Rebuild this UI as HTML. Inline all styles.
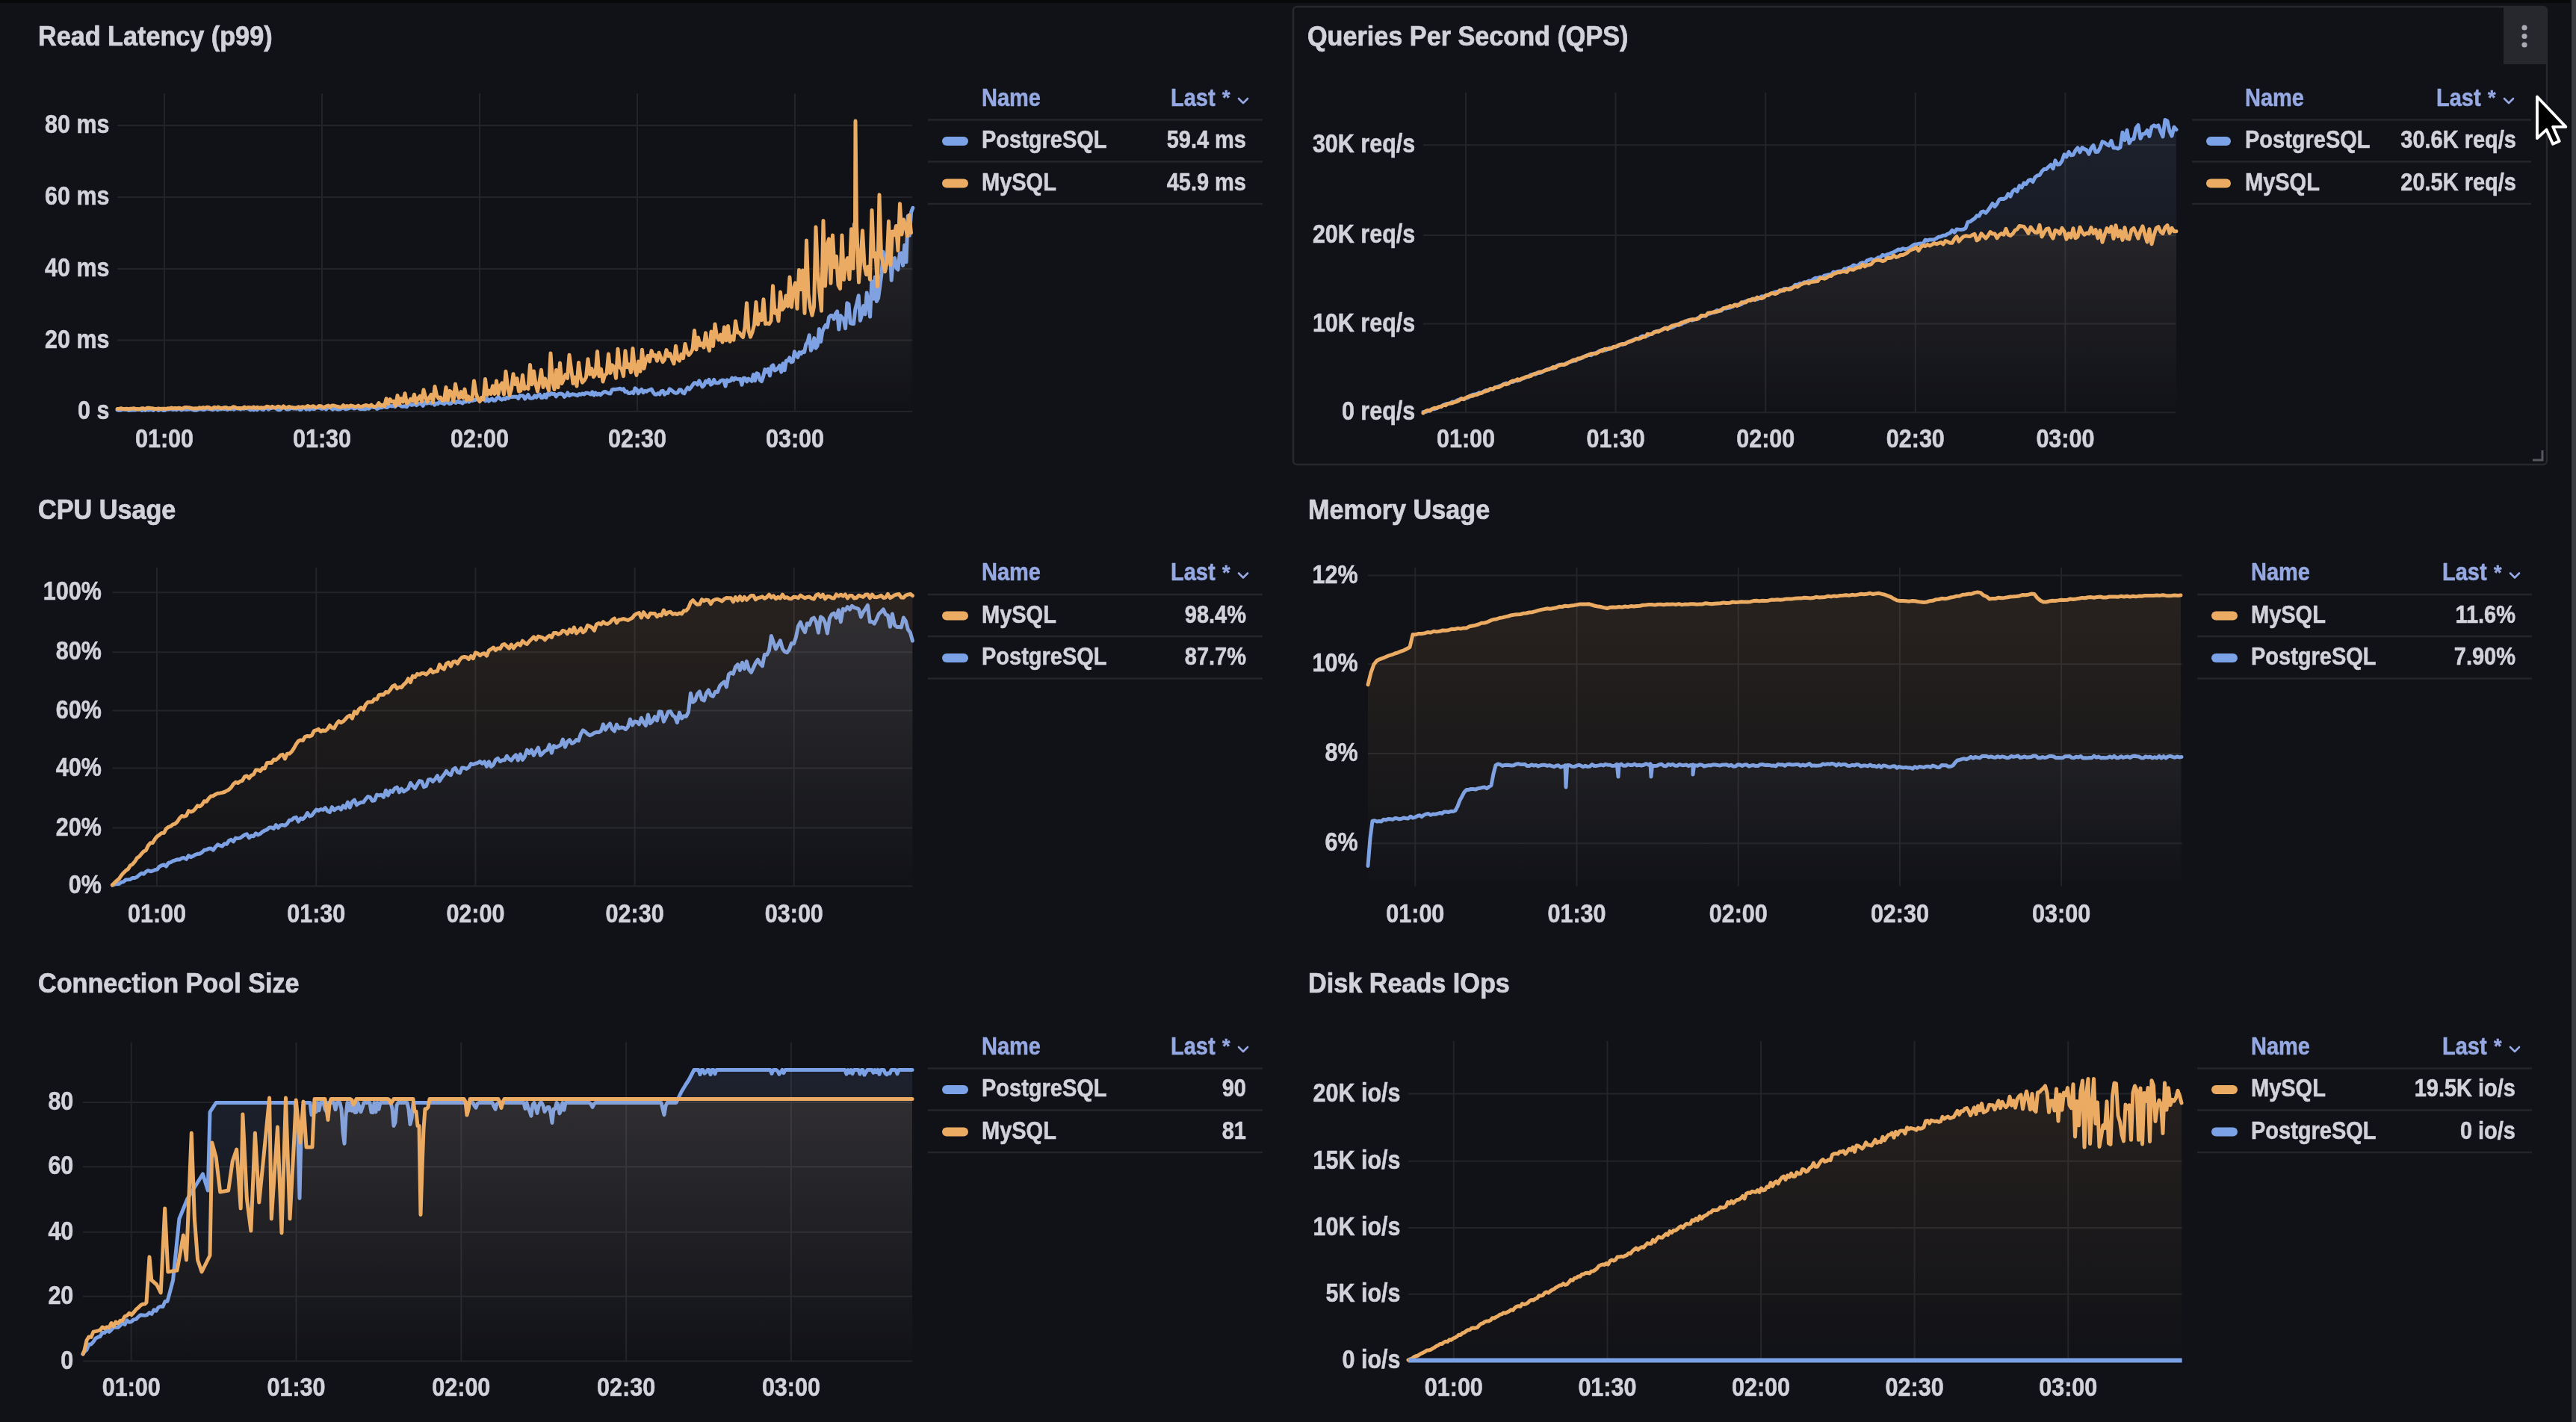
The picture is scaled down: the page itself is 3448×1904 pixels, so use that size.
<!DOCTYPE html>
<html><head><meta charset="utf-8"><title>Dashboard</title>
<style>
html,body{margin:0;padding:0;background:#111217;width:3448px;height:1904px;overflow:hidden;position:relative}
svg{display:block;filter:blur(0.75px)}
text{font-family:"Liberation Sans", sans-serif;}
.t{font-size:34.2px;font-weight:700;fill:#d2d3da;stroke:#d2d3da;stroke-width:0.7px}
.ax{font-size:30.5px;font-weight:700;fill:#d2d3da;stroke:#d2d3da;stroke-width:0.5px}
.lh{font-size:29px;font-weight:700;fill:#95a8e2;stroke:#95a8e2;stroke-width:0.5px}
.lg{font-size:29px;font-weight:700;fill:#d2d3da;stroke:#d2d3da;stroke-width:0.5px}
</style></head><body>
<svg width="3448" height="1904" viewBox="0 0 3448 1904">
<defs><linearGradient id="g_rl_b" gradientUnits="userSpaceOnUse" x1="0" y1="125" x2="0" y2="551"><stop offset="0" stop-color="#7ba1e6" stop-opacity="0.12"/><stop offset="1" stop-color="#7ba1e6" stop-opacity="0.0"/></linearGradient>
<linearGradient id="g_rl_o" gradientUnits="userSpaceOnUse" x1="0" y1="125" x2="0" y2="551"><stop offset="0" stop-color="#ebab62" stop-opacity="0.115"/><stop offset="1" stop-color="#ebab62" stop-opacity="0.0"/></linearGradient>
<linearGradient id="g_q_b" gradientUnits="userSpaceOnUse" x1="0" y1="124" x2="0" y2="552.3"><stop offset="0" stop-color="#7ba1e6" stop-opacity="0.12"/><stop offset="1" stop-color="#7ba1e6" stop-opacity="0.0"/></linearGradient>
<linearGradient id="g_q_o" gradientUnits="userSpaceOnUse" x1="0" y1="124" x2="0" y2="552.3"><stop offset="0" stop-color="#ebab62" stop-opacity="0.115"/><stop offset="1" stop-color="#ebab62" stop-opacity="0.0"/></linearGradient>
<linearGradient id="g_c_b" gradientUnits="userSpaceOnUse" x1="0" y1="760" x2="0" y2="1186.4"><stop offset="0" stop-color="#7ba1e6" stop-opacity="0.12"/><stop offset="1" stop-color="#7ba1e6" stop-opacity="0.0"/></linearGradient>
<linearGradient id="g_c_o" gradientUnits="userSpaceOnUse" x1="0" y1="760" x2="0" y2="1186.4"><stop offset="0" stop-color="#ebab62" stop-opacity="0.115"/><stop offset="1" stop-color="#ebab62" stop-opacity="0.0"/></linearGradient>
<linearGradient id="g_m_b" gradientUnits="userSpaceOnUse" x1="0" y1="760" x2="0" y2="1186.4"><stop offset="0" stop-color="#7ba1e6" stop-opacity="0.12"/><stop offset="1" stop-color="#7ba1e6" stop-opacity="0.0"/></linearGradient>
<linearGradient id="g_m_o" gradientUnits="userSpaceOnUse" x1="0" y1="760" x2="0" y2="1186.4"><stop offset="0" stop-color="#ebab62" stop-opacity="0.115"/><stop offset="1" stop-color="#ebab62" stop-opacity="0.0"/></linearGradient>
<linearGradient id="g_p_b" gradientUnits="userSpaceOnUse" x1="0" y1="1395.5" x2="0" y2="1822.6"><stop offset="0" stop-color="#7ba1e6" stop-opacity="0.12"/><stop offset="1" stop-color="#7ba1e6" stop-opacity="0.0"/></linearGradient>
<linearGradient id="g_p_o" gradientUnits="userSpaceOnUse" x1="0" y1="1395.5" x2="0" y2="1822.6"><stop offset="0" stop-color="#ebab62" stop-opacity="0.115"/><stop offset="1" stop-color="#ebab62" stop-opacity="0.0"/></linearGradient>
<linearGradient id="g_d_o" gradientUnits="userSpaceOnUse" x1="0" y1="1394" x2="0" y2="1822"><stop offset="0" stop-color="#ebab62" stop-opacity="0.115"/><stop offset="1" stop-color="#ebab62" stop-opacity="0.0"/></linearGradient>
<linearGradient id="g_d_b" gradientUnits="userSpaceOnUse" x1="0" y1="1394" x2="0" y2="1822"><stop offset="0" stop-color="#7ba1e6" stop-opacity="0.0"/><stop offset="1" stop-color="#7ba1e6" stop-opacity="0.0"/></linearGradient></defs>
<rect x="0" y="0" width="3448" height="1904" fill="#111217"/>

<rect x="1731" y="9" width="1678" height="613" rx="5" fill="none" stroke="#26282d" stroke-width="2.5"/>
<path d="M3351,9 H3404 a5,5 0 0 1 5,5 V86 H3351 Z" fill="#27272e"/>
<circle cx="3379" cy="37" r="3.6" fill="#a9aab2"/>
<circle cx="3379" cy="48.5" r="3.6" fill="#a9aab2"/>
<circle cx="3379" cy="60" r="3.6" fill="#a9aab2"/>
<path d="M3403,603 V616 H3390" fill="none" stroke="#55575e" stroke-width="3"/>
<line x1="157" y1="168" x2="1221" y2="168" stroke="#232429" stroke-width="2"/>
<line x1="157" y1="264" x2="1221" y2="264" stroke="#232429" stroke-width="2"/>
<line x1="157" y1="360" x2="1221" y2="360" stroke="#232429" stroke-width="2"/>
<line x1="157" y1="455.5" x2="1221" y2="455.5" stroke="#232429" stroke-width="2"/>
<line x1="157" y1="551" x2="1221" y2="551" stroke="#232429" stroke-width="2"/>
<line x1="220.0" y1="125" x2="220.0" y2="551" stroke="#232429" stroke-width="2"/>
<line x1="431.0" y1="125" x2="431.0" y2="551" stroke="#232429" stroke-width="2"/>
<line x1="642.0" y1="125" x2="642.0" y2="551" stroke="#232429" stroke-width="2"/>
<line x1="853.0" y1="125" x2="853.0" y2="551" stroke="#232429" stroke-width="2"/>
<line x1="1064.0" y1="125" x2="1064.0" y2="551" stroke="#232429" stroke-width="2"/>
<path d="M157.0,548.9 L159.2,549.3 L161.4,549.3 L163.6,548.2 L165.8,547.9 L168.0,548.6 L170.2,548.4 L172.4,549.5 L174.6,549.2 L176.8,549.0 L179.0,548.9 L181.2,549.1 L183.4,548.0 L185.6,548.6 L187.8,548.0 L190.0,549.6 L192.2,547.7 L194.4,549.4 L196.6,547.7 L198.8,549.1 L201.0,548.2 L203.2,548.4 L205.4,549.4 L207.6,547.5 L209.8,547.5 L212.0,549.5 L214.2,548.5 L216.4,547.5 L218.6,549.6 L220.8,549.5 L223.0,547.5 L225.2,548.2 L227.4,547.5 L229.6,547.9 L231.8,548.6 L234.0,547.5 L236.2,548.8 L238.4,547.2 L240.6,547.5 L242.8,549.0 L245.0,548.0 L247.2,548.0 L249.4,548.4 L251.6,548.1 L253.8,547.9 L256.0,546.9 L258.2,548.7 L260.4,549.3 L262.6,549.3 L264.8,548.5 L267.0,547.7 L269.2,547.7 L271.4,548.5 L273.6,548.4 L275.8,546.9 L278.0,547.2 L280.2,547.6 L282.4,547.9 L284.6,548.7 L286.8,547.9 L289.0,546.5 L291.2,548.7 L293.4,547.6 L295.6,547.8 L297.8,547.0 L300.0,547.5 L302.2,547.4 L304.4,548.5 L306.6,546.6 L308.8,547.8 L311.0,546.7 L313.2,548.2 L315.4,546.3 L317.6,546.9 L319.8,547.1 L322.0,548.0 L324.2,546.2 L326.4,547.4 L328.6,546.6 L330.8,546.8 L333.0,547.4 L335.2,548.8 L337.4,547.4 L339.6,548.8 L341.8,546.4 L344.0,548.7 L346.2,546.9 L348.4,546.4 L350.6,548.1 L352.8,548.6 L355.0,545.7 L357.2,546.5 L359.4,548.1 L361.6,546.7 L363.8,546.4 L366.0,545.6 L368.2,545.7 L370.4,547.5 L372.6,548.7 L374.8,548.7 L377.0,547.1 L379.2,545.5 L381.4,546.4 L383.6,548.0 L385.8,548.1 L388.0,547.4 L390.2,546.1 L392.4,547.0 L394.6,546.8 L396.8,547.3 L399.0,546.1 L401.2,548.4 L403.4,548.2 L405.6,545.7 L407.8,546.1 L410.0,548.1 L412.2,546.0 L414.4,548.3 L416.6,546.8 L418.8,547.4 L421.0,547.4 L423.2,545.7 L425.4,545.9 L427.6,545.8 L429.8,547.3 L432.0,547.3 L434.2,545.2 L436.4,548.0 L438.6,546.2 L440.8,545.6 L443.0,546.3 L445.2,548.2 L447.4,546.7 L449.6,546.9 L451.8,548.0 L454.0,548.1 L456.2,547.4 L458.4,546.1 L460.6,546.7 L462.8,547.8 L465.0,547.4 L467.2,546.6 L469.4,545.7 L471.6,545.7 L473.8,547.1 L476.0,546.5 L478.2,544.3 L480.4,547.0 L482.6,547.7 L484.8,547.3 L487.0,547.7 L489.2,547.7 L491.4,546.2 L493.6,547.2 L495.8,545.6 L498.0,544.4 L500.2,545.4 L502.4,545.1 L504.6,547.4 L506.8,546.3 L509.0,545.5 L511.2,545.7 L513.4,543.5 L515.6,545.0 L517.8,545.6 L520.0,544.1 L522.2,543.3 L524.4,543.9 L526.6,543.3 L528.8,544.7 L531.0,542.2 L533.2,541.9 L535.4,542.7 L537.6,544.2 L539.8,544.3 L542.0,543.7 L544.2,544.8 L546.4,542.1 L548.6,540.4 L550.8,542.3 L553.0,542.0 L555.2,540.6 L557.4,542.7 L559.6,541.0 L561.8,540.4 L564.0,540.6 L566.2,543.3 L568.4,538.8 L570.6,540.3 L572.8,539.8 L575.0,539.2 L577.2,540.2 L579.4,539.0 L581.6,542.2 L583.8,540.0 L586.0,540.8 L588.2,538.1 L590.4,539.4 L592.6,539.9 L594.8,540.9 L597.0,537.8 L599.2,538.7 L601.4,540.5 L603.6,540.3 L605.8,537.1 L608.0,538.5 L610.2,539.5 L612.4,537.4 L614.6,538.7 L616.8,538.5 L619.0,540.0 L621.2,537.6 L623.4,538.1 L625.6,536.2 L627.8,538.1 L630.0,535.8 L632.2,536.6 L634.4,535.7 L636.6,535.2 L638.8,534.1 L641.0,534.4 L643.2,536.0 L645.4,534.2 L647.6,532.9 L649.8,536.8 L652.0,533.8 L654.2,537.2 L656.4,535.1 L658.6,533.8 L660.8,536.3 L663.0,536.2 L665.2,532.8 L667.4,531.5 L669.6,534.2 L671.8,535.2 L674.0,533.7 L676.2,534.5 L678.4,532.2 L680.6,533.2 L682.8,530.9 L685.0,531.5 L687.2,531.2 L689.4,531.2 L691.6,531.2 L693.8,533.5 L696.0,529.6 L698.2,529.7 L700.4,529.9 L702.6,534.1 L704.8,531.3 L707.0,528.4 L709.2,533.0 L711.4,533.2 L713.6,532.8 L715.8,529.8 L718.0,532.0 L720.2,529.3 L722.4,528.1 L724.6,532.6 L726.8,532.3 L729.0,528.3 L731.2,532.4 L733.4,526.9 L735.6,528.6 L737.8,526.6 L740.0,527.5 L742.2,527.4 L744.4,530.8 L746.6,528.0 L748.8,527.2 L751.0,527.1 L753.2,527.8 L755.4,531.3 L757.6,529.5 L759.8,526.0 L762.0,529.7 L764.2,528.5 L766.4,527.8 L768.6,528.2 L770.8,528.9 L773.0,529.7 L775.2,527.6 L777.4,528.3 L779.6,527.0 L781.8,528.0 L784.0,526.2 L786.2,526.2 L788.4,526.8 L790.6,528.0 L792.8,524.8 L795.0,529.2 L797.2,526.0 L799.4,528.4 L801.6,527.1 L803.8,528.8 L806.0,526.7 L808.2,524.8 L810.4,524.5 L812.6,525.8 L814.8,526.7 L817.0,527.1 L819.2,521.9 L821.4,521.2 L823.6,521.4 L825.8,521.1 L828.0,520.7 L830.2,520.2 L832.4,521.8 L834.6,520.7 L836.8,524.7 L839.0,524.1 L841.2,526.5 L843.4,526.5 L845.6,525.0 L847.8,526.6 L850.0,519.8 L852.2,521.4 L854.4,526.7 L856.6,523.4 L858.8,521.4 L861.0,525.7 L863.2,523.2 L865.4,524.2 L867.6,522.6 L869.8,522.1 L872.0,521.0 L874.2,525.1 L876.4,527.9 L878.6,528.2 L880.8,526.6 L883.0,528.0 L885.2,523.6 L887.4,523.2 L889.6,528.2 L891.8,525.7 L894.0,526.2 L896.2,520.8 L898.4,522.2 L900.6,524.0 L902.8,525.8 L905.0,526.4 L907.2,525.6 L909.4,521.8 L911.6,521.9 L913.8,525.9 L916.0,526.8 L918.2,522.1 L920.4,518.9 L922.6,521.3 L924.8,518.8 L927.0,515.6 L929.2,512.7 L931.4,512.8 L933.6,514.9 L935.8,509.8 L938.0,513.9 L940.2,518.0 L942.4,515.7 L944.6,510.3 L946.8,511.9 L949.0,508.3 L951.2,515.1 L953.4,513.8 L955.6,508.4 L957.8,512.5 L960.0,512.9 L962.2,512.5 L964.4,510.0 L966.6,509.0 L968.8,509.3 L971.0,517.0 L973.2,508.7 L975.4,510.6 L977.6,509.9 L979.8,506.1 L982.0,508.8 L984.2,506.1 L986.4,507.4 L988.6,507.8 L990.8,507.4 L993.0,515.2 L995.2,506.3 L997.4,506.6 L999.6,510.9 L1001.8,507.1 L1004.0,508.6 L1006.2,510.4 L1008.4,501.6 L1010.6,509.8 L1012.8,499.7 L1015.0,500.8 L1017.2,508.8 L1019.4,510.7 L1021.6,504.4 L1023.8,494.6 L1026.0,498.0 L1028.2,494.1 L1030.4,503.0 L1032.6,490.7 L1034.8,488.8 L1037.0,496.0 L1039.2,494.9 L1041.4,492.8 L1043.6,489.5 L1045.8,498.1 L1048.0,486.8 L1050.2,495.7 L1052.4,483.0 L1054.6,483.0 L1056.8,478.9 L1059.0,485.0 L1061.2,484.2 L1063.4,470.8 L1065.6,475.6 L1067.8,478.6 L1070.0,471.6 L1072.2,473.7 L1074.4,470.9 L1076.6,471.6 L1078.8,460.9 L1081.0,457.9 L1083.2,448.8 L1085.4,469.3 L1087.6,464.9 L1089.8,452.6 L1092.0,466.2 L1094.2,462.8 L1096.4,440.4 L1098.6,457.5 L1100.8,444.1 L1103.0,439.1 L1105.2,435.4 L1107.4,438.2 L1109.6,424.7 L1111.8,422.5 L1114.0,422.6 L1116.2,427.2 L1118.4,420.1 L1120.6,416.8 L1122.8,441.1 L1125.0,422.6 L1127.2,425.1 L1129.4,427.8 L1131.6,439.7 L1133.8,405.8 L1136.0,407.3 L1138.2,432.7 L1140.4,433.5 L1142.6,433.6 L1144.8,414.2 L1147.0,405.5 L1149.2,395.7 L1151.4,429.3 L1153.6,421.3 L1155.8,409.6 L1158.0,420.7 L1160.2,392.1 L1162.4,405.2 L1164.6,424.1 L1166.8,376.7 L1169.0,400.0 L1171.2,371.0 L1173.4,403.5 L1175.6,399.1 L1177.8,383.2 L1180.0,366.2 L1182.2,337.3 L1184.4,362.6 L1186.6,350.6 L1188.8,349.6 L1191.0,325.5 L1193.2,375.3 L1195.4,346.7 L1197.6,345.6 L1199.8,358.9 L1202.0,361.0 L1204.2,339.9 L1206.4,338.9 L1208.6,355.6 L1210.8,328.2 L1213.0,350.8 L1215.2,289.2 L1217.4,315.2 L1219.6,284.1 L1221.8,278.4 L1221.8,551.0 L157.0,551.0 Z" fill="url(#g_rl_b)" stroke="none"/>
<path d="M157.0,548.9 L159.2,549.3 L161.4,549.3 L163.6,548.2 L165.8,547.9 L168.0,548.6 L170.2,548.4 L172.4,549.5 L174.6,549.2 L176.8,549.0 L179.0,548.9 L181.2,549.1 L183.4,548.0 L185.6,548.6 L187.8,548.0 L190.0,549.6 L192.2,547.7 L194.4,549.4 L196.6,547.7 L198.8,549.1 L201.0,548.2 L203.2,548.4 L205.4,549.4 L207.6,547.5 L209.8,547.5 L212.0,549.5 L214.2,548.5 L216.4,547.5 L218.6,549.6 L220.8,549.5 L223.0,547.5 L225.2,548.2 L227.4,547.5 L229.6,547.9 L231.8,548.6 L234.0,547.5 L236.2,548.8 L238.4,547.2 L240.6,547.5 L242.8,549.0 L245.0,548.0 L247.2,548.0 L249.4,548.4 L251.6,548.1 L253.8,547.9 L256.0,546.9 L258.2,548.7 L260.4,549.3 L262.6,549.3 L264.8,548.5 L267.0,547.7 L269.2,547.7 L271.4,548.5 L273.6,548.4 L275.8,546.9 L278.0,547.2 L280.2,547.6 L282.4,547.9 L284.6,548.7 L286.8,547.9 L289.0,546.5 L291.2,548.7 L293.4,547.6 L295.6,547.8 L297.8,547.0 L300.0,547.5 L302.2,547.4 L304.4,548.5 L306.6,546.6 L308.8,547.8 L311.0,546.7 L313.2,548.2 L315.4,546.3 L317.6,546.9 L319.8,547.1 L322.0,548.0 L324.2,546.2 L326.4,547.4 L328.6,546.6 L330.8,546.8 L333.0,547.4 L335.2,548.8 L337.4,547.4 L339.6,548.8 L341.8,546.4 L344.0,548.7 L346.2,546.9 L348.4,546.4 L350.6,548.1 L352.8,548.6 L355.0,545.7 L357.2,546.5 L359.4,548.1 L361.6,546.7 L363.8,546.4 L366.0,545.6 L368.2,545.7 L370.4,547.5 L372.6,548.7 L374.8,548.7 L377.0,547.1 L379.2,545.5 L381.4,546.4 L383.6,548.0 L385.8,548.1 L388.0,547.4 L390.2,546.1 L392.4,547.0 L394.6,546.8 L396.8,547.3 L399.0,546.1 L401.2,548.4 L403.4,548.2 L405.6,545.7 L407.8,546.1 L410.0,548.1 L412.2,546.0 L414.4,548.3 L416.6,546.8 L418.8,547.4 L421.0,547.4 L423.2,545.7 L425.4,545.9 L427.6,545.8 L429.8,547.3 L432.0,547.3 L434.2,545.2 L436.4,548.0 L438.6,546.2 L440.8,545.6 L443.0,546.3 L445.2,548.2 L447.4,546.7 L449.6,546.9 L451.8,548.0 L454.0,548.1 L456.2,547.4 L458.4,546.1 L460.6,546.7 L462.8,547.8 L465.0,547.4 L467.2,546.6 L469.4,545.7 L471.6,545.7 L473.8,547.1 L476.0,546.5 L478.2,544.3 L480.4,547.0 L482.6,547.7 L484.8,547.3 L487.0,547.7 L489.2,547.7 L491.4,546.2 L493.6,547.2 L495.8,545.6 L498.0,544.4 L500.2,545.4 L502.4,545.1 L504.6,547.4 L506.8,546.3 L509.0,545.5 L511.2,545.7 L513.4,543.5 L515.6,545.0 L517.8,545.6 L520.0,544.1 L522.2,543.3 L524.4,543.9 L526.6,543.3 L528.8,544.7 L531.0,542.2 L533.2,541.9 L535.4,542.7 L537.6,544.2 L539.8,544.3 L542.0,543.7 L544.2,544.8 L546.4,542.1 L548.6,540.4 L550.8,542.3 L553.0,542.0 L555.2,540.6 L557.4,542.7 L559.6,541.0 L561.8,540.4 L564.0,540.6 L566.2,543.3 L568.4,538.8 L570.6,540.3 L572.8,539.8 L575.0,539.2 L577.2,540.2 L579.4,539.0 L581.6,542.2 L583.8,540.0 L586.0,540.8 L588.2,538.1 L590.4,539.4 L592.6,539.9 L594.8,540.9 L597.0,537.8 L599.2,538.7 L601.4,540.5 L603.6,540.3 L605.8,537.1 L608.0,538.5 L610.2,539.5 L612.4,537.4 L614.6,538.7 L616.8,538.5 L619.0,540.0 L621.2,537.6 L623.4,538.1 L625.6,536.2 L627.8,538.1 L630.0,535.8 L632.2,536.6 L634.4,535.7 L636.6,535.2 L638.8,534.1 L641.0,534.4 L643.2,536.0 L645.4,534.2 L647.6,532.9 L649.8,536.8 L652.0,533.8 L654.2,537.2 L656.4,535.1 L658.6,533.8 L660.8,536.3 L663.0,536.2 L665.2,532.8 L667.4,531.5 L669.6,534.2 L671.8,535.2 L674.0,533.7 L676.2,534.5 L678.4,532.2 L680.6,533.2 L682.8,530.9 L685.0,531.5 L687.2,531.2 L689.4,531.2 L691.6,531.2 L693.8,533.5 L696.0,529.6 L698.2,529.7 L700.4,529.9 L702.6,534.1 L704.8,531.3 L707.0,528.4 L709.2,533.0 L711.4,533.2 L713.6,532.8 L715.8,529.8 L718.0,532.0 L720.2,529.3 L722.4,528.1 L724.6,532.6 L726.8,532.3 L729.0,528.3 L731.2,532.4 L733.4,526.9 L735.6,528.6 L737.8,526.6 L740.0,527.5 L742.2,527.4 L744.4,530.8 L746.6,528.0 L748.8,527.2 L751.0,527.1 L753.2,527.8 L755.4,531.3 L757.6,529.5 L759.8,526.0 L762.0,529.7 L764.2,528.5 L766.4,527.8 L768.6,528.2 L770.8,528.9 L773.0,529.7 L775.2,527.6 L777.4,528.3 L779.6,527.0 L781.8,528.0 L784.0,526.2 L786.2,526.2 L788.4,526.8 L790.6,528.0 L792.8,524.8 L795.0,529.2 L797.2,526.0 L799.4,528.4 L801.6,527.1 L803.8,528.8 L806.0,526.7 L808.2,524.8 L810.4,524.5 L812.6,525.8 L814.8,526.7 L817.0,527.1 L819.2,521.9 L821.4,521.2 L823.6,521.4 L825.8,521.1 L828.0,520.7 L830.2,520.2 L832.4,521.8 L834.6,520.7 L836.8,524.7 L839.0,524.1 L841.2,526.5 L843.4,526.5 L845.6,525.0 L847.8,526.6 L850.0,519.8 L852.2,521.4 L854.4,526.7 L856.6,523.4 L858.8,521.4 L861.0,525.7 L863.2,523.2 L865.4,524.2 L867.6,522.6 L869.8,522.1 L872.0,521.0 L874.2,525.1 L876.4,527.9 L878.6,528.2 L880.8,526.6 L883.0,528.0 L885.2,523.6 L887.4,523.2 L889.6,528.2 L891.8,525.7 L894.0,526.2 L896.2,520.8 L898.4,522.2 L900.6,524.0 L902.8,525.8 L905.0,526.4 L907.2,525.6 L909.4,521.8 L911.6,521.9 L913.8,525.9 L916.0,526.8 L918.2,522.1 L920.4,518.9 L922.6,521.3 L924.8,518.8 L927.0,515.6 L929.2,512.7 L931.4,512.8 L933.6,514.9 L935.8,509.8 L938.0,513.9 L940.2,518.0 L942.4,515.7 L944.6,510.3 L946.8,511.9 L949.0,508.3 L951.2,515.1 L953.4,513.8 L955.6,508.4 L957.8,512.5 L960.0,512.9 L962.2,512.5 L964.4,510.0 L966.6,509.0 L968.8,509.3 L971.0,517.0 L973.2,508.7 L975.4,510.6 L977.6,509.9 L979.8,506.1 L982.0,508.8 L984.2,506.1 L986.4,507.4 L988.6,507.8 L990.8,507.4 L993.0,515.2 L995.2,506.3 L997.4,506.6 L999.6,510.9 L1001.8,507.1 L1004.0,508.6 L1006.2,510.4 L1008.4,501.6 L1010.6,509.8 L1012.8,499.7 L1015.0,500.8 L1017.2,508.8 L1019.4,510.7 L1021.6,504.4 L1023.8,494.6 L1026.0,498.0 L1028.2,494.1 L1030.4,503.0 L1032.6,490.7 L1034.8,488.8 L1037.0,496.0 L1039.2,494.9 L1041.4,492.8 L1043.6,489.5 L1045.8,498.1 L1048.0,486.8 L1050.2,495.7 L1052.4,483.0 L1054.6,483.0 L1056.8,478.9 L1059.0,485.0 L1061.2,484.2 L1063.4,470.8 L1065.6,475.6 L1067.8,478.6 L1070.0,471.6 L1072.2,473.7 L1074.4,470.9 L1076.6,471.6 L1078.8,460.9 L1081.0,457.9 L1083.2,448.8 L1085.4,469.3 L1087.6,464.9 L1089.8,452.6 L1092.0,466.2 L1094.2,462.8 L1096.4,440.4 L1098.6,457.5 L1100.8,444.1 L1103.0,439.1 L1105.2,435.4 L1107.4,438.2 L1109.6,424.7 L1111.8,422.5 L1114.0,422.6 L1116.2,427.2 L1118.4,420.1 L1120.6,416.8 L1122.8,441.1 L1125.0,422.6 L1127.2,425.1 L1129.4,427.8 L1131.6,439.7 L1133.8,405.8 L1136.0,407.3 L1138.2,432.7 L1140.4,433.5 L1142.6,433.6 L1144.8,414.2 L1147.0,405.5 L1149.2,395.7 L1151.4,429.3 L1153.6,421.3 L1155.8,409.6 L1158.0,420.7 L1160.2,392.1 L1162.4,405.2 L1164.6,424.1 L1166.8,376.7 L1169.0,400.0 L1171.2,371.0 L1173.4,403.5 L1175.6,399.1 L1177.8,383.2 L1180.0,366.2 L1182.2,337.3 L1184.4,362.6 L1186.6,350.6 L1188.8,349.6 L1191.0,325.5 L1193.2,375.3 L1195.4,346.7 L1197.6,345.6 L1199.8,358.9 L1202.0,361.0 L1204.2,339.9 L1206.4,338.9 L1208.6,355.6 L1210.8,328.2 L1213.0,350.8 L1215.2,289.2 L1217.4,315.2 L1219.6,284.1 L1221.8,278.4" fill="none" stroke="#7ba1e6" stroke-width="5" stroke-linejoin="round" stroke-linecap="round"/><path d="M157.0,547.5 L159.5,547.4 L162.0,546.8 L164.5,547.4 L167.0,547.4 L169.5,547.2 L172.0,547.7 L174.5,547.3 L177.0,547.1 L179.5,546.8 L182.0,547.7 L184.5,547.5 L187.0,547.7 L189.5,546.7 L192.0,546.8 L194.5,547.7 L197.0,546.3 L199.5,546.3 L202.0,546.8 L204.5,546.8 L207.0,547.5 L209.5,547.6 L212.0,546.9 L214.5,547.5 L217.0,547.3 L219.5,547.2 L222.0,547.5 L224.5,546.8 L227.0,546.9 L229.5,546.1 L232.0,546.7 L234.5,546.4 L237.0,546.7 L239.5,546.3 L242.0,546.7 L244.5,547.0 L247.0,545.6 L249.5,545.6 L252.0,545.8 L254.5,546.1 L257.0,546.8 L259.5,546.9 L262.0,546.8 L264.5,547.1 L267.0,545.8 L269.5,546.5 L272.0,545.6 L274.5,546.5 L277.0,545.3 L279.5,545.5 L282.0,547.0 L284.5,546.7 L287.0,545.3 L289.5,546.2 L292.0,545.0 L294.5,546.3 L297.0,546.8 L299.5,545.7 L302.0,545.4 L304.5,546.4 L307.0,546.7 L309.5,546.3 L312.0,544.8 L314.5,545.3 L317.0,546.6 L319.5,546.4 L322.0,546.6 L324.5,546.7 L327.0,545.0 L329.5,546.4 L332.0,545.6 L334.5,545.8 L337.0,546.3 L339.5,545.0 L342.0,546.4 L344.5,545.2 L347.0,546.4 L349.5,545.7 L352.0,546.1 L354.5,546.0 L357.0,544.2 L359.5,544.6 L362.0,545.9 L364.5,544.3 L367.0,546.0 L369.5,545.6 L372.0,544.3 L374.5,544.9 L377.0,546.2 L379.5,543.8 L382.0,545.9 L384.5,545.8 L387.0,544.4 L389.5,545.6 L392.0,545.6 L394.5,546.1 L397.0,546.0 L399.5,544.8 L402.0,545.7 L404.5,544.7 L407.0,545.3 L409.5,545.0 L412.0,543.5 L414.5,544.9 L417.0,544.6 L419.5,543.7 L422.0,545.6 L424.5,545.6 L427.0,543.4 L429.5,543.7 L432.0,545.3 L434.5,545.4 L437.0,543.8 L439.5,543.1 L442.0,545.2 L444.5,543.0 L447.0,543.1 L449.5,544.0 L452.0,544.4 L454.5,545.2 L457.0,545.3 L459.5,542.7 L462.0,544.7 L464.5,543.4 L467.0,544.6 L469.5,542.9 L472.0,543.6 L474.5,544.4 L477.0,544.6 L479.5,543.1 L482.0,544.8 L484.5,544.4 L487.0,543.4 L489.5,542.5 L492.0,543.2 L494.5,544.1 L497.0,542.1 L499.5,544.1 L502.0,544.5 L504.5,543.5 L507.0,539.7 L509.5,543.4 L512.0,542.2 L514.5,543.8 L517.0,533.8 L519.5,540.7 L522.0,534.5 L524.5,537.9 L527.0,537.3 L529.5,543.3 L532.0,529.5 L534.5,540.9 L537.0,533.5 L539.5,538.0 L542.0,526.7 L544.5,540.1 L547.0,538.1 L549.5,534.5 L552.0,536.6 L554.5,528.2 L557.0,539.6 L559.5,533.3 L562.0,530.4 L564.5,537.6 L567.0,521.9 L569.5,531.8 L572.0,538.0 L574.5,532.6 L577.0,528.5 L579.5,538.7 L582.0,517.6 L584.5,529.3 L587.0,533.3 L589.5,532.1 L592.0,536.1 L594.5,536.1 L597.0,518.4 L599.5,535.9 L602.0,523.4 L604.5,525.5 L607.0,537.0 L609.5,514.3 L612.0,527.5 L614.5,533.0 L617.0,524.6 L619.5,532.5 L622.0,521.1 L624.5,535.6 L627.0,530.9 L629.5,535.4 L632.0,533.7 L634.5,510.1 L637.0,525.9 L639.5,534.1 L642.0,537.6 L644.5,532.4 L647.0,534.8 L649.5,507.6 L652.0,529.0 L654.5,523.1 L657.0,527.5 L659.5,516.7 L662.0,527.5 L664.5,510.0 L667.0,527.7 L669.5,516.4 L672.0,513.0 L674.5,528.2 L677.0,497.2 L679.5,517.2 L682.0,529.2 L684.5,521.1 L687.0,500.7 L689.5,514.6 L692.0,506.7 L694.5,524.0 L697.0,523.2 L699.5,502.2 L702.0,520.7 L704.5,518.3 L707.0,520.5 L709.5,488.5 L712.0,514.7 L714.5,497.1 L717.0,514.1 L719.5,524.1 L722.0,511.3 L724.5,495.3 L727.0,518.6 L729.5,506.9 L732.0,515.4 L734.5,522.8 L737.0,473.1 L739.5,510.4 L742.0,521.5 L744.5,495.6 L747.0,518.8 L749.5,485.9 L752.0,513.4 L754.5,507.9 L757.0,501.5 L759.5,506.5 L762.0,475.2 L764.5,493.5 L767.0,513.5 L769.5,505.1 L772.0,517.0 L774.5,485.4 L777.0,504.8 L779.5,512.2 L782.0,509.4 L784.5,505.0 L787.0,480.8 L789.5,501.1 L792.0,493.5 L794.5,504.6 L797.0,500.8 L799.5,470.6 L802.0,503.7 L804.5,494.2 L807.0,511.0 L809.5,502.4 L812.0,500.4 L814.5,474.0 L817.0,499.5 L819.5,488.9 L822.0,491.5 L824.5,506.4 L827.0,467.2 L829.5,491.8 L832.0,493.7 L834.5,503.6 L837.0,469.8 L839.5,491.7 L842.0,487.8 L844.5,498.6 L847.0,466.4 L849.5,493.2 L852.0,502.4 L854.5,484.1 L857.0,497.4 L859.5,468.3 L862.0,493.5 L864.5,482.5 L867.0,476.4 L869.5,484.0 L872.0,469.6 L874.5,476.5 L877.0,475.6 L879.5,483.1 L882.0,472.2 L884.5,478.5 L887.0,484.6 L889.5,481.4 L892.0,468.6 L894.5,476.8 L897.0,473.6 L899.5,481.0 L902.0,486.9 L904.5,463.2 L907.0,480.5 L909.5,483.0 L912.0,474.4 L914.5,479.6 L917.0,460.4 L919.5,471.3 L922.0,475.3 L924.5,472.3 L927.0,467.8 L929.5,442.5 L932.0,468.0 L934.5,451.9 L937.0,462.5 L939.5,460.0 L942.0,465.1 L944.5,445.7 L947.0,461.2 L949.5,469.5 L952.0,444.1 L954.5,463.4 L957.0,434.0 L959.5,450.7 L962.0,455.1 L964.5,448.2 L967.0,458.1 L969.5,437.9 L972.0,455.7 L974.5,436.5 L977.0,457.3 L979.5,450.3 L982.0,455.2 L984.5,430.0 L987.0,445.2 L989.5,445.2 L992.0,448.9 L994.5,451.5 L997.0,438.5 L999.5,405.7 L1002.0,442.7 L1004.5,451.2 L1007.0,444.8 L1009.5,435.2 L1012.0,404.6 L1014.5,434.6 L1017.0,420.8 L1019.5,428.5 L1022.0,400.8 L1024.5,433.7 L1027.0,432.9 L1029.5,433.8 L1032.0,429.5 L1034.5,382.8 L1037.0,419.2 L1039.5,415.8 L1042.0,429.8 L1044.5,391.1 L1047.0,414.6 L1049.5,411.4 L1052.0,396.0 L1054.5,410.1 L1057.0,371.1 L1059.5,411.2 L1062.0,387.1 L1064.5,378.9 L1067.0,413.3 L1069.5,361.6 L1072.0,387.4 L1074.5,362.0 L1077.0,419.4 L1079.5,321.9 L1082.0,393.6 L1084.5,411.4 L1087.0,422.1 L1089.5,410.7 L1092.0,304.1 L1094.5,363.9 L1097.0,392.0 L1099.5,416.3 L1102.0,295.4 L1104.5,383.0 L1107.0,329.2 L1109.5,319.8 L1112.0,379.3 L1114.5,315.0 L1117.0,357.7 L1119.5,343.2 L1122.0,381.9 L1124.5,386.5 L1127.0,314.9 L1129.5,374.4 L1132.0,351.2 L1134.5,345.5 L1137.0,373.7 L1139.5,306.8 L1142.0,359.6 L1143.5,300.0 L1144.5,306.9 L1145.0,162.0 L1146.5,300.0 L1147.0,312.5 L1149.5,378.1 L1152.0,347.0 L1154.5,308.7 L1157.0,355.2 L1159.5,367.6 L1162.0,357.1 L1164.5,374.3 L1167.0,281.4 L1169.5,343.7 L1172.0,339.2 L1174.5,383.5 L1177.0,260.8 L1179.5,341.4 L1182.0,352.7 L1184.5,363.8 L1187.0,351.8 L1189.5,296.2 L1192.0,354.8 L1194.5,310.0 L1197.0,314.7 L1199.5,302.5 L1202.0,335.6 L1204.5,272.8 L1207.0,314.0 L1209.5,293.9 L1212.0,303.1 L1214.5,316.0 L1217.0,287.9 L1219.5,311.8 L1219.5,551.0 L157.0,551.0 Z" fill="url(#g_rl_o)" stroke="none"/>
<path d="M157.0,547.5 L159.5,547.4 L162.0,546.8 L164.5,547.4 L167.0,547.4 L169.5,547.2 L172.0,547.7 L174.5,547.3 L177.0,547.1 L179.5,546.8 L182.0,547.7 L184.5,547.5 L187.0,547.7 L189.5,546.7 L192.0,546.8 L194.5,547.7 L197.0,546.3 L199.5,546.3 L202.0,546.8 L204.5,546.8 L207.0,547.5 L209.5,547.6 L212.0,546.9 L214.5,547.5 L217.0,547.3 L219.5,547.2 L222.0,547.5 L224.5,546.8 L227.0,546.9 L229.5,546.1 L232.0,546.7 L234.5,546.4 L237.0,546.7 L239.5,546.3 L242.0,546.7 L244.5,547.0 L247.0,545.6 L249.5,545.6 L252.0,545.8 L254.5,546.1 L257.0,546.8 L259.5,546.9 L262.0,546.8 L264.5,547.1 L267.0,545.8 L269.5,546.5 L272.0,545.6 L274.5,546.5 L277.0,545.3 L279.5,545.5 L282.0,547.0 L284.5,546.7 L287.0,545.3 L289.5,546.2 L292.0,545.0 L294.5,546.3 L297.0,546.8 L299.5,545.7 L302.0,545.4 L304.5,546.4 L307.0,546.7 L309.5,546.3 L312.0,544.8 L314.5,545.3 L317.0,546.6 L319.5,546.4 L322.0,546.6 L324.5,546.7 L327.0,545.0 L329.5,546.4 L332.0,545.6 L334.5,545.8 L337.0,546.3 L339.5,545.0 L342.0,546.4 L344.5,545.2 L347.0,546.4 L349.5,545.7 L352.0,546.1 L354.5,546.0 L357.0,544.2 L359.5,544.6 L362.0,545.9 L364.5,544.3 L367.0,546.0 L369.5,545.6 L372.0,544.3 L374.5,544.9 L377.0,546.2 L379.5,543.8 L382.0,545.9 L384.5,545.8 L387.0,544.4 L389.5,545.6 L392.0,545.6 L394.5,546.1 L397.0,546.0 L399.5,544.8 L402.0,545.7 L404.5,544.7 L407.0,545.3 L409.5,545.0 L412.0,543.5 L414.5,544.9 L417.0,544.6 L419.5,543.7 L422.0,545.6 L424.5,545.6 L427.0,543.4 L429.5,543.7 L432.0,545.3 L434.5,545.4 L437.0,543.8 L439.5,543.1 L442.0,545.2 L444.5,543.0 L447.0,543.1 L449.5,544.0 L452.0,544.4 L454.5,545.2 L457.0,545.3 L459.5,542.7 L462.0,544.7 L464.5,543.4 L467.0,544.6 L469.5,542.9 L472.0,543.6 L474.5,544.4 L477.0,544.6 L479.5,543.1 L482.0,544.8 L484.5,544.4 L487.0,543.4 L489.5,542.5 L492.0,543.2 L494.5,544.1 L497.0,542.1 L499.5,544.1 L502.0,544.5 L504.5,543.5 L507.0,539.7 L509.5,543.4 L512.0,542.2 L514.5,543.8 L517.0,533.8 L519.5,540.7 L522.0,534.5 L524.5,537.9 L527.0,537.3 L529.5,543.3 L532.0,529.5 L534.5,540.9 L537.0,533.5 L539.5,538.0 L542.0,526.7 L544.5,540.1 L547.0,538.1 L549.5,534.5 L552.0,536.6 L554.5,528.2 L557.0,539.6 L559.5,533.3 L562.0,530.4 L564.5,537.6 L567.0,521.9 L569.5,531.8 L572.0,538.0 L574.5,532.6 L577.0,528.5 L579.5,538.7 L582.0,517.6 L584.5,529.3 L587.0,533.3 L589.5,532.1 L592.0,536.1 L594.5,536.1 L597.0,518.4 L599.5,535.9 L602.0,523.4 L604.5,525.5 L607.0,537.0 L609.5,514.3 L612.0,527.5 L614.5,533.0 L617.0,524.6 L619.5,532.5 L622.0,521.1 L624.5,535.6 L627.0,530.9 L629.5,535.4 L632.0,533.7 L634.5,510.1 L637.0,525.9 L639.5,534.1 L642.0,537.6 L644.5,532.4 L647.0,534.8 L649.5,507.6 L652.0,529.0 L654.5,523.1 L657.0,527.5 L659.5,516.7 L662.0,527.5 L664.5,510.0 L667.0,527.7 L669.5,516.4 L672.0,513.0 L674.5,528.2 L677.0,497.2 L679.5,517.2 L682.0,529.2 L684.5,521.1 L687.0,500.7 L689.5,514.6 L692.0,506.7 L694.5,524.0 L697.0,523.2 L699.5,502.2 L702.0,520.7 L704.5,518.3 L707.0,520.5 L709.5,488.5 L712.0,514.7 L714.5,497.1 L717.0,514.1 L719.5,524.1 L722.0,511.3 L724.5,495.3 L727.0,518.6 L729.5,506.9 L732.0,515.4 L734.5,522.8 L737.0,473.1 L739.5,510.4 L742.0,521.5 L744.5,495.6 L747.0,518.8 L749.5,485.9 L752.0,513.4 L754.5,507.9 L757.0,501.5 L759.5,506.5 L762.0,475.2 L764.5,493.5 L767.0,513.5 L769.5,505.1 L772.0,517.0 L774.5,485.4 L777.0,504.8 L779.5,512.2 L782.0,509.4 L784.5,505.0 L787.0,480.8 L789.5,501.1 L792.0,493.5 L794.5,504.6 L797.0,500.8 L799.5,470.6 L802.0,503.7 L804.5,494.2 L807.0,511.0 L809.5,502.4 L812.0,500.4 L814.5,474.0 L817.0,499.5 L819.5,488.9 L822.0,491.5 L824.5,506.4 L827.0,467.2 L829.5,491.8 L832.0,493.7 L834.5,503.6 L837.0,469.8 L839.5,491.7 L842.0,487.8 L844.5,498.6 L847.0,466.4 L849.5,493.2 L852.0,502.4 L854.5,484.1 L857.0,497.4 L859.5,468.3 L862.0,493.5 L864.5,482.5 L867.0,476.4 L869.5,484.0 L872.0,469.6 L874.5,476.5 L877.0,475.6 L879.5,483.1 L882.0,472.2 L884.5,478.5 L887.0,484.6 L889.5,481.4 L892.0,468.6 L894.5,476.8 L897.0,473.6 L899.5,481.0 L902.0,486.9 L904.5,463.2 L907.0,480.5 L909.5,483.0 L912.0,474.4 L914.5,479.6 L917.0,460.4 L919.5,471.3 L922.0,475.3 L924.5,472.3 L927.0,467.8 L929.5,442.5 L932.0,468.0 L934.5,451.9 L937.0,462.5 L939.5,460.0 L942.0,465.1 L944.5,445.7 L947.0,461.2 L949.5,469.5 L952.0,444.1 L954.5,463.4 L957.0,434.0 L959.5,450.7 L962.0,455.1 L964.5,448.2 L967.0,458.1 L969.5,437.9 L972.0,455.7 L974.5,436.5 L977.0,457.3 L979.5,450.3 L982.0,455.2 L984.5,430.0 L987.0,445.2 L989.5,445.2 L992.0,448.9 L994.5,451.5 L997.0,438.5 L999.5,405.7 L1002.0,442.7 L1004.5,451.2 L1007.0,444.8 L1009.5,435.2 L1012.0,404.6 L1014.5,434.6 L1017.0,420.8 L1019.5,428.5 L1022.0,400.8 L1024.5,433.7 L1027.0,432.9 L1029.5,433.8 L1032.0,429.5 L1034.5,382.8 L1037.0,419.2 L1039.5,415.8 L1042.0,429.8 L1044.5,391.1 L1047.0,414.6 L1049.5,411.4 L1052.0,396.0 L1054.5,410.1 L1057.0,371.1 L1059.5,411.2 L1062.0,387.1 L1064.5,378.9 L1067.0,413.3 L1069.5,361.6 L1072.0,387.4 L1074.5,362.0 L1077.0,419.4 L1079.5,321.9 L1082.0,393.6 L1084.5,411.4 L1087.0,422.1 L1089.5,410.7 L1092.0,304.1 L1094.5,363.9 L1097.0,392.0 L1099.5,416.3 L1102.0,295.4 L1104.5,383.0 L1107.0,329.2 L1109.5,319.8 L1112.0,379.3 L1114.5,315.0 L1117.0,357.7 L1119.5,343.2 L1122.0,381.9 L1124.5,386.5 L1127.0,314.9 L1129.5,374.4 L1132.0,351.2 L1134.5,345.5 L1137.0,373.7 L1139.5,306.8 L1142.0,359.6 L1143.5,300.0 L1144.5,306.9 L1145.0,162.0 L1146.5,300.0 L1147.0,312.5 L1149.5,378.1 L1152.0,347.0 L1154.5,308.7 L1157.0,355.2 L1159.5,367.6 L1162.0,357.1 L1164.5,374.3 L1167.0,281.4 L1169.5,343.7 L1172.0,339.2 L1174.5,383.5 L1177.0,260.8 L1179.5,341.4 L1182.0,352.7 L1184.5,363.8 L1187.0,351.8 L1189.5,296.2 L1192.0,354.8 L1194.5,310.0 L1197.0,314.7 L1199.5,302.5 L1202.0,335.6 L1204.5,272.8 L1207.0,314.0 L1209.5,293.9 L1212.0,303.1 L1214.5,316.0 L1217.0,287.9 L1219.5,311.8" fill="none" stroke="#ebab62" stroke-width="5" stroke-linejoin="round" stroke-linecap="round"/>
<text transform="translate(51.0,60.5) scale(1,1.06)" class="t">Read Latency (p99)</text>
<text transform="translate(146.5,178.0) scale(1,1.13)" class="ax" text-anchor="end">80 ms</text>
<text transform="translate(146.5,274.0) scale(1,1.13)" class="ax" text-anchor="end">60 ms</text>
<text transform="translate(146.5,370.0) scale(1,1.13)" class="ax" text-anchor="end">40 ms</text>
<text transform="translate(146.5,465.5) scale(1,1.13)" class="ax" text-anchor="end">20 ms</text>
<text transform="translate(146.5,561.0) scale(1,1.13)" class="ax" text-anchor="end">0 s</text>
<text transform="translate(220.0,599.0) scale(1,1.13)" class="ax" text-anchor="middle">01:00</text>
<text transform="translate(431.0,599.0) scale(1,1.13)" class="ax" text-anchor="middle">01:30</text>
<text transform="translate(642.0,599.0) scale(1,1.13)" class="ax" text-anchor="middle">02:00</text>
<text transform="translate(853.0,599.0) scale(1,1.13)" class="ax" text-anchor="middle">02:30</text>
<text transform="translate(1064.0,599.0) scale(1,1.13)" class="ax" text-anchor="middle">03:00</text>
<text transform="translate(1314.0,141.5) scale(1,1.14)" class="lh">Name</text>
<text transform="translate(1567.0,141.5) scale(1,1.14)" class="lh">Last</text>
<text x="1636.0" y="140.0" class="lh" style="font-size:27px">*</text>
<path d="M1658,132 L1664,138 L1670,132" fill="none" stroke="#95a8e2" stroke-width="2.6" stroke-linecap="round" stroke-linejoin="round"/>
<line x1="1242" y1="160.5" x2="1690" y2="160.5" stroke="#24252a" stroke-width="2.5"/>
<line x1="1242" y1="216.5" x2="1690" y2="216.5" stroke="#24252a" stroke-width="2.5"/>
<line x1="1242" y1="273" x2="1690" y2="273" stroke="#24252a" stroke-width="2.5"/>
<rect x="1261" y="183.0" width="35" height="12" rx="6" fill="#7ba1e6"/>
<text transform="translate(1314.0,198.0) scale(1,1.14)" class="lg">PostgreSQL</text>
<text transform="translate(1668.0,198.0) scale(1,1.14)" class="lg" text-anchor="end">59.4 ms</text>
<rect x="1261" y="239.5" width="35" height="12" rx="6" fill="#ebab62"/>
<text transform="translate(1314.0,254.5) scale(1,1.14)" class="lg">MySQL</text>
<text transform="translate(1668.0,254.5) scale(1,1.14)" class="lg" text-anchor="end">45.9 ms</text>
<line x1="1905" y1="194.3" x2="2912" y2="194.3" stroke="#232429" stroke-width="2"/>
<line x1="1905" y1="315" x2="2912" y2="315" stroke="#232429" stroke-width="2"/>
<line x1="1905" y1="433.5" x2="2912" y2="433.5" stroke="#232429" stroke-width="2"/>
<line x1="1905" y1="552.3" x2="2912" y2="552.3" stroke="#232429" stroke-width="2"/>
<line x1="1962.0" y1="124" x2="1962.0" y2="552.3" stroke="#232429" stroke-width="2"/>
<line x1="2162.6" y1="124" x2="2162.6" y2="552.3" stroke="#232429" stroke-width="2"/>
<line x1="2363.2" y1="124" x2="2363.2" y2="552.3" stroke="#232429" stroke-width="2"/>
<line x1="2563.8" y1="124" x2="2563.8" y2="552.3" stroke="#232429" stroke-width="2"/>
<line x1="2764.4" y1="124" x2="2764.4" y2="552.3" stroke="#232429" stroke-width="2"/>
<path d="M1905.0,551.6 L1908.0,551.6 L1911.0,550.5 L1914.0,549.2 L1917.0,547.6 L1920.0,547.7 L1923.0,546.7 L1926.0,545.1 L1929.0,544.0 L1932.0,542.4 L1935.0,540.9 L1938.0,540.6 L1941.0,540.1 L1944.0,538.0 L1947.0,538.4 L1950.0,536.2 L1953.0,535.2 L1956.0,533.7 L1959.0,534.7 L1962.0,533.1 L1965.0,532.4 L1968.0,530.8 L1971.0,528.5 L1974.0,528.1 L1977.0,527.4 L1980.0,525.6 L1983.0,526.3 L1986.0,524.1 L1989.0,522.6 L1992.0,523.0 L1995.0,520.4 L1998.0,521.1 L2001.0,519.1 L2004.0,518.2 L2007.0,516.8 L2010.0,516.0 L2013.0,514.3 L2016.0,513.0 L2019.0,513.8 L2022.0,511.3 L2025.0,511.5 L2028.0,509.2 L2031.0,509.9 L2034.0,508.7 L2037.0,507.3 L2040.0,506.3 L2043.0,504.9 L2046.0,504.2 L2049.0,501.8 L2052.0,501.5 L2055.0,501.3 L2058.0,498.8 L2061.0,499.4 L2064.0,498.3 L2067.0,496.2 L2070.0,495.0 L2073.0,494.2 L2076.0,493.0 L2079.0,493.4 L2082.0,491.0 L2085.0,489.1 L2088.0,488.2 L2091.0,488.6 L2094.0,488.2 L2097.0,486.0 L2100.0,485.0 L2103.0,484.1 L2106.0,483.5 L2109.0,481.2 L2112.0,481.1 L2115.0,480.0 L2118.0,479.1 L2121.0,477.0 L2124.0,475.9 L2127.0,475.3 L2130.0,475.7 L2133.0,473.2 L2136.0,472.8 L2139.0,471.1 L2142.0,469.6 L2145.0,468.4 L2148.0,469.2 L2151.0,468.1 L2154.0,466.1 L2157.0,465.8 L2160.0,464.7 L2163.0,464.2 L2166.0,463.3 L2169.0,461.0 L2172.0,461.4 L2175.0,460.3 L2178.0,458.3 L2181.0,458.0 L2184.0,456.0 L2187.0,454.7 L2190.0,453.3 L2193.0,453.8 L2196.0,451.0 L2199.0,449.8 L2202.0,450.6 L2205.0,449.5 L2208.0,447.7 L2211.0,447.6 L2214.0,444.5 L2217.0,444.0 L2220.0,443.1 L2223.0,442.4 L2226.0,440.7 L2229.0,439.4 L2232.0,439.0 L2235.0,439.4 L2238.0,438.6 L2241.0,437.0 L2244.0,435.3 L2247.0,433.6 L2250.0,434.4 L2253.0,432.3 L2256.0,431.8 L2259.0,428.9 L2262.0,428.4 L2265.0,429.0 L2268.0,427.8 L2271.0,427.0 L2274.0,425.2 L2277.0,423.7 L2280.0,423.1 L2283.0,422.8 L2286.0,420.3 L2289.0,419.9 L2292.0,418.2 L2295.0,418.4 L2298.0,415.4 L2301.0,416.2 L2304.0,416.0 L2307.0,412.5 L2310.0,413.1 L2313.0,412.3 L2316.0,411.9 L2319.0,410.3 L2322.0,408.5 L2325.0,407.9 L2328.0,408.5 L2331.0,407.4 L2334.0,404.4 L2337.0,403.3 L2340.0,402.4 L2343.0,401.3 L2346.0,401.5 L2349.0,399.7 L2352.0,400.8 L2355.0,399.2 L2358.0,396.8 L2361.0,397.0 L2364.0,395.5 L2367.0,395.0 L2370.0,393.2 L2373.0,392.0 L2376.0,391.0 L2379.0,390.6 L2382.0,390.5 L2385.0,389.0 L2388.0,386.6 L2391.0,387.4 L2394.0,386.9 L2397.0,385.6 L2400.0,384.6 L2403.0,381.3 L2406.0,381.6 L2409.0,379.5 L2412.0,380.4 L2415.0,377.7 L2418.0,378.2 L2421.0,375.9 L2424.0,376.2 L2427.0,374.0 L2430.0,372.2 L2433.0,372.2 L2436.0,371.0 L2439.0,371.7 L2442.0,368.9 L2445.0,368.5 L2448.0,367.6 L2451.0,367.7 L2454.0,364.2 L2457.0,364.7 L2460.0,363.4 L2463.0,363.0 L2466.0,362.7 L2469.0,359.7 L2472.0,359.9 L2475.0,358.3 L2478.0,357.4 L2481.0,354.9 L2484.0,356.1 L2487.0,355.6 L2490.0,352.7 L2493.0,351.6 L2496.0,352.6 L2499.0,348.9 L2502.0,347.8 L2505.0,346.7 L2508.0,348.0 L2511.0,346.9 L2514.0,344.8 L2517.0,344.4 L2520.0,341.3 L2523.0,342.5 L2526.0,340.7 L2529.0,340.0 L2532.0,338.5 L2535.0,337.5 L2538.0,335.8 L2541.0,334.0 L2544.0,334.5 L2547.0,332.7 L2550.0,333.6 L2553.0,333.1 L2556.0,331.7 L2559.0,329.5 L2562.0,327.5 L2565.0,327.1 L2568.0,326.5 L2571.0,326.0 L2574.0,326.5 L2577.0,321.2 L2580.0,322.0 L2583.0,320.9 L2586.0,321.0 L2589.0,320.7 L2592.0,319.1 L2595.0,317.2 L2598.0,316.8 L2601.0,315.2 L2604.0,315.2 L2607.0,313.2 L2610.0,312.0 L2613.0,308.5 L2616.0,311.2 L2619.0,307.0 L2622.0,307.3 L2625.0,307.4 L2628.0,307.1 L2631.0,305.5 L2634.0,297.2 L2637.0,296.8 L2640.0,294.5 L2643.0,292.7 L2646.0,288.8 L2649.0,289.2 L2652.0,283.8 L2655.0,283.0 L2658.0,285.1 L2661.0,281.5 L2664.0,277.2 L2667.0,272.5 L2670.0,276.7 L2673.0,272.9 L2676.0,267.2 L2679.0,266.2 L2682.0,266.5 L2685.0,264.9 L2688.0,259.6 L2691.0,263.1 L2694.0,256.1 L2697.0,253.6 L2700.0,256.4 L2703.0,248.7 L2706.0,251.1 L2709.0,245.1 L2712.0,246.5 L2715.0,241.7 L2718.0,240.6 L2721.0,243.5 L2724.0,237.3 L2727.0,235.0 L2730.0,234.6 L2733.0,229.5 L2736.0,226.5 L2739.0,226.4 L2742.0,223.3 L2745.0,220.5 L2748.0,225.9 L2751.0,214.9 L2754.0,220.4 L2757.0,219.7 L2760.0,215.5 L2763.0,206.8 L2766.0,210.1 L2769.0,203.4 L2772.0,207.9 L2775.0,207.3 L2778.0,201.4 L2781.0,197.9 L2784.0,203.8 L2787.0,197.5 L2790.0,199.6 L2793.0,200.9 L2796.0,206.3 L2799.0,198.5 L2802.0,194.6 L2805.0,203.4 L2808.0,203.2 L2811.0,198.0 L2814.0,189.7 L2817.0,190.9 L2820.0,193.4 L2823.0,194.9 L2826.0,188.4 L2829.0,197.9 L2832.0,198.0 L2835.0,199.1 L2838.0,197.4 L2841.0,177.2 L2844.0,187.6 L2847.0,174.3 L2850.0,191.8 L2853.0,186.7 L2856.0,186.3 L2859.0,171.5 L2862.0,167.5 L2865.0,185.5 L2868.0,179.5 L2871.0,179.1 L2874.0,174.5 L2877.0,182.5 L2880.0,170.1 L2883.0,167.9 L2886.0,169.7 L2889.0,167.8 L2892.0,176.2 L2895.0,182.9 L2898.0,160.4 L2901.0,161.9 L2904.0,175.8 L2907.0,182.1 L2910.0,170.2 L2913.0,173.6 L2913.0,552.3 L1905.0,552.3 Z" fill="url(#g_q_b)" stroke="none"/>
<path d="M1905.0,551.6 L1908.0,551.6 L1911.0,550.5 L1914.0,549.2 L1917.0,547.6 L1920.0,547.7 L1923.0,546.7 L1926.0,545.1 L1929.0,544.0 L1932.0,542.4 L1935.0,540.9 L1938.0,540.6 L1941.0,540.1 L1944.0,538.0 L1947.0,538.4 L1950.0,536.2 L1953.0,535.2 L1956.0,533.7 L1959.0,534.7 L1962.0,533.1 L1965.0,532.4 L1968.0,530.8 L1971.0,528.5 L1974.0,528.1 L1977.0,527.4 L1980.0,525.6 L1983.0,526.3 L1986.0,524.1 L1989.0,522.6 L1992.0,523.0 L1995.0,520.4 L1998.0,521.1 L2001.0,519.1 L2004.0,518.2 L2007.0,516.8 L2010.0,516.0 L2013.0,514.3 L2016.0,513.0 L2019.0,513.8 L2022.0,511.3 L2025.0,511.5 L2028.0,509.2 L2031.0,509.9 L2034.0,508.7 L2037.0,507.3 L2040.0,506.3 L2043.0,504.9 L2046.0,504.2 L2049.0,501.8 L2052.0,501.5 L2055.0,501.3 L2058.0,498.8 L2061.0,499.4 L2064.0,498.3 L2067.0,496.2 L2070.0,495.0 L2073.0,494.2 L2076.0,493.0 L2079.0,493.4 L2082.0,491.0 L2085.0,489.1 L2088.0,488.2 L2091.0,488.6 L2094.0,488.2 L2097.0,486.0 L2100.0,485.0 L2103.0,484.1 L2106.0,483.5 L2109.0,481.2 L2112.0,481.1 L2115.0,480.0 L2118.0,479.1 L2121.0,477.0 L2124.0,475.9 L2127.0,475.3 L2130.0,475.7 L2133.0,473.2 L2136.0,472.8 L2139.0,471.1 L2142.0,469.6 L2145.0,468.4 L2148.0,469.2 L2151.0,468.1 L2154.0,466.1 L2157.0,465.8 L2160.0,464.7 L2163.0,464.2 L2166.0,463.3 L2169.0,461.0 L2172.0,461.4 L2175.0,460.3 L2178.0,458.3 L2181.0,458.0 L2184.0,456.0 L2187.0,454.7 L2190.0,453.3 L2193.0,453.8 L2196.0,451.0 L2199.0,449.8 L2202.0,450.6 L2205.0,449.5 L2208.0,447.7 L2211.0,447.6 L2214.0,444.5 L2217.0,444.0 L2220.0,443.1 L2223.0,442.4 L2226.0,440.7 L2229.0,439.4 L2232.0,439.0 L2235.0,439.4 L2238.0,438.6 L2241.0,437.0 L2244.0,435.3 L2247.0,433.6 L2250.0,434.4 L2253.0,432.3 L2256.0,431.8 L2259.0,428.9 L2262.0,428.4 L2265.0,429.0 L2268.0,427.8 L2271.0,427.0 L2274.0,425.2 L2277.0,423.7 L2280.0,423.1 L2283.0,422.8 L2286.0,420.3 L2289.0,419.9 L2292.0,418.2 L2295.0,418.4 L2298.0,415.4 L2301.0,416.2 L2304.0,416.0 L2307.0,412.5 L2310.0,413.1 L2313.0,412.3 L2316.0,411.9 L2319.0,410.3 L2322.0,408.5 L2325.0,407.9 L2328.0,408.5 L2331.0,407.4 L2334.0,404.4 L2337.0,403.3 L2340.0,402.4 L2343.0,401.3 L2346.0,401.5 L2349.0,399.7 L2352.0,400.8 L2355.0,399.2 L2358.0,396.8 L2361.0,397.0 L2364.0,395.5 L2367.0,395.0 L2370.0,393.2 L2373.0,392.0 L2376.0,391.0 L2379.0,390.6 L2382.0,390.5 L2385.0,389.0 L2388.0,386.6 L2391.0,387.4 L2394.0,386.9 L2397.0,385.6 L2400.0,384.6 L2403.0,381.3 L2406.0,381.6 L2409.0,379.5 L2412.0,380.4 L2415.0,377.7 L2418.0,378.2 L2421.0,375.9 L2424.0,376.2 L2427.0,374.0 L2430.0,372.2 L2433.0,372.2 L2436.0,371.0 L2439.0,371.7 L2442.0,368.9 L2445.0,368.5 L2448.0,367.6 L2451.0,367.7 L2454.0,364.2 L2457.0,364.7 L2460.0,363.4 L2463.0,363.0 L2466.0,362.7 L2469.0,359.7 L2472.0,359.9 L2475.0,358.3 L2478.0,357.4 L2481.0,354.9 L2484.0,356.1 L2487.0,355.6 L2490.0,352.7 L2493.0,351.6 L2496.0,352.6 L2499.0,348.9 L2502.0,347.8 L2505.0,346.7 L2508.0,348.0 L2511.0,346.9 L2514.0,344.8 L2517.0,344.4 L2520.0,341.3 L2523.0,342.5 L2526.0,340.7 L2529.0,340.0 L2532.0,338.5 L2535.0,337.5 L2538.0,335.8 L2541.0,334.0 L2544.0,334.5 L2547.0,332.7 L2550.0,333.6 L2553.0,333.1 L2556.0,331.7 L2559.0,329.5 L2562.0,327.5 L2565.0,327.1 L2568.0,326.5 L2571.0,326.0 L2574.0,326.5 L2577.0,321.2 L2580.0,322.0 L2583.0,320.9 L2586.0,321.0 L2589.0,320.7 L2592.0,319.1 L2595.0,317.2 L2598.0,316.8 L2601.0,315.2 L2604.0,315.2 L2607.0,313.2 L2610.0,312.0 L2613.0,308.5 L2616.0,311.2 L2619.0,307.0 L2622.0,307.3 L2625.0,307.4 L2628.0,307.1 L2631.0,305.5 L2634.0,297.2 L2637.0,296.8 L2640.0,294.5 L2643.0,292.7 L2646.0,288.8 L2649.0,289.2 L2652.0,283.8 L2655.0,283.0 L2658.0,285.1 L2661.0,281.5 L2664.0,277.2 L2667.0,272.5 L2670.0,276.7 L2673.0,272.9 L2676.0,267.2 L2679.0,266.2 L2682.0,266.5 L2685.0,264.9 L2688.0,259.6 L2691.0,263.1 L2694.0,256.1 L2697.0,253.6 L2700.0,256.4 L2703.0,248.7 L2706.0,251.1 L2709.0,245.1 L2712.0,246.5 L2715.0,241.7 L2718.0,240.6 L2721.0,243.5 L2724.0,237.3 L2727.0,235.0 L2730.0,234.6 L2733.0,229.5 L2736.0,226.5 L2739.0,226.4 L2742.0,223.3 L2745.0,220.5 L2748.0,225.9 L2751.0,214.9 L2754.0,220.4 L2757.0,219.7 L2760.0,215.5 L2763.0,206.8 L2766.0,210.1 L2769.0,203.4 L2772.0,207.9 L2775.0,207.3 L2778.0,201.4 L2781.0,197.9 L2784.0,203.8 L2787.0,197.5 L2790.0,199.6 L2793.0,200.9 L2796.0,206.3 L2799.0,198.5 L2802.0,194.6 L2805.0,203.4 L2808.0,203.2 L2811.0,198.0 L2814.0,189.7 L2817.0,190.9 L2820.0,193.4 L2823.0,194.9 L2826.0,188.4 L2829.0,197.9 L2832.0,198.0 L2835.0,199.1 L2838.0,197.4 L2841.0,177.2 L2844.0,187.6 L2847.0,174.3 L2850.0,191.8 L2853.0,186.7 L2856.0,186.3 L2859.0,171.5 L2862.0,167.5 L2865.0,185.5 L2868.0,179.5 L2871.0,179.1 L2874.0,174.5 L2877.0,182.5 L2880.0,170.1 L2883.0,167.9 L2886.0,169.7 L2889.0,167.8 L2892.0,176.2 L2895.0,182.9 L2898.0,160.4 L2901.0,161.9 L2904.0,175.8 L2907.0,182.1 L2910.0,170.2 L2913.0,173.6" fill="none" stroke="#7ba1e6" stroke-width="5" stroke-linejoin="round" stroke-linecap="round"/><path d="M1905.0,553.2 L1908.0,550.5 L1911.0,549.3 L1914.0,550.2 L1917.0,547.5 L1920.0,546.3 L1923.0,546.4 L1926.0,544.7 L1929.0,544.8 L1932.0,542.4 L1935.0,542.9 L1938.0,540.5 L1941.0,540.1 L1944.0,539.8 L1947.0,538.2 L1950.0,537.7 L1953.0,536.2 L1956.0,533.7 L1959.0,534.5 L1962.0,532.8 L1965.0,531.2 L1968.0,529.9 L1971.0,530.3 L1974.0,528.7 L1977.0,528.4 L1980.0,527.0 L1983.0,526.4 L1986.0,524.5 L1989.0,523.8 L1992.0,522.5 L1995.0,520.7 L1998.0,521.3 L2001.0,518.7 L2004.0,518.8 L2007.0,518.2 L2010.0,516.4 L2013.0,514.2 L2016.0,514.8 L2019.0,513.4 L2022.0,511.2 L2025.0,509.8 L2028.0,509.9 L2031.0,507.7 L2034.0,508.8 L2037.0,506.8 L2040.0,505.8 L2043.0,504.4 L2046.0,504.0 L2049.0,503.6 L2052.0,501.1 L2055.0,500.2 L2058.0,499.7 L2061.0,497.9 L2064.0,497.7 L2067.0,496.5 L2070.0,495.2 L2073.0,494.8 L2076.0,493.4 L2079.0,491.2 L2082.0,492.5 L2085.0,489.8 L2088.0,489.0 L2091.0,487.9 L2094.0,488.2 L2097.0,487.2 L2100.0,485.0 L2103.0,483.7 L2106.0,481.9 L2109.0,483.0 L2112.0,480.0 L2115.0,480.0 L2118.0,478.4 L2121.0,477.3 L2124.0,476.3 L2127.0,474.8 L2130.0,473.4 L2133.0,473.7 L2136.0,473.4 L2139.0,472.0 L2142.0,469.7 L2145.0,470.0 L2148.0,467.2 L2151.0,467.2 L2154.0,467.3 L2157.0,466.5 L2160.0,464.2 L2163.0,464.3 L2166.0,462.2 L2169.0,461.3 L2172.0,460.4 L2175.0,460.6 L2178.0,458.8 L2181.0,457.0 L2184.0,456.7 L2187.0,455.4 L2190.0,453.5 L2193.0,453.8 L2196.0,452.8 L2199.0,451.2 L2202.0,451.1 L2205.0,447.3 L2208.0,447.7 L2211.0,447.1 L2214.0,445.2 L2217.0,443.6 L2220.0,444.2 L2223.0,442.4 L2226.0,440.8 L2229.0,439.1 L2232.0,440.9 L2235.0,438.0 L2238.0,436.2 L2241.0,435.5 L2244.0,434.6 L2247.0,435.4 L2250.0,432.2 L2253.0,431.5 L2256.0,429.9 L2259.0,430.0 L2262.0,428.2 L2265.0,427.6 L2268.0,427.8 L2271.0,427.4 L2274.0,426.1 L2277.0,422.4 L2280.0,422.5 L2283.0,423.0 L2286.0,419.3 L2289.0,418.8 L2292.0,418.7 L2295.0,417.3 L2298.0,417.5 L2301.0,416.4 L2304.0,414.6 L2307.0,413.0 L2310.0,412.0 L2313.0,411.1 L2316.0,409.5 L2319.0,410.6 L2322.0,408.0 L2325.0,409.5 L2328.0,407.7 L2331.0,404.8 L2334.0,405.4 L2337.0,404.8 L2340.0,401.9 L2343.0,402.5 L2346.0,400.0 L2349.0,401.6 L2352.0,398.0 L2355.0,399.3 L2358.0,399.6 L2361.0,398.2 L2364.0,395.1 L2367.0,395.2 L2370.0,392.9 L2373.0,392.6 L2376.0,393.6 L2379.0,392.5 L2382.0,388.7 L2385.0,389.1 L2388.0,389.1 L2391.0,386.5 L2394.0,387.8 L2397.0,387.2 L2400.0,385.0 L2403.0,383.4 L2406.0,384.3 L2409.0,382.1 L2412.0,380.0 L2415.0,379.4 L2418.0,378.0 L2421.0,379.6 L2424.0,377.4 L2427.0,377.2 L2430.0,376.7 L2433.0,376.4 L2436.0,372.5 L2439.0,372.4 L2442.0,373.2 L2445.0,371.9 L2448.0,369.5 L2451.0,369.6 L2454.0,366.9 L2457.0,365.9 L2460.0,364.5 L2463.0,364.8 L2466.0,363.4 L2469.0,363.5 L2472.0,364.4 L2475.0,360.2 L2478.0,360.9 L2481.0,361.2 L2484.0,359.2 L2487.0,358.0 L2490.0,358.0 L2493.0,354.1 L2496.0,356.9 L2499.0,354.9 L2502.0,354.5 L2505.0,353.6 L2508.0,349.7 L2511.0,348.5 L2514.0,348.1 L2517.0,348.6 L2520.0,349.7 L2523.0,348.6 L2526.0,345.4 L2529.0,345.4 L2532.0,345.1 L2535.0,342.1 L2538.0,344.5 L2541.0,343.5 L2544.0,341.4 L2547.0,341.5 L2550.0,340.0 L2553.0,338.3 L2556.0,335.5 L2559.0,334.3 L2562.0,333.1 L2565.0,331.1 L2568.0,335.6 L2571.0,331.0 L2574.0,328.5 L2577.0,329.6 L2580.0,327.4 L2583.0,328.9 L2586.0,327.4 L2589.0,325.6 L2592.0,326.8 L2595.0,325.7 L2598.0,324.5 L2601.0,327.0 L2604.0,322.6 L2607.0,323.6 L2610.0,325.3 L2613.0,325.2 L2616.0,320.0 L2619.0,316.7 L2622.0,323.3 L2625.0,319.6 L2628.0,316.9 L2631.0,315.8 L2634.0,316.3 L2637.0,316.5 L2640.0,314.6 L2643.0,313.4 L2646.0,321.8 L2649.0,320.0 L2652.0,312.7 L2655.0,316.0 L2658.0,319.0 L2661.0,315.6 L2664.0,310.5 L2667.0,313.1 L2670.0,313.0 L2673.0,318.8 L2676.0,314.5 L2679.0,312.6 L2682.0,314.2 L2685.0,306.4 L2688.0,314.1 L2691.0,315.4 L2694.0,313.1 L2697.0,308.5 L2700.0,306.9 L2703.0,302.5 L2706.0,302.9 L2709.0,303.4 L2712.0,307.4 L2715.0,312.5 L2718.0,304.0 L2721.0,308.3 L2724.0,311.2 L2727.0,311.4 L2730.0,301.3 L2733.0,317.0 L2736.0,311.5 L2739.0,306.7 L2742.0,305.8 L2745.0,314.3 L2748.0,319.2 L2751.0,308.2 L2754.0,309.6 L2757.0,313.0 L2760.0,305.4 L2763.0,309.8 L2766.0,320.2 L2769.0,312.5 L2772.0,318.0 L2775.0,305.8 L2778.0,318.8 L2781.0,316.8 L2784.0,304.2 L2787.0,310.9 L2790.0,314.2 L2793.0,312.0 L2796.0,312.9 L2799.0,304.6 L2802.0,312.3 L2805.0,307.7 L2808.0,318.9 L2811.0,308.6 L2814.0,324.2 L2817.0,314.4 L2820.0,305.5 L2823.0,310.6 L2826.0,303.4 L2829.0,319.5 L2832.0,301.8 L2835.0,316.6 L2838.0,309.1 L2841.0,321.4 L2844.0,304.7 L2847.0,319.2 L2850.0,320.2 L2853.0,307.9 L2856.0,305.4 L2859.0,311.8 L2862.0,319.2 L2865.0,309.3 L2868.0,302.9 L2871.0,314.3 L2874.0,324.0 L2877.0,306.8 L2880.0,326.8 L2883.0,315.1 L2886.0,305.7 L2889.0,303.7 L2892.0,310.3 L2895.0,312.7 L2898.0,304.5 L2901.0,301.7 L2904.0,312.1 L2907.0,305.3 L2910.0,309.8 L2913.0,309.7 L2913.0,552.3 L1905.0,552.3 Z" fill="url(#g_q_o)" stroke="none"/>
<path d="M1905.0,553.2 L1908.0,550.5 L1911.0,549.3 L1914.0,550.2 L1917.0,547.5 L1920.0,546.3 L1923.0,546.4 L1926.0,544.7 L1929.0,544.8 L1932.0,542.4 L1935.0,542.9 L1938.0,540.5 L1941.0,540.1 L1944.0,539.8 L1947.0,538.2 L1950.0,537.7 L1953.0,536.2 L1956.0,533.7 L1959.0,534.5 L1962.0,532.8 L1965.0,531.2 L1968.0,529.9 L1971.0,530.3 L1974.0,528.7 L1977.0,528.4 L1980.0,527.0 L1983.0,526.4 L1986.0,524.5 L1989.0,523.8 L1992.0,522.5 L1995.0,520.7 L1998.0,521.3 L2001.0,518.7 L2004.0,518.8 L2007.0,518.2 L2010.0,516.4 L2013.0,514.2 L2016.0,514.8 L2019.0,513.4 L2022.0,511.2 L2025.0,509.8 L2028.0,509.9 L2031.0,507.7 L2034.0,508.8 L2037.0,506.8 L2040.0,505.8 L2043.0,504.4 L2046.0,504.0 L2049.0,503.6 L2052.0,501.1 L2055.0,500.2 L2058.0,499.7 L2061.0,497.9 L2064.0,497.7 L2067.0,496.5 L2070.0,495.2 L2073.0,494.8 L2076.0,493.4 L2079.0,491.2 L2082.0,492.5 L2085.0,489.8 L2088.0,489.0 L2091.0,487.9 L2094.0,488.2 L2097.0,487.2 L2100.0,485.0 L2103.0,483.7 L2106.0,481.9 L2109.0,483.0 L2112.0,480.0 L2115.0,480.0 L2118.0,478.4 L2121.0,477.3 L2124.0,476.3 L2127.0,474.8 L2130.0,473.4 L2133.0,473.7 L2136.0,473.4 L2139.0,472.0 L2142.0,469.7 L2145.0,470.0 L2148.0,467.2 L2151.0,467.2 L2154.0,467.3 L2157.0,466.5 L2160.0,464.2 L2163.0,464.3 L2166.0,462.2 L2169.0,461.3 L2172.0,460.4 L2175.0,460.6 L2178.0,458.8 L2181.0,457.0 L2184.0,456.7 L2187.0,455.4 L2190.0,453.5 L2193.0,453.8 L2196.0,452.8 L2199.0,451.2 L2202.0,451.1 L2205.0,447.3 L2208.0,447.7 L2211.0,447.1 L2214.0,445.2 L2217.0,443.6 L2220.0,444.2 L2223.0,442.4 L2226.0,440.8 L2229.0,439.1 L2232.0,440.9 L2235.0,438.0 L2238.0,436.2 L2241.0,435.5 L2244.0,434.6 L2247.0,435.4 L2250.0,432.2 L2253.0,431.5 L2256.0,429.9 L2259.0,430.0 L2262.0,428.2 L2265.0,427.6 L2268.0,427.8 L2271.0,427.4 L2274.0,426.1 L2277.0,422.4 L2280.0,422.5 L2283.0,423.0 L2286.0,419.3 L2289.0,418.8 L2292.0,418.7 L2295.0,417.3 L2298.0,417.5 L2301.0,416.4 L2304.0,414.6 L2307.0,413.0 L2310.0,412.0 L2313.0,411.1 L2316.0,409.5 L2319.0,410.6 L2322.0,408.0 L2325.0,409.5 L2328.0,407.7 L2331.0,404.8 L2334.0,405.4 L2337.0,404.8 L2340.0,401.9 L2343.0,402.5 L2346.0,400.0 L2349.0,401.6 L2352.0,398.0 L2355.0,399.3 L2358.0,399.6 L2361.0,398.2 L2364.0,395.1 L2367.0,395.2 L2370.0,392.9 L2373.0,392.6 L2376.0,393.6 L2379.0,392.5 L2382.0,388.7 L2385.0,389.1 L2388.0,389.1 L2391.0,386.5 L2394.0,387.8 L2397.0,387.2 L2400.0,385.0 L2403.0,383.4 L2406.0,384.3 L2409.0,382.1 L2412.0,380.0 L2415.0,379.4 L2418.0,378.0 L2421.0,379.6 L2424.0,377.4 L2427.0,377.2 L2430.0,376.7 L2433.0,376.4 L2436.0,372.5 L2439.0,372.4 L2442.0,373.2 L2445.0,371.9 L2448.0,369.5 L2451.0,369.6 L2454.0,366.9 L2457.0,365.9 L2460.0,364.5 L2463.0,364.8 L2466.0,363.4 L2469.0,363.5 L2472.0,364.4 L2475.0,360.2 L2478.0,360.9 L2481.0,361.2 L2484.0,359.2 L2487.0,358.0 L2490.0,358.0 L2493.0,354.1 L2496.0,356.9 L2499.0,354.9 L2502.0,354.5 L2505.0,353.6 L2508.0,349.7 L2511.0,348.5 L2514.0,348.1 L2517.0,348.6 L2520.0,349.7 L2523.0,348.6 L2526.0,345.4 L2529.0,345.4 L2532.0,345.1 L2535.0,342.1 L2538.0,344.5 L2541.0,343.5 L2544.0,341.4 L2547.0,341.5 L2550.0,340.0 L2553.0,338.3 L2556.0,335.5 L2559.0,334.3 L2562.0,333.1 L2565.0,331.1 L2568.0,335.6 L2571.0,331.0 L2574.0,328.5 L2577.0,329.6 L2580.0,327.4 L2583.0,328.9 L2586.0,327.4 L2589.0,325.6 L2592.0,326.8 L2595.0,325.7 L2598.0,324.5 L2601.0,327.0 L2604.0,322.6 L2607.0,323.6 L2610.0,325.3 L2613.0,325.2 L2616.0,320.0 L2619.0,316.7 L2622.0,323.3 L2625.0,319.6 L2628.0,316.9 L2631.0,315.8 L2634.0,316.3 L2637.0,316.5 L2640.0,314.6 L2643.0,313.4 L2646.0,321.8 L2649.0,320.0 L2652.0,312.7 L2655.0,316.0 L2658.0,319.0 L2661.0,315.6 L2664.0,310.5 L2667.0,313.1 L2670.0,313.0 L2673.0,318.8 L2676.0,314.5 L2679.0,312.6 L2682.0,314.2 L2685.0,306.4 L2688.0,314.1 L2691.0,315.4 L2694.0,313.1 L2697.0,308.5 L2700.0,306.9 L2703.0,302.5 L2706.0,302.9 L2709.0,303.4 L2712.0,307.4 L2715.0,312.5 L2718.0,304.0 L2721.0,308.3 L2724.0,311.2 L2727.0,311.4 L2730.0,301.3 L2733.0,317.0 L2736.0,311.5 L2739.0,306.7 L2742.0,305.8 L2745.0,314.3 L2748.0,319.2 L2751.0,308.2 L2754.0,309.6 L2757.0,313.0 L2760.0,305.4 L2763.0,309.8 L2766.0,320.2 L2769.0,312.5 L2772.0,318.0 L2775.0,305.8 L2778.0,318.8 L2781.0,316.8 L2784.0,304.2 L2787.0,310.9 L2790.0,314.2 L2793.0,312.0 L2796.0,312.9 L2799.0,304.6 L2802.0,312.3 L2805.0,307.7 L2808.0,318.9 L2811.0,308.6 L2814.0,324.2 L2817.0,314.4 L2820.0,305.5 L2823.0,310.6 L2826.0,303.4 L2829.0,319.5 L2832.0,301.8 L2835.0,316.6 L2838.0,309.1 L2841.0,321.4 L2844.0,304.7 L2847.0,319.2 L2850.0,320.2 L2853.0,307.9 L2856.0,305.4 L2859.0,311.8 L2862.0,319.2 L2865.0,309.3 L2868.0,302.9 L2871.0,314.3 L2874.0,324.0 L2877.0,306.8 L2880.0,326.8 L2883.0,315.1 L2886.0,305.7 L2889.0,303.7 L2892.0,310.3 L2895.0,312.7 L2898.0,304.5 L2901.0,301.7 L2904.0,312.1 L2907.0,305.3 L2910.0,309.8 L2913.0,309.7" fill="none" stroke="#ebab62" stroke-width="5" stroke-linejoin="round" stroke-linecap="round"/>
<text transform="translate(1750.0,60.5) scale(1,1.06)" class="t">Queries Per Second (QPS)</text>
<text transform="translate(1894.2,204.3) scale(1,1.13)" class="ax" text-anchor="end">30K req/s</text>
<text transform="translate(1894.2,325.0) scale(1,1.13)" class="ax" text-anchor="end">20K req/s</text>
<text transform="translate(1894.2,443.5) scale(1,1.13)" class="ax" text-anchor="end">10K req/s</text>
<text transform="translate(1894.2,562.3) scale(1,1.13)" class="ax" text-anchor="end">0 req/s</text>
<text transform="translate(1962.0,599.0) scale(1,1.13)" class="ax" text-anchor="middle">01:00</text>
<text transform="translate(2162.6,599.0) scale(1,1.13)" class="ax" text-anchor="middle">01:30</text>
<text transform="translate(2363.2,599.0) scale(1,1.13)" class="ax" text-anchor="middle">02:00</text>
<text transform="translate(2563.8,599.0) scale(1,1.13)" class="ax" text-anchor="middle">02:30</text>
<text transform="translate(2764.4,599.0) scale(1,1.13)" class="ax" text-anchor="middle">03:00</text>
<text transform="translate(3005.0,141.5) scale(1,1.14)" class="lh">Name</text>
<text transform="translate(3261.0,141.5) scale(1,1.14)" class="lh">Last</text>
<text x="3330.0" y="140.0" class="lh" style="font-size:27px">*</text>
<path d="M3352,132 L3358,138 L3364,132" fill="none" stroke="#95a8e2" stroke-width="2.6" stroke-linecap="round" stroke-linejoin="round"/>
<line x1="2934" y1="160.5" x2="3388" y2="160.5" stroke="#24252a" stroke-width="2.5"/>
<line x1="2934" y1="216.5" x2="3388" y2="216.5" stroke="#24252a" stroke-width="2.5"/>
<line x1="2934" y1="273" x2="3388" y2="273" stroke="#24252a" stroke-width="2.5"/>
<rect x="2953" y="183.0" width="33" height="12" rx="6" fill="#7ba1e6"/>
<text transform="translate(3005.0,198.0) scale(1,1.14)" class="lg">PostgreSQL</text>
<text transform="translate(3368.0,198.0) scale(1,1.14)" class="lg" text-anchor="end">30.6K req/s</text>
<rect x="2953" y="239.5" width="33" height="12" rx="6" fill="#ebab62"/>
<text transform="translate(3005.0,254.5) scale(1,1.14)" class="lg">MySQL</text>
<text transform="translate(3368.0,254.5) scale(1,1.14)" class="lg" text-anchor="end">20.5K req/s</text>
<line x1="150.4" y1="793.2" x2="1221" y2="793.2" stroke="#232429" stroke-width="2"/>
<line x1="150.4" y1="873.3" x2="1221" y2="873.3" stroke="#232429" stroke-width="2"/>
<line x1="150.4" y1="951.5" x2="1221" y2="951.5" stroke="#232429" stroke-width="2"/>
<line x1="150.4" y1="1028.5" x2="1221" y2="1028.5" stroke="#232429" stroke-width="2"/>
<line x1="150.4" y1="1108.5" x2="1221" y2="1108.5" stroke="#232429" stroke-width="2"/>
<line x1="150.4" y1="1186.4" x2="1221" y2="1186.4" stroke="#232429" stroke-width="2"/>
<line x1="210.0" y1="760" x2="210.0" y2="1186.4" stroke="#232429" stroke-width="2"/>
<line x1="423.2" y1="760" x2="423.2" y2="1186.4" stroke="#232429" stroke-width="2"/>
<line x1="636.4" y1="760" x2="636.4" y2="1186.4" stroke="#232429" stroke-width="2"/>
<line x1="849.6" y1="760" x2="849.6" y2="1186.4" stroke="#232429" stroke-width="2"/>
<line x1="1062.8" y1="760" x2="1062.8" y2="1186.4" stroke="#232429" stroke-width="2"/>
<path d="M150.4,1185.2 L153.4,1184.2 L156.4,1183.2 L159.4,1183.4 L162.4,1181.3 L165.4,1180.6 L168.4,1177.9 L171.4,1177.8 L174.4,1177.5 L177.4,1175.5 L180.4,1175.5 L183.4,1174.2 L186.4,1171.5 L189.4,1169.2 L192.4,1170.3 L195.4,1167.1 L198.4,1165.5 L201.4,1166.8 L204.4,1166.0 L207.4,1164.8 L210.4,1164.1 L213.4,1160.3 L216.4,1158.7 L219.4,1157.8 L222.4,1160.0 L225.4,1155.5 L228.4,1154.6 L231.4,1152.9 L234.4,1151.9 L237.4,1150.7 L240.4,1151.0 L243.4,1149.0 L246.4,1148.6 L249.4,1150.4 L252.4,1145.7 L255.4,1147.7 L258.4,1146.3 L261.4,1144.4 L264.4,1143.3 L267.4,1143.2 L270.4,1141.2 L273.4,1138.3 L276.4,1137.8 L279.4,1136.2 L282.4,1136.0 L285.4,1138.2 L288.4,1134.0 L291.4,1130.9 L294.4,1132.2 L297.4,1133.1 L300.4,1129.8 L303.4,1130.3 L306.4,1125.6 L309.4,1124.3 L312.4,1126.9 L315.4,1122.1 L318.4,1122.6 L321.4,1122.1 L324.4,1119.9 L327.4,1117.9 L330.4,1116.7 L333.4,1121.8 L336.4,1119.1 L339.4,1119.8 L342.4,1115.8 L345.4,1117.9 L348.4,1116.3 L351.4,1113.7 L354.4,1112.0 L357.4,1110.9 L360.4,1108.0 L363.4,1108.0 L366.4,1109.4 L369.4,1104.7 L372.4,1108.3 L375.4,1104.9 L378.4,1104.6 L381.4,1105.2 L384.4,1102.9 L387.4,1098.2 L390.4,1098.0 L393.4,1095.2 L396.4,1094.3 L399.4,1100.1 L402.4,1095.7 L405.4,1096.8 L408.4,1093.7 L411.4,1088.5 L414.4,1092.9 L417.4,1091.9 L420.4,1087.7 L423.4,1084.1 L426.4,1085.4 L429.4,1083.5 L432.4,1084.5 L435.4,1081.6 L438.4,1086.0 L441.4,1087.6 L444.4,1080.7 L447.4,1084.7 L450.4,1082.5 L453.4,1081.0 L456.4,1083.9 L459.4,1078.9 L462.4,1081.7 L465.4,1074.1 L468.4,1081.2 L471.4,1073.6 L474.4,1071.1 L477.4,1077.8 L480.4,1075.6 L483.4,1074.3 L486.4,1074.2 L489.4,1069.9 L492.4,1066.6 L495.4,1067.5 L498.4,1072.3 L501.4,1071.7 L504.4,1064.0 L507.4,1065.0 L510.4,1064.2 L513.4,1067.4 L516.4,1058.2 L519.4,1064.9 L522.4,1058.6 L525.4,1060.4 L528.4,1055.5 L531.4,1054.1 L534.4,1060.8 L537.4,1056.2 L540.4,1059.8 L543.4,1057.8 L546.4,1055.8 L549.4,1048.3 L552.4,1052.4 L555.4,1055.6 L558.4,1050.4 L561.4,1045.6 L564.4,1046.3 L567.4,1053.7 L570.4,1052.5 L573.4,1044.0 L576.4,1043.5 L579.4,1046.4 L582.4,1043.2 L585.4,1038.7 L588.4,1045.8 L591.4,1040.9 L594.4,1037.1 L597.4,1032.3 L600.4,1036.3 L603.4,1037.7 L606.4,1030.4 L609.4,1028.3 L612.4,1033.9 L615.4,1034.9 L618.4,1027.9 L621.4,1028.2 L624.4,1029.4 L627.4,1027.5 L630.4,1022.6 L633.4,1023.6 L636.4,1022.2 L639.4,1021.5 L642.4,1019.6 L645.4,1022.4 L648.4,1019.9 L651.4,1026.3 L654.4,1019.8 L657.4,1026.4 L660.4,1024.1 L663.4,1017.3 L666.4,1015.4 L669.4,1019.6 L672.4,1017.8 L675.4,1017.8 L678.4,1012.3 L681.4,1016.3 L684.4,1018.2 L687.4,1013.8 L690.4,1010.8 L693.4,1018.0 L696.4,1009.8 L699.4,1017.4 L702.4,1013.0 L705.4,1004.0 L708.4,1008.6 L711.4,1004.2 L714.4,1011.3 L717.4,1006.1 L720.4,1001.1 L723.4,1011.3 L726.4,1008.6 L729.4,1005.5 L732.4,1004.2 L735.4,997.1 L738.4,1008.1 L741.4,998.6 L744.4,1000.7 L747.4,999.2 L750.4,997.5 L753.4,990.0 L756.4,1000.2 L759.4,993.4 L762.4,990.6 L765.4,995.5 L768.4,994.0 L771.4,990.6 L774.4,991.8 L777.4,982.6 L780.4,977.8 L783.4,979.8 L786.4,982.7 L789.4,984.7 L792.4,983.4 L795.4,981.3 L798.4,980.3 L801.4,980.6 L804.4,978.7 L807.4,969.9 L810.4,977.1 L813.4,972.4 L816.4,968.8 L819.4,976.2 L822.4,979.0 L825.4,970.0 L828.4,975.2 L831.4,974.0 L834.4,974.2 L837.4,976.5 L840.4,973.2 L843.4,963.1 L846.4,970.8 L849.4,966.0 L852.4,966.4 L855.4,969.9 L858.4,961.2 L861.4,967.5 L864.4,971.6 L867.4,957.0 L870.4,968.6 L873.4,965.5 L876.4,959.7 L879.4,964.8 L882.4,952.7 L885.4,953.2 L888.4,966.2 L891.4,960.2 L894.4,952.9 L897.4,952.4 L900.4,957.9 L903.4,959.8 L906.4,967.5 L909.4,954.1 L912.4,961.9 L915.4,958.8 L918.4,959.3 L921.4,953.5 L924.4,928.3 L927.4,940.2 L930.4,937.9 L933.4,929.2 L936.4,926.0 L939.4,936.5 L942.4,937.9 L945.4,928.3 L948.4,924.0 L951.4,931.0 L954.4,932.5 L957.4,926.2 L960.4,926.6 L963.4,918.5 L966.4,915.3 L969.4,913.0 L972.4,919.8 L975.4,903.0 L978.4,900.6 L981.4,902.3 L984.4,893.0 L987.4,889.7 L990.4,897.4 L993.4,887.2 L996.4,895.5 L999.4,885.6 L1002.4,896.4 L1005.4,900.3 L1008.4,894.1 L1011.4,887.5 L1014.4,883.2 L1017.4,888.8 L1020.4,891.7 L1023.4,876.5 L1026.4,876.8 L1029.4,871.0 L1032.4,851.5 L1035.4,860.4 L1038.4,869.0 L1041.4,863.3 L1044.4,857.7 L1047.4,868.7 L1050.4,872.6 L1053.4,873.7 L1056.4,869.9 L1059.4,861.2 L1062.4,861.9 L1065.4,853.2 L1068.4,838.4 L1071.4,832.9 L1074.4,841.5 L1077.4,846.6 L1080.4,834.7 L1083.4,836.6 L1086.4,828.8 L1089.4,827.2 L1092.4,832.3 L1095.4,847.1 L1098.4,826.0 L1101.4,827.8 L1104.4,833.8 L1107.4,848.0 L1110.4,828.0 L1113.4,822.4 L1116.4,821.0 L1119.4,827.2 L1122.4,816.9 L1125.4,832.7 L1128.4,815.3 L1131.4,817.1 L1134.4,812.7 L1137.4,816.2 L1140.4,811.4 L1143.4,813.5 L1146.4,814.4 L1149.4,815.6 L1152.4,826.1 L1155.4,819.4 L1158.4,815.3 L1161.4,810.3 L1164.4,832.6 L1167.4,832.5 L1170.4,835.0 L1173.4,829.0 L1176.4,821.9 L1179.4,819.3 L1182.4,816.0 L1185.4,822.7 L1188.4,824.0 L1191.4,839.3 L1194.4,822.0 L1197.4,836.8 L1200.4,839.4 L1203.4,839.4 L1206.4,840.0 L1209.4,827.0 L1212.4,831.6 L1215.4,843.1 L1218.4,847.1 L1221.4,858.0 L1221.4,1186.4 L150.4,1186.4 Z" fill="url(#g_c_b)" stroke="none"/>
<path d="M150.4,1185.2 L153.4,1184.2 L156.4,1183.2 L159.4,1183.4 L162.4,1181.3 L165.4,1180.6 L168.4,1177.9 L171.4,1177.8 L174.4,1177.5 L177.4,1175.5 L180.4,1175.5 L183.4,1174.2 L186.4,1171.5 L189.4,1169.2 L192.4,1170.3 L195.4,1167.1 L198.4,1165.5 L201.4,1166.8 L204.4,1166.0 L207.4,1164.8 L210.4,1164.1 L213.4,1160.3 L216.4,1158.7 L219.4,1157.8 L222.4,1160.0 L225.4,1155.5 L228.4,1154.6 L231.4,1152.9 L234.4,1151.9 L237.4,1150.7 L240.4,1151.0 L243.4,1149.0 L246.4,1148.6 L249.4,1150.4 L252.4,1145.7 L255.4,1147.7 L258.4,1146.3 L261.4,1144.4 L264.4,1143.3 L267.4,1143.2 L270.4,1141.2 L273.4,1138.3 L276.4,1137.8 L279.4,1136.2 L282.4,1136.0 L285.4,1138.2 L288.4,1134.0 L291.4,1130.9 L294.4,1132.2 L297.4,1133.1 L300.4,1129.8 L303.4,1130.3 L306.4,1125.6 L309.4,1124.3 L312.4,1126.9 L315.4,1122.1 L318.4,1122.6 L321.4,1122.1 L324.4,1119.9 L327.4,1117.9 L330.4,1116.7 L333.4,1121.8 L336.4,1119.1 L339.4,1119.8 L342.4,1115.8 L345.4,1117.9 L348.4,1116.3 L351.4,1113.7 L354.4,1112.0 L357.4,1110.9 L360.4,1108.0 L363.4,1108.0 L366.4,1109.4 L369.4,1104.7 L372.4,1108.3 L375.4,1104.9 L378.4,1104.6 L381.4,1105.2 L384.4,1102.9 L387.4,1098.2 L390.4,1098.0 L393.4,1095.2 L396.4,1094.3 L399.4,1100.1 L402.4,1095.7 L405.4,1096.8 L408.4,1093.7 L411.4,1088.5 L414.4,1092.9 L417.4,1091.9 L420.4,1087.7 L423.4,1084.1 L426.4,1085.4 L429.4,1083.5 L432.4,1084.5 L435.4,1081.6 L438.4,1086.0 L441.4,1087.6 L444.4,1080.7 L447.4,1084.7 L450.4,1082.5 L453.4,1081.0 L456.4,1083.9 L459.4,1078.9 L462.4,1081.7 L465.4,1074.1 L468.4,1081.2 L471.4,1073.6 L474.4,1071.1 L477.4,1077.8 L480.4,1075.6 L483.4,1074.3 L486.4,1074.2 L489.4,1069.9 L492.4,1066.6 L495.4,1067.5 L498.4,1072.3 L501.4,1071.7 L504.4,1064.0 L507.4,1065.0 L510.4,1064.2 L513.4,1067.4 L516.4,1058.2 L519.4,1064.9 L522.4,1058.6 L525.4,1060.4 L528.4,1055.5 L531.4,1054.1 L534.4,1060.8 L537.4,1056.2 L540.4,1059.8 L543.4,1057.8 L546.4,1055.8 L549.4,1048.3 L552.4,1052.4 L555.4,1055.6 L558.4,1050.4 L561.4,1045.6 L564.4,1046.3 L567.4,1053.7 L570.4,1052.5 L573.4,1044.0 L576.4,1043.5 L579.4,1046.4 L582.4,1043.2 L585.4,1038.7 L588.4,1045.8 L591.4,1040.9 L594.4,1037.1 L597.4,1032.3 L600.4,1036.3 L603.4,1037.7 L606.4,1030.4 L609.4,1028.3 L612.4,1033.9 L615.4,1034.9 L618.4,1027.9 L621.4,1028.2 L624.4,1029.4 L627.4,1027.5 L630.4,1022.6 L633.4,1023.6 L636.4,1022.2 L639.4,1021.5 L642.4,1019.6 L645.4,1022.4 L648.4,1019.9 L651.4,1026.3 L654.4,1019.8 L657.4,1026.4 L660.4,1024.1 L663.4,1017.3 L666.4,1015.4 L669.4,1019.6 L672.4,1017.8 L675.4,1017.8 L678.4,1012.3 L681.4,1016.3 L684.4,1018.2 L687.4,1013.8 L690.4,1010.8 L693.4,1018.0 L696.4,1009.8 L699.4,1017.4 L702.4,1013.0 L705.4,1004.0 L708.4,1008.6 L711.4,1004.2 L714.4,1011.3 L717.4,1006.1 L720.4,1001.1 L723.4,1011.3 L726.4,1008.6 L729.4,1005.5 L732.4,1004.2 L735.4,997.1 L738.4,1008.1 L741.4,998.6 L744.4,1000.7 L747.4,999.2 L750.4,997.5 L753.4,990.0 L756.4,1000.2 L759.4,993.4 L762.4,990.6 L765.4,995.5 L768.4,994.0 L771.4,990.6 L774.4,991.8 L777.4,982.6 L780.4,977.8 L783.4,979.8 L786.4,982.7 L789.4,984.7 L792.4,983.4 L795.4,981.3 L798.4,980.3 L801.4,980.6 L804.4,978.7 L807.4,969.9 L810.4,977.1 L813.4,972.4 L816.4,968.8 L819.4,976.2 L822.4,979.0 L825.4,970.0 L828.4,975.2 L831.4,974.0 L834.4,974.2 L837.4,976.5 L840.4,973.2 L843.4,963.1 L846.4,970.8 L849.4,966.0 L852.4,966.4 L855.4,969.9 L858.4,961.2 L861.4,967.5 L864.4,971.6 L867.4,957.0 L870.4,968.6 L873.4,965.5 L876.4,959.7 L879.4,964.8 L882.4,952.7 L885.4,953.2 L888.4,966.2 L891.4,960.2 L894.4,952.9 L897.4,952.4 L900.4,957.9 L903.4,959.8 L906.4,967.5 L909.4,954.1 L912.4,961.9 L915.4,958.8 L918.4,959.3 L921.4,953.5 L924.4,928.3 L927.4,940.2 L930.4,937.9 L933.4,929.2 L936.4,926.0 L939.4,936.5 L942.4,937.9 L945.4,928.3 L948.4,924.0 L951.4,931.0 L954.4,932.5 L957.4,926.2 L960.4,926.6 L963.4,918.5 L966.4,915.3 L969.4,913.0 L972.4,919.8 L975.4,903.0 L978.4,900.6 L981.4,902.3 L984.4,893.0 L987.4,889.7 L990.4,897.4 L993.4,887.2 L996.4,895.5 L999.4,885.6 L1002.4,896.4 L1005.4,900.3 L1008.4,894.1 L1011.4,887.5 L1014.4,883.2 L1017.4,888.8 L1020.4,891.7 L1023.4,876.5 L1026.4,876.8 L1029.4,871.0 L1032.4,851.5 L1035.4,860.4 L1038.4,869.0 L1041.4,863.3 L1044.4,857.7 L1047.4,868.7 L1050.4,872.6 L1053.4,873.7 L1056.4,869.9 L1059.4,861.2 L1062.4,861.9 L1065.4,853.2 L1068.4,838.4 L1071.4,832.9 L1074.4,841.5 L1077.4,846.6 L1080.4,834.7 L1083.4,836.6 L1086.4,828.8 L1089.4,827.2 L1092.4,832.3 L1095.4,847.1 L1098.4,826.0 L1101.4,827.8 L1104.4,833.8 L1107.4,848.0 L1110.4,828.0 L1113.4,822.4 L1116.4,821.0 L1119.4,827.2 L1122.4,816.9 L1125.4,832.7 L1128.4,815.3 L1131.4,817.1 L1134.4,812.7 L1137.4,816.2 L1140.4,811.4 L1143.4,813.5 L1146.4,814.4 L1149.4,815.6 L1152.4,826.1 L1155.4,819.4 L1158.4,815.3 L1161.4,810.3 L1164.4,832.6 L1167.4,832.5 L1170.4,835.0 L1173.4,829.0 L1176.4,821.9 L1179.4,819.3 L1182.4,816.0 L1185.4,822.7 L1188.4,824.0 L1191.4,839.3 L1194.4,822.0 L1197.4,836.8 L1200.4,839.4 L1203.4,839.4 L1206.4,840.0 L1209.4,827.0 L1212.4,831.6 L1215.4,843.1 L1218.4,847.1 L1221.4,858.0" fill="none" stroke="#7ba1e6" stroke-width="5" stroke-linejoin="round" stroke-linecap="round"/><path d="M150.4,1185.0 L153.4,1181.9 L156.4,1179.2 L159.4,1176.6 L162.4,1172.1 L165.4,1168.7 L168.4,1165.7 L171.4,1163.7 L174.4,1158.9 L177.4,1157.2 L180.4,1153.7 L183.4,1148.9 L186.4,1146.8 L189.4,1143.2 L192.4,1139.9 L195.4,1138.4 L198.4,1132.2 L201.4,1128.7 L204.4,1128.5 L207.4,1123.4 L210.4,1119.8 L213.4,1117.8 L216.4,1115.4 L219.4,1115.2 L222.4,1109.8 L225.4,1107.4 L228.4,1106.4 L231.4,1103.8 L234.4,1103.0 L237.4,1100.1 L240.4,1095.5 L243.4,1092.4 L246.4,1093.3 L249.4,1092.1 L252.4,1085.7 L255.4,1087.1 L258.4,1085.9 L261.4,1082.9 L264.4,1078.8 L267.4,1079.8 L270.4,1077.5 L273.4,1072.7 L276.4,1073.2 L279.4,1069.0 L282.4,1066.0 L285.4,1065.7 L288.4,1063.7 L291.4,1062.2 L294.4,1061.9 L297.4,1061.4 L300.4,1060.5 L303.4,1058.9 L306.4,1057.3 L309.4,1054.4 L312.4,1049.8 L315.4,1047.3 L318.4,1048.4 L321.4,1046.2 L324.4,1045.3 L327.4,1039.9 L330.4,1038.9 L333.4,1041.9 L336.4,1038.1 L339.4,1037.0 L342.4,1031.0 L345.4,1031.0 L348.4,1032.4 L351.4,1028.6 L354.4,1028.9 L357.4,1021.5 L360.4,1021.2 L363.4,1021.5 L366.4,1017.1 L369.4,1017.4 L372.4,1014.9 L375.4,1011.2 L378.4,1010.4 L381.4,1016.0 L384.4,1009.3 L387.4,1009.1 L390.4,1006.4 L393.4,1001.9 L396.4,996.4 L399.4,992.2 L402.4,990.9 L405.4,991.6 L408.4,986.3 L411.4,985.5 L414.4,985.9 L417.4,984.6 L420.4,978.6 L423.4,977.7 L426.4,976.4 L429.4,979.5 L432.4,977.8 L435.4,978.6 L438.4,976.1 L441.4,971.2 L444.4,974.4 L447.4,975.2 L450.4,969.3 L453.4,965.7 L456.4,967.7 L459.4,965.9 L462.4,962.8 L465.4,959.5 L468.4,958.0 L471.4,961.9 L474.4,952.9 L477.4,955.4 L480.4,949.7 L483.4,947.3 L486.4,950.2 L489.4,943.4 L492.4,940.1 L495.4,940.0 L498.4,939.7 L501.4,935.9 L504.4,936.4 L507.4,930.4 L510.4,930.0 L513.4,930.2 L516.4,926.5 L519.4,927.2 L522.4,923.5 L525.4,919.0 L528.4,917.4 L531.4,921.9 L534.4,920.0 L537.4,920.4 L540.4,916.6 L543.4,914.0 L546.4,908.7 L549.4,913.6 L552.4,905.2 L555.4,906.6 L558.4,902.4 L561.4,903.3 L564.4,901.5 L567.4,901.5 L570.4,903.1 L573.4,900.4 L576.4,896.4 L579.4,900.5 L582.4,898.9 L585.4,898.7 L588.4,889.8 L591.4,894.4 L594.4,896.1 L597.4,888.7 L600.4,887.0 L603.4,892.0 L606.4,886.3 L609.4,885.6 L612.4,888.6 L615.4,883.2 L618.4,880.2 L621.4,879.5 L624.4,880.0 L627.4,882.6 L630.4,878.5 L633.4,881.7 L636.4,873.9 L639.4,874.9 L642.4,877.7 L645.4,875.5 L648.4,874.8 L651.4,878.2 L654.4,871.0 L657.4,869.2 L660.4,867.0 L663.4,870.5 L666.4,867.9 L669.4,868.7 L672.4,863.4 L675.4,862.5 L678.4,865.4 L681.4,868.2 L684.4,863.0 L687.4,868.0 L690.4,864.0 L693.4,861.5 L696.4,864.2 L699.4,858.2 L702.4,860.9 L705.4,862.4 L708.4,858.7 L711.4,855.8 L714.4,852.8 L717.4,856.5 L720.4,852.1 L723.4,853.0 L726.4,853.8 L729.4,856.7 L732.4,853.3 L735.4,851.1 L738.4,853.4 L741.4,847.5 L744.4,847.4 L747.4,849.4 L750.4,847.8 L753.4,844.2 L756.4,845.4 L759.4,848.7 L762.4,842.9 L765.4,846.7 L768.4,840.1 L771.4,847.9 L774.4,844.9 L777.4,841.2 L780.4,846.7 L783.4,844.5 L786.4,837.3 L789.4,838.5 L792.4,840.2 L795.4,844.3 L798.4,836.0 L801.4,834.5 L804.4,836.0 L807.4,832.7 L810.4,835.1 L813.4,835.4 L816.4,833.6 L819.4,830.0 L822.4,828.1 L825.4,834.1 L828.4,830.0 L831.4,829.5 L834.4,828.6 L837.4,829.5 L840.4,830.5 L843.4,828.9 L846.4,827.2 L849.4,823.4 L852.4,821.6 L855.4,820.6 L858.4,827.0 L861.4,819.7 L864.4,823.9 L867.4,826.5 L870.4,821.2 L873.4,821.4 L876.4,821.4 L879.4,825.6 L882.4,823.1 L885.4,824.1 L888.4,817.0 L891.4,822.6 L894.4,819.9 L897.4,819.2 L900.4,822.4 L903.4,821.4 L906.4,822.6 L909.4,820.9 L912.4,822.0 L915.4,817.7 L918.4,817.7 L921.4,814.2 L924.4,806.6 L927.4,803.7 L930.4,807.2 L933.4,809.4 L936.4,809.1 L939.4,802.7 L942.4,804.6 L945.4,803.1 L948.4,803.8 L951.4,808.6 L954.4,804.0 L957.4,802.8 L960.4,802.3 L963.4,803.4 L966.4,805.0 L969.4,802.1 L972.4,800.6 L975.4,800.7 L978.4,800.8 L981.4,805.8 L984.4,799.6 L987.4,804.0 L990.4,798.6 L993.4,803.8 L996.4,799.4 L999.4,803.3 L1002.4,800.3 L1005.4,797.4 L1008.4,797.4 L1011.4,802.8 L1014.4,800.6 L1017.4,800.0 L1020.4,798.8 L1023.4,801.3 L1026.4,799.5 L1029.4,796.1 L1032.4,800.1 L1035.4,797.8 L1038.4,801.7 L1041.4,799.4 L1044.4,801.0 L1047.4,796.1 L1050.4,800.5 L1053.4,799.7 L1056.4,801.5 L1059.4,801.7 L1062.4,799.2 L1065.4,799.5 L1068.4,800.8 L1071.4,797.0 L1074.4,799.1 L1077.4,800.8 L1080.4,799.4 L1083.4,799.0 L1086.4,801.2 L1089.4,802.1 L1092.4,796.9 L1095.4,795.6 L1098.4,799.4 L1101.4,796.1 L1104.4,801.9 L1107.4,798.4 L1110.4,798.7 L1113.4,800.7 L1116.4,801.0 L1119.4,796.0 L1122.4,798.1 L1125.4,796.2 L1128.4,798.2 L1131.4,795.9 L1134.4,801.0 L1137.4,797.4 L1140.4,797.6 L1143.4,801.0 L1146.4,800.5 L1149.4,797.2 L1152.4,798.3 L1155.4,799.4 L1158.4,796.2 L1161.4,795.9 L1164.4,800.6 L1167.4,796.1 L1170.4,799.6 L1173.4,799.7 L1176.4,798.8 L1179.4,797.2 L1182.4,800.4 L1185.4,800.0 L1188.4,795.4 L1191.4,800.6 L1194.4,799.0 L1197.4,796.8 L1200.4,796.0 L1203.4,795.6 L1206.4,800.0 L1209.4,800.2 L1212.4,797.1 L1215.4,796.1 L1218.4,795.4 L1221.4,797.5 L1221.4,1186.4 L150.4,1186.4 Z" fill="url(#g_c_o)" stroke="none"/>
<path d="M150.4,1185.0 L153.4,1181.9 L156.4,1179.2 L159.4,1176.6 L162.4,1172.1 L165.4,1168.7 L168.4,1165.7 L171.4,1163.7 L174.4,1158.9 L177.4,1157.2 L180.4,1153.7 L183.4,1148.9 L186.4,1146.8 L189.4,1143.2 L192.4,1139.9 L195.4,1138.4 L198.4,1132.2 L201.4,1128.7 L204.4,1128.5 L207.4,1123.4 L210.4,1119.8 L213.4,1117.8 L216.4,1115.4 L219.4,1115.2 L222.4,1109.8 L225.4,1107.4 L228.4,1106.4 L231.4,1103.8 L234.4,1103.0 L237.4,1100.1 L240.4,1095.5 L243.4,1092.4 L246.4,1093.3 L249.4,1092.1 L252.4,1085.7 L255.4,1087.1 L258.4,1085.9 L261.4,1082.9 L264.4,1078.8 L267.4,1079.8 L270.4,1077.5 L273.4,1072.7 L276.4,1073.2 L279.4,1069.0 L282.4,1066.0 L285.4,1065.7 L288.4,1063.7 L291.4,1062.2 L294.4,1061.9 L297.4,1061.4 L300.4,1060.5 L303.4,1058.9 L306.4,1057.3 L309.4,1054.4 L312.4,1049.8 L315.4,1047.3 L318.4,1048.4 L321.4,1046.2 L324.4,1045.3 L327.4,1039.9 L330.4,1038.9 L333.4,1041.9 L336.4,1038.1 L339.4,1037.0 L342.4,1031.0 L345.4,1031.0 L348.4,1032.4 L351.4,1028.6 L354.4,1028.9 L357.4,1021.5 L360.4,1021.2 L363.4,1021.5 L366.4,1017.1 L369.4,1017.4 L372.4,1014.9 L375.4,1011.2 L378.4,1010.4 L381.4,1016.0 L384.4,1009.3 L387.4,1009.1 L390.4,1006.4 L393.4,1001.9 L396.4,996.4 L399.4,992.2 L402.4,990.9 L405.4,991.6 L408.4,986.3 L411.4,985.5 L414.4,985.9 L417.4,984.6 L420.4,978.6 L423.4,977.7 L426.4,976.4 L429.4,979.5 L432.4,977.8 L435.4,978.6 L438.4,976.1 L441.4,971.2 L444.4,974.4 L447.4,975.2 L450.4,969.3 L453.4,965.7 L456.4,967.7 L459.4,965.9 L462.4,962.8 L465.4,959.5 L468.4,958.0 L471.4,961.9 L474.4,952.9 L477.4,955.4 L480.4,949.7 L483.4,947.3 L486.4,950.2 L489.4,943.4 L492.4,940.1 L495.4,940.0 L498.4,939.7 L501.4,935.9 L504.4,936.4 L507.4,930.4 L510.4,930.0 L513.4,930.2 L516.4,926.5 L519.4,927.2 L522.4,923.5 L525.4,919.0 L528.4,917.4 L531.4,921.9 L534.4,920.0 L537.4,920.4 L540.4,916.6 L543.4,914.0 L546.4,908.7 L549.4,913.6 L552.4,905.2 L555.4,906.6 L558.4,902.4 L561.4,903.3 L564.4,901.5 L567.4,901.5 L570.4,903.1 L573.4,900.4 L576.4,896.4 L579.4,900.5 L582.4,898.9 L585.4,898.7 L588.4,889.8 L591.4,894.4 L594.4,896.1 L597.4,888.7 L600.4,887.0 L603.4,892.0 L606.4,886.3 L609.4,885.6 L612.4,888.6 L615.4,883.2 L618.4,880.2 L621.4,879.5 L624.4,880.0 L627.4,882.6 L630.4,878.5 L633.4,881.7 L636.4,873.9 L639.4,874.9 L642.4,877.7 L645.4,875.5 L648.4,874.8 L651.4,878.2 L654.4,871.0 L657.4,869.2 L660.4,867.0 L663.4,870.5 L666.4,867.9 L669.4,868.7 L672.4,863.4 L675.4,862.5 L678.4,865.4 L681.4,868.2 L684.4,863.0 L687.4,868.0 L690.4,864.0 L693.4,861.5 L696.4,864.2 L699.4,858.2 L702.4,860.9 L705.4,862.4 L708.4,858.7 L711.4,855.8 L714.4,852.8 L717.4,856.5 L720.4,852.1 L723.4,853.0 L726.4,853.8 L729.4,856.7 L732.4,853.3 L735.4,851.1 L738.4,853.4 L741.4,847.5 L744.4,847.4 L747.4,849.4 L750.4,847.8 L753.4,844.2 L756.4,845.4 L759.4,848.7 L762.4,842.9 L765.4,846.7 L768.4,840.1 L771.4,847.9 L774.4,844.9 L777.4,841.2 L780.4,846.7 L783.4,844.5 L786.4,837.3 L789.4,838.5 L792.4,840.2 L795.4,844.3 L798.4,836.0 L801.4,834.5 L804.4,836.0 L807.4,832.7 L810.4,835.1 L813.4,835.4 L816.4,833.6 L819.4,830.0 L822.4,828.1 L825.4,834.1 L828.4,830.0 L831.4,829.5 L834.4,828.6 L837.4,829.5 L840.4,830.5 L843.4,828.9 L846.4,827.2 L849.4,823.4 L852.4,821.6 L855.4,820.6 L858.4,827.0 L861.4,819.7 L864.4,823.9 L867.4,826.5 L870.4,821.2 L873.4,821.4 L876.4,821.4 L879.4,825.6 L882.4,823.1 L885.4,824.1 L888.4,817.0 L891.4,822.6 L894.4,819.9 L897.4,819.2 L900.4,822.4 L903.4,821.4 L906.4,822.6 L909.4,820.9 L912.4,822.0 L915.4,817.7 L918.4,817.7 L921.4,814.2 L924.4,806.6 L927.4,803.7 L930.4,807.2 L933.4,809.4 L936.4,809.1 L939.4,802.7 L942.4,804.6 L945.4,803.1 L948.4,803.8 L951.4,808.6 L954.4,804.0 L957.4,802.8 L960.4,802.3 L963.4,803.4 L966.4,805.0 L969.4,802.1 L972.4,800.6 L975.4,800.7 L978.4,800.8 L981.4,805.8 L984.4,799.6 L987.4,804.0 L990.4,798.6 L993.4,803.8 L996.4,799.4 L999.4,803.3 L1002.4,800.3 L1005.4,797.4 L1008.4,797.4 L1011.4,802.8 L1014.4,800.6 L1017.4,800.0 L1020.4,798.8 L1023.4,801.3 L1026.4,799.5 L1029.4,796.1 L1032.4,800.1 L1035.4,797.8 L1038.4,801.7 L1041.4,799.4 L1044.4,801.0 L1047.4,796.1 L1050.4,800.5 L1053.4,799.7 L1056.4,801.5 L1059.4,801.7 L1062.4,799.2 L1065.4,799.5 L1068.4,800.8 L1071.4,797.0 L1074.4,799.1 L1077.4,800.8 L1080.4,799.4 L1083.4,799.0 L1086.4,801.2 L1089.4,802.1 L1092.4,796.9 L1095.4,795.6 L1098.4,799.4 L1101.4,796.1 L1104.4,801.9 L1107.4,798.4 L1110.4,798.7 L1113.4,800.7 L1116.4,801.0 L1119.4,796.0 L1122.4,798.1 L1125.4,796.2 L1128.4,798.2 L1131.4,795.9 L1134.4,801.0 L1137.4,797.4 L1140.4,797.6 L1143.4,801.0 L1146.4,800.5 L1149.4,797.2 L1152.4,798.3 L1155.4,799.4 L1158.4,796.2 L1161.4,795.9 L1164.4,800.6 L1167.4,796.1 L1170.4,799.6 L1173.4,799.7 L1176.4,798.8 L1179.4,797.2 L1182.4,800.4 L1185.4,800.0 L1188.4,795.4 L1191.4,800.6 L1194.4,799.0 L1197.4,796.8 L1200.4,796.0 L1203.4,795.6 L1206.4,800.0 L1209.4,800.2 L1212.4,797.1 L1215.4,796.1 L1218.4,795.4 L1221.4,797.5" fill="none" stroke="#ebab62" stroke-width="5" stroke-linejoin="round" stroke-linecap="round"/>
<text transform="translate(51.0,695.4) scale(1,1.06)" class="t">CPU Usage</text>
<text transform="translate(135.8,803.2) scale(1,1.13)" class="ax" text-anchor="end">100%</text>
<text transform="translate(135.8,883.3) scale(1,1.13)" class="ax" text-anchor="end">80%</text>
<text transform="translate(135.8,961.5) scale(1,1.13)" class="ax" text-anchor="end">60%</text>
<text transform="translate(135.8,1038.5) scale(1,1.13)" class="ax" text-anchor="end">40%</text>
<text transform="translate(135.8,1118.5) scale(1,1.13)" class="ax" text-anchor="end">20%</text>
<text transform="translate(135.8,1196.4) scale(1,1.13)" class="ax" text-anchor="end">0%</text>
<text transform="translate(210.0,1234.5) scale(1,1.13)" class="ax" text-anchor="middle">01:00</text>
<text transform="translate(423.2,1234.5) scale(1,1.13)" class="ax" text-anchor="middle">01:30</text>
<text transform="translate(636.4,1234.5) scale(1,1.13)" class="ax" text-anchor="middle">02:00</text>
<text transform="translate(849.6,1234.5) scale(1,1.13)" class="ax" text-anchor="middle">02:30</text>
<text transform="translate(1062.8,1234.5) scale(1,1.13)" class="ax" text-anchor="middle">03:00</text>
<text transform="translate(1314.0,777.0) scale(1,1.14)" class="lh">Name</text>
<text transform="translate(1567.0,777.0) scale(1,1.14)" class="lh">Last</text>
<text x="1636.0" y="775.5" class="lh" style="font-size:27px">*</text>
<path d="M1658,767.5 L1664,773.5 L1670,767.5" fill="none" stroke="#95a8e2" stroke-width="2.6" stroke-linecap="round" stroke-linejoin="round"/>
<line x1="1242" y1="796.0" x2="1690" y2="796.0" stroke="#24252a" stroke-width="2.5"/>
<line x1="1242" y1="852.0" x2="1690" y2="852.0" stroke="#24252a" stroke-width="2.5"/>
<line x1="1242" y1="908.5" x2="1690" y2="908.5" stroke="#24252a" stroke-width="2.5"/>
<rect x="1261" y="818.5" width="35" height="12" rx="6" fill="#ebab62"/>
<text transform="translate(1314.0,833.5) scale(1,1.14)" class="lg">MySQL</text>
<text transform="translate(1668.0,833.5) scale(1,1.14)" class="lg" text-anchor="end">98.4%</text>
<rect x="1261" y="875.0" width="35" height="12" rx="6" fill="#7ba1e6"/>
<text transform="translate(1314.0,890.0) scale(1,1.14)" class="lg">PostgreSQL</text>
<text transform="translate(1668.0,890.0) scale(1,1.14)" class="lg" text-anchor="end">87.7%</text>
<line x1="1831" y1="770.5" x2="2920.6" y2="770.5" stroke="#232429" stroke-width="2"/>
<line x1="1831" y1="889.2" x2="2920.6" y2="889.2" stroke="#232429" stroke-width="2"/>
<line x1="1831" y1="1009" x2="2920.6" y2="1009" stroke="#232429" stroke-width="2"/>
<line x1="1831" y1="1129.2" x2="2920.6" y2="1129.2" stroke="#232429" stroke-width="2"/>
<line x1="1894.3" y1="760" x2="1894.3" y2="1186.4" stroke="#232429" stroke-width="2"/>
<line x1="2110.5" y1="760" x2="2110.5" y2="1186.4" stroke="#232429" stroke-width="2"/>
<line x1="2326.7" y1="760" x2="2326.7" y2="1186.4" stroke="#232429" stroke-width="2"/>
<line x1="2542.9" y1="760" x2="2542.9" y2="1186.4" stroke="#232429" stroke-width="2"/>
<line x1="2759.1" y1="760" x2="2759.1" y2="1186.4" stroke="#232429" stroke-width="2"/>
<path d="M1831.0,1159.4 L1834.0,1122.2 L1837.0,1099.2 L1840.0,1098.8 L1843.0,1100.0 L1846.0,1099.6 L1849.0,1099.9 L1852.0,1097.2 L1855.0,1097.9 L1858.0,1096.5 L1861.0,1096.7 L1864.0,1097.3 L1867.0,1095.6 L1870.0,1095.8 L1873.0,1096.9 L1876.0,1096.3 L1879.0,1095.0 L1882.0,1095.8 L1885.0,1096.0 L1888.0,1093.2 L1891.0,1095.1 L1894.0,1094.3 L1897.0,1092.7 L1900.0,1091.7 L1903.0,1093.6 L1906.0,1091.3 L1909.0,1090.0 L1912.0,1089.6 L1915.0,1091.3 L1918.0,1090.1 L1921.0,1090.3 L1924.0,1089.5 L1927.0,1088.5 L1930.0,1089.3 L1933.0,1087.0 L1936.0,1087.1 L1939.0,1087.4 L1942.0,1086.3 L1945.0,1086.6 L1948.0,1085.2 L1951.0,1079.6 L1954.0,1071.6 L1957.0,1066.2 L1960.0,1060.4 L1963.0,1057.4 L1966.0,1057.4 L1969.0,1056.5 L1972.0,1056.5 L1975.0,1057.1 L1978.0,1055.8 L1981.0,1055.3 L1984.0,1054.4 L1987.0,1054.0 L1990.0,1055.6 L1993.0,1053.5 L1996.0,1051.6 L1999.0,1036.0 L2002.0,1024.7 L2005.0,1023.0 L2008.0,1023.6 L2011.0,1025.5 L2014.0,1024.4 L2017.0,1024.2 L2020.0,1024.6 L2023.0,1025.0 L2026.0,1024.8 L2029.0,1023.2 L2032.0,1022.6 L2035.0,1023.4 L2038.0,1023.4 L2041.0,1023.3 L2044.0,1025.6 L2047.0,1025.5 L2050.0,1023.9 L2053.0,1025.1 L2056.0,1024.4 L2059.0,1026.0 L2062.0,1024.8 L2065.0,1024.3 L2068.0,1024.3 L2071.0,1025.4 L2074.0,1024.6 L2077.0,1025.6 L2080.0,1026.7 L2083.0,1025.3 L2086.0,1024.8 L2089.0,1027.3 L2092.0,1025.9 L2094.5,1027.0 L2095.0,1024.7 L2096.0,1054.0 L2097.5,1027.0 L2098.0,1024.6 L2101.0,1024.7 L2104.0,1026.2 L2107.0,1026.6 L2110.0,1025.4 L2113.0,1024.2 L2116.0,1025.1 L2119.0,1026.8 L2122.0,1025.3 L2125.0,1026.6 L2128.0,1026.2 L2131.0,1023.5 L2134.0,1025.6 L2137.0,1025.4 L2140.0,1024.9 L2143.0,1024.0 L2146.0,1025.0 L2149.0,1023.3 L2152.0,1024.2 L2155.0,1024.2 L2158.0,1025.6 L2161.0,1025.3 L2164.0,1023.3 L2164.5,1025.0 L2166.0,1040.0 L2167.0,1024.0 L2167.5,1025.0 L2170.0,1023.1 L2173.0,1025.3 L2176.0,1025.2 L2179.0,1023.5 L2182.0,1024.5 L2185.0,1024.5 L2188.0,1023.1 L2191.0,1024.9 L2194.0,1024.3 L2197.0,1025.0 L2200.0,1024.3 L2203.0,1022.7 L2206.0,1023.7 L2208.5,1025.0 L2209.0,1022.8 L2210.0,1040.0 L2211.5,1025.0 L2212.0,1025.6 L2215.0,1025.5 L2218.0,1025.3 L2221.0,1023.8 L2224.0,1023.1 L2227.0,1025.5 L2230.0,1025.8 L2233.0,1023.2 L2236.0,1024.4 L2239.0,1023.2 L2242.0,1025.3 L2245.0,1025.3 L2248.0,1023.4 L2251.0,1024.5 L2254.0,1024.7 L2257.0,1023.9 L2260.0,1025.7 L2263.0,1024.4 L2264.5,1025.0 L2266.0,1023.8 L2266.0,1037.0 L2267.5,1025.0 L2269.0,1024.8 L2272.0,1025.4 L2275.0,1023.8 L2278.0,1024.2 L2281.0,1026.2 L2284.0,1025.2 L2287.0,1024.6 L2290.0,1024.9 L2293.0,1023.7 L2296.0,1024.0 L2299.0,1024.4 L2302.0,1025.1 L2305.0,1024.1 L2308.0,1024.1 L2311.0,1023.7 L2314.0,1025.4 L2317.0,1024.2 L2320.0,1026.2 L2323.0,1026.0 L2326.0,1023.7 L2329.0,1024.1 L2332.0,1025.4 L2335.0,1024.0 L2338.0,1023.7 L2341.0,1026.1 L2344.0,1025.0 L2347.0,1024.6 L2350.0,1025.5 L2353.0,1025.6 L2356.0,1023.7 L2359.0,1023.4 L2362.0,1024.4 L2365.0,1024.3 L2368.0,1024.4 L2371.0,1025.2 L2374.0,1025.0 L2377.0,1025.9 L2380.0,1023.2 L2383.0,1024.1 L2386.0,1023.8 L2389.0,1025.4 L2392.0,1023.5 L2395.0,1023.3 L2398.0,1024.0 L2401.0,1023.9 L2404.0,1023.5 L2407.0,1023.4 L2410.0,1025.3 L2413.0,1023.9 L2416.0,1025.1 L2419.0,1024.1 L2422.0,1022.6 L2425.0,1025.4 L2428.0,1024.9 L2431.0,1025.3 L2434.0,1025.1 L2437.0,1024.8 L2440.0,1022.8 L2443.0,1023.7 L2446.0,1022.8 L2449.0,1023.4 L2452.0,1022.3 L2455.0,1023.2 L2458.0,1025.0 L2461.0,1022.8 L2464.0,1024.4 L2467.0,1023.4 L2470.0,1023.5 L2473.0,1025.2 L2476.0,1025.5 L2479.0,1024.3 L2482.0,1024.9 L2485.0,1023.4 L2488.0,1024.0 L2491.0,1026.1 L2494.0,1025.1 L2497.0,1025.1 L2500.0,1025.9 L2503.0,1024.0 L2506.0,1025.7 L2509.0,1025.6 L2512.0,1026.8 L2515.0,1024.9 L2518.0,1027.4 L2521.0,1024.9 L2524.0,1025.4 L2527.0,1026.8 L2530.0,1027.2 L2533.0,1026.0 L2536.0,1025.8 L2539.0,1028.2 L2542.0,1026.5 L2545.0,1027.6 L2548.0,1027.9 L2551.0,1027.4 L2554.0,1028.1 L2557.0,1028.0 L2560.0,1029.2 L2563.0,1026.8 L2566.0,1028.2 L2569.0,1026.6 L2572.0,1026.9 L2575.0,1027.6 L2578.0,1026.3 L2581.0,1026.2 L2584.0,1027.3 L2587.0,1025.1 L2590.0,1026.1 L2593.0,1027.6 L2596.0,1027.4 L2599.0,1024.5 L2602.0,1024.7 L2605.0,1024.7 L2608.0,1026.6 L2611.0,1026.2 L2614.0,1025.0 L2617.0,1021.0 L2620.0,1017.9 L2623.0,1017.5 L2626.0,1016.4 L2629.0,1015.8 L2632.0,1016.7 L2635.0,1015.4 L2638.0,1013.2 L2641.0,1015.3 L2644.0,1013.5 L2647.0,1014.3 L2650.0,1014.9 L2653.0,1012.5 L2656.0,1012.4 L2659.0,1012.4 L2662.0,1013.8 L2665.0,1012.9 L2668.0,1013.9 L2671.0,1014.3 L2674.0,1012.7 L2677.0,1014.0 L2680.0,1012.9 L2683.0,1013.6 L2686.0,1014.8 L2689.0,1014.6 L2692.0,1012.4 L2695.0,1013.4 L2698.0,1012.9 L2701.0,1012.1 L2704.0,1014.4 L2707.0,1014.0 L2710.0,1012.9 L2713.0,1014.3 L2716.0,1013.8 L2719.0,1013.4 L2722.0,1012.1 L2725.0,1012.3 L2728.0,1014.7 L2731.0,1014.8 L2734.0,1013.7 L2737.0,1014.6 L2740.0,1013.8 L2743.0,1012.5 L2746.0,1012.5 L2749.0,1013.0 L2752.0,1014.8 L2755.0,1014.5 L2758.0,1014.7 L2761.0,1014.8 L2764.0,1012.7 L2767.0,1012.8 L2770.0,1012.4 L2773.0,1014.4 L2776.0,1014.8 L2779.0,1013.3 L2782.0,1014.0 L2785.0,1012.6 L2788.0,1014.9 L2791.0,1014.7 L2794.0,1015.0 L2797.0,1014.5 L2800.0,1014.7 L2803.0,1012.2 L2806.0,1014.3 L2809.0,1013.1 L2812.0,1014.9 L2815.0,1014.5 L2818.0,1014.7 L2821.0,1014.5 L2824.0,1012.9 L2827.0,1014.5 L2830.0,1012.4 L2833.0,1014.7 L2836.0,1014.7 L2839.0,1012.8 L2842.0,1014.5 L2845.0,1013.5 L2848.0,1013.0 L2851.0,1014.5 L2854.0,1012.8 L2857.0,1012.2 L2860.0,1012.7 L2863.0,1013.1 L2866.0,1014.7 L2869.0,1015.0 L2872.0,1012.9 L2875.0,1014.0 L2878.0,1013.3 L2881.0,1015.0 L2884.0,1013.7 L2887.0,1014.9 L2890.0,1012.4 L2893.0,1015.0 L2896.0,1012.6 L2899.0,1015.0 L2902.0,1012.9 L2905.0,1012.4 L2908.0,1013.4 L2911.0,1014.3 L2914.0,1013.0 L2917.0,1013.9 L2920.0,1013.6 L2920.0,1186.4 L1831.0,1186.4 Z" fill="url(#g_m_b)" stroke="none"/>
<path d="M1831.0,1159.4 L1834.0,1122.2 L1837.0,1099.2 L1840.0,1098.8 L1843.0,1100.0 L1846.0,1099.6 L1849.0,1099.9 L1852.0,1097.2 L1855.0,1097.9 L1858.0,1096.5 L1861.0,1096.7 L1864.0,1097.3 L1867.0,1095.6 L1870.0,1095.8 L1873.0,1096.9 L1876.0,1096.3 L1879.0,1095.0 L1882.0,1095.8 L1885.0,1096.0 L1888.0,1093.2 L1891.0,1095.1 L1894.0,1094.3 L1897.0,1092.7 L1900.0,1091.7 L1903.0,1093.6 L1906.0,1091.3 L1909.0,1090.0 L1912.0,1089.6 L1915.0,1091.3 L1918.0,1090.1 L1921.0,1090.3 L1924.0,1089.5 L1927.0,1088.5 L1930.0,1089.3 L1933.0,1087.0 L1936.0,1087.1 L1939.0,1087.4 L1942.0,1086.3 L1945.0,1086.6 L1948.0,1085.2 L1951.0,1079.6 L1954.0,1071.6 L1957.0,1066.2 L1960.0,1060.4 L1963.0,1057.4 L1966.0,1057.4 L1969.0,1056.5 L1972.0,1056.5 L1975.0,1057.1 L1978.0,1055.8 L1981.0,1055.3 L1984.0,1054.4 L1987.0,1054.0 L1990.0,1055.6 L1993.0,1053.5 L1996.0,1051.6 L1999.0,1036.0 L2002.0,1024.7 L2005.0,1023.0 L2008.0,1023.6 L2011.0,1025.5 L2014.0,1024.4 L2017.0,1024.2 L2020.0,1024.6 L2023.0,1025.0 L2026.0,1024.8 L2029.0,1023.2 L2032.0,1022.6 L2035.0,1023.4 L2038.0,1023.4 L2041.0,1023.3 L2044.0,1025.6 L2047.0,1025.5 L2050.0,1023.9 L2053.0,1025.1 L2056.0,1024.4 L2059.0,1026.0 L2062.0,1024.8 L2065.0,1024.3 L2068.0,1024.3 L2071.0,1025.4 L2074.0,1024.6 L2077.0,1025.6 L2080.0,1026.7 L2083.0,1025.3 L2086.0,1024.8 L2089.0,1027.3 L2092.0,1025.9 L2094.5,1027.0 L2095.0,1024.7 L2096.0,1054.0 L2097.5,1027.0 L2098.0,1024.6 L2101.0,1024.7 L2104.0,1026.2 L2107.0,1026.6 L2110.0,1025.4 L2113.0,1024.2 L2116.0,1025.1 L2119.0,1026.8 L2122.0,1025.3 L2125.0,1026.6 L2128.0,1026.2 L2131.0,1023.5 L2134.0,1025.6 L2137.0,1025.4 L2140.0,1024.9 L2143.0,1024.0 L2146.0,1025.0 L2149.0,1023.3 L2152.0,1024.2 L2155.0,1024.2 L2158.0,1025.6 L2161.0,1025.3 L2164.0,1023.3 L2164.5,1025.0 L2166.0,1040.0 L2167.0,1024.0 L2167.5,1025.0 L2170.0,1023.1 L2173.0,1025.3 L2176.0,1025.2 L2179.0,1023.5 L2182.0,1024.5 L2185.0,1024.5 L2188.0,1023.1 L2191.0,1024.9 L2194.0,1024.3 L2197.0,1025.0 L2200.0,1024.3 L2203.0,1022.7 L2206.0,1023.7 L2208.5,1025.0 L2209.0,1022.8 L2210.0,1040.0 L2211.5,1025.0 L2212.0,1025.6 L2215.0,1025.5 L2218.0,1025.3 L2221.0,1023.8 L2224.0,1023.1 L2227.0,1025.5 L2230.0,1025.8 L2233.0,1023.2 L2236.0,1024.4 L2239.0,1023.2 L2242.0,1025.3 L2245.0,1025.3 L2248.0,1023.4 L2251.0,1024.5 L2254.0,1024.7 L2257.0,1023.9 L2260.0,1025.7 L2263.0,1024.4 L2264.5,1025.0 L2266.0,1023.8 L2266.0,1037.0 L2267.5,1025.0 L2269.0,1024.8 L2272.0,1025.4 L2275.0,1023.8 L2278.0,1024.2 L2281.0,1026.2 L2284.0,1025.2 L2287.0,1024.6 L2290.0,1024.9 L2293.0,1023.7 L2296.0,1024.0 L2299.0,1024.4 L2302.0,1025.1 L2305.0,1024.1 L2308.0,1024.1 L2311.0,1023.7 L2314.0,1025.4 L2317.0,1024.2 L2320.0,1026.2 L2323.0,1026.0 L2326.0,1023.7 L2329.0,1024.1 L2332.0,1025.4 L2335.0,1024.0 L2338.0,1023.7 L2341.0,1026.1 L2344.0,1025.0 L2347.0,1024.6 L2350.0,1025.5 L2353.0,1025.6 L2356.0,1023.7 L2359.0,1023.4 L2362.0,1024.4 L2365.0,1024.3 L2368.0,1024.4 L2371.0,1025.2 L2374.0,1025.0 L2377.0,1025.9 L2380.0,1023.2 L2383.0,1024.1 L2386.0,1023.8 L2389.0,1025.4 L2392.0,1023.5 L2395.0,1023.3 L2398.0,1024.0 L2401.0,1023.9 L2404.0,1023.5 L2407.0,1023.4 L2410.0,1025.3 L2413.0,1023.9 L2416.0,1025.1 L2419.0,1024.1 L2422.0,1022.6 L2425.0,1025.4 L2428.0,1024.9 L2431.0,1025.3 L2434.0,1025.1 L2437.0,1024.8 L2440.0,1022.8 L2443.0,1023.7 L2446.0,1022.8 L2449.0,1023.4 L2452.0,1022.3 L2455.0,1023.2 L2458.0,1025.0 L2461.0,1022.8 L2464.0,1024.4 L2467.0,1023.4 L2470.0,1023.5 L2473.0,1025.2 L2476.0,1025.5 L2479.0,1024.3 L2482.0,1024.9 L2485.0,1023.4 L2488.0,1024.0 L2491.0,1026.1 L2494.0,1025.1 L2497.0,1025.1 L2500.0,1025.9 L2503.0,1024.0 L2506.0,1025.7 L2509.0,1025.6 L2512.0,1026.8 L2515.0,1024.9 L2518.0,1027.4 L2521.0,1024.9 L2524.0,1025.4 L2527.0,1026.8 L2530.0,1027.2 L2533.0,1026.0 L2536.0,1025.8 L2539.0,1028.2 L2542.0,1026.5 L2545.0,1027.6 L2548.0,1027.9 L2551.0,1027.4 L2554.0,1028.1 L2557.0,1028.0 L2560.0,1029.2 L2563.0,1026.8 L2566.0,1028.2 L2569.0,1026.6 L2572.0,1026.9 L2575.0,1027.6 L2578.0,1026.3 L2581.0,1026.2 L2584.0,1027.3 L2587.0,1025.1 L2590.0,1026.1 L2593.0,1027.6 L2596.0,1027.4 L2599.0,1024.5 L2602.0,1024.7 L2605.0,1024.7 L2608.0,1026.6 L2611.0,1026.2 L2614.0,1025.0 L2617.0,1021.0 L2620.0,1017.9 L2623.0,1017.5 L2626.0,1016.4 L2629.0,1015.8 L2632.0,1016.7 L2635.0,1015.4 L2638.0,1013.2 L2641.0,1015.3 L2644.0,1013.5 L2647.0,1014.3 L2650.0,1014.9 L2653.0,1012.5 L2656.0,1012.4 L2659.0,1012.4 L2662.0,1013.8 L2665.0,1012.9 L2668.0,1013.9 L2671.0,1014.3 L2674.0,1012.7 L2677.0,1014.0 L2680.0,1012.9 L2683.0,1013.6 L2686.0,1014.8 L2689.0,1014.6 L2692.0,1012.4 L2695.0,1013.4 L2698.0,1012.9 L2701.0,1012.1 L2704.0,1014.4 L2707.0,1014.0 L2710.0,1012.9 L2713.0,1014.3 L2716.0,1013.8 L2719.0,1013.4 L2722.0,1012.1 L2725.0,1012.3 L2728.0,1014.7 L2731.0,1014.8 L2734.0,1013.7 L2737.0,1014.6 L2740.0,1013.8 L2743.0,1012.5 L2746.0,1012.5 L2749.0,1013.0 L2752.0,1014.8 L2755.0,1014.5 L2758.0,1014.7 L2761.0,1014.8 L2764.0,1012.7 L2767.0,1012.8 L2770.0,1012.4 L2773.0,1014.4 L2776.0,1014.8 L2779.0,1013.3 L2782.0,1014.0 L2785.0,1012.6 L2788.0,1014.9 L2791.0,1014.7 L2794.0,1015.0 L2797.0,1014.5 L2800.0,1014.7 L2803.0,1012.2 L2806.0,1014.3 L2809.0,1013.1 L2812.0,1014.9 L2815.0,1014.5 L2818.0,1014.7 L2821.0,1014.5 L2824.0,1012.9 L2827.0,1014.5 L2830.0,1012.4 L2833.0,1014.7 L2836.0,1014.7 L2839.0,1012.8 L2842.0,1014.5 L2845.0,1013.5 L2848.0,1013.0 L2851.0,1014.5 L2854.0,1012.8 L2857.0,1012.2 L2860.0,1012.7 L2863.0,1013.1 L2866.0,1014.7 L2869.0,1015.0 L2872.0,1012.9 L2875.0,1014.0 L2878.0,1013.3 L2881.0,1015.0 L2884.0,1013.7 L2887.0,1014.9 L2890.0,1012.4 L2893.0,1015.0 L2896.0,1012.6 L2899.0,1015.0 L2902.0,1012.9 L2905.0,1012.4 L2908.0,1013.4 L2911.0,1014.3 L2914.0,1013.0 L2917.0,1013.9 L2920.0,1013.6" fill="none" stroke="#7ba1e6" stroke-width="5" stroke-linejoin="round" stroke-linecap="round"/><path d="M1831.0,916.8 L1835.0,900.6 L1839.0,889.5 L1843.0,884.6 L1847.0,882.6 L1851.0,881.2 L1855.0,879.5 L1859.0,877.8 L1863.0,876.7 L1867.0,875.0 L1871.0,873.8 L1875.0,872.1 L1879.0,870.8 L1883.0,868.7 L1887.0,866.5 L1891.0,849.5 L1895.0,849.7 L1899.0,848.4 L1903.0,848.5 L1907.0,847.9 L1911.0,846.5 L1915.0,847.0 L1919.0,845.3 L1923.0,845.9 L1927.0,845.3 L1931.0,844.0 L1935.0,844.2 L1939.0,843.7 L1943.0,842.3 L1947.0,842.5 L1951.0,841.3 L1955.0,841.9 L1959.0,841.0 L1963.0,840.9 L1967.0,838.8 L1971.0,838.0 L1975.0,837.2 L1979.0,836.0 L1983.0,834.2 L1987.0,834.0 L1991.0,832.8 L1995.0,830.9 L1999.0,829.5 L2003.0,829.0 L2007.0,827.5 L2011.0,826.9 L2015.0,825.9 L2019.0,825.0 L2023.0,823.7 L2027.0,823.1 L2031.0,822.8 L2035.0,822.5 L2039.0,821.3 L2043.0,821.0 L2047.0,820.0 L2051.0,819.7 L2055.0,818.6 L2059.0,817.4 L2063.0,816.4 L2067.0,815.6 L2071.0,814.8 L2075.0,815.2 L2079.0,814.5 L2083.0,813.8 L2087.0,812.3 L2091.0,812.5 L2095.0,811.2 L2099.0,811.7 L2103.0,810.9 L2107.0,810.4 L2111.0,809.7 L2115.0,808.9 L2119.0,808.9 L2123.0,808.9 L2127.0,808.8 L2131.0,810.0 L2135.0,811.3 L2139.0,812.1 L2143.0,812.6 L2147.0,813.6 L2151.0,814.5 L2155.0,813.3 L2159.0,812.9 L2163.0,813.3 L2167.0,812.5 L2171.0,813.1 L2175.0,812.0 L2179.0,812.6 L2183.0,811.6 L2187.0,812.0 L2191.0,811.6 L2195.0,811.3 L2199.0,810.3 L2203.0,810.0 L2207.0,809.5 L2211.0,809.5 L2215.0,810.1 L2219.0,809.2 L2223.0,809.3 L2227.0,809.7 L2231.0,809.0 L2235.0,809.2 L2239.0,808.9 L2243.0,809.5 L2247.0,808.6 L2251.0,809.7 L2255.0,809.1 L2259.0,809.2 L2263.0,808.8 L2267.0,808.7 L2271.0,809.2 L2275.0,809.0 L2279.0,808.9 L2283.0,807.7 L2287.0,808.3 L2291.0,808.7 L2295.0,808.2 L2299.0,807.9 L2303.0,807.8 L2307.0,806.9 L2311.0,807.4 L2315.0,807.3 L2319.0,806.0 L2323.0,806.4 L2327.0,806.3 L2331.0,805.7 L2335.0,805.9 L2339.0,806.0 L2343.0,805.7 L2347.0,804.6 L2351.0,804.2 L2355.0,804.9 L2359.0,804.3 L2363.0,804.4 L2367.0,804.2 L2371.0,803.1 L2375.0,803.3 L2379.0,802.7 L2383.0,803.2 L2387.0,802.8 L2391.0,801.9 L2395.0,802.0 L2399.0,801.9 L2403.0,801.2 L2407.0,800.9 L2411.0,801.1 L2415.0,800.3 L2419.0,800.6 L2423.0,801.0 L2427.0,800.6 L2431.0,799.3 L2435.0,800.1 L2439.0,799.7 L2443.0,799.4 L2447.0,798.2 L2451.0,798.9 L2455.0,797.9 L2459.0,798.4 L2463.0,797.5 L2467.0,797.3 L2471.0,796.7 L2475.0,797.4 L2479.0,796.3 L2483.0,796.9 L2487.0,796.1 L2491.0,795.3 L2495.0,795.8 L2499.0,795.3 L2503.0,794.3 L2507.0,795.5 L2511.0,794.7 L2515.0,794.3 L2519.0,795.4 L2523.0,796.3 L2527.0,797.8 L2531.0,799.4 L2535.0,801.8 L2539.0,803.9 L2543.0,804.5 L2547.0,804.4 L2551.0,804.7 L2555.0,805.2 L2559.0,804.6 L2563.0,804.8 L2567.0,805.5 L2571.0,806.1 L2575.0,806.4 L2579.0,806.0 L2583.0,804.7 L2587.0,804.3 L2591.0,802.8 L2595.0,802.5 L2599.0,801.3 L2603.0,801.7 L2607.0,801.2 L2611.0,800.0 L2615.0,799.4 L2619.0,798.2 L2623.0,798.0 L2627.0,796.3 L2631.0,796.0 L2635.0,795.3 L2639.0,795.3 L2643.0,793.6 L2647.0,792.9 L2651.0,793.6 L2655.0,797.1 L2659.0,798.7 L2663.0,802.0 L2667.0,801.4 L2671.0,801.6 L2675.0,800.2 L2679.0,800.8 L2683.0,800.4 L2687.0,799.8 L2691.0,799.0 L2695.0,798.8 L2699.0,798.4 L2703.0,797.9 L2707.0,796.5 L2711.0,796.8 L2715.0,796.2 L2719.0,795.1 L2723.0,795.5 L2727.0,800.6 L2731.0,804.0 L2735.0,805.9 L2739.0,806.0 L2743.0,805.0 L2747.0,804.3 L2751.0,804.5 L2755.0,803.9 L2759.0,803.2 L2763.0,803.4 L2767.0,803.3 L2771.0,802.0 L2775.0,802.4 L2779.0,801.9 L2783.0,801.2 L2787.0,800.4 L2791.0,800.7 L2795.0,799.7 L2799.0,799.6 L2803.0,800.3 L2807.0,799.4 L2811.0,799.0 L2815.0,800.0 L2819.0,800.1 L2823.0,799.0 L2827.0,799.0 L2831.0,799.1 L2835.0,799.3 L2839.0,798.2 L2843.0,799.0 L2847.0,798.3 L2851.0,799.1 L2855.0,798.3 L2859.0,798.9 L2863.0,798.1 L2867.0,798.3 L2871.0,797.4 L2875.0,797.5 L2879.0,797.5 L2883.0,797.5 L2887.0,797.1 L2891.0,797.4 L2895.0,796.8 L2899.0,797.4 L2903.0,797.8 L2907.0,797.6 L2911.0,797.1 L2915.0,797.5 L2919.0,797.1 L2919.0,1186.4 L1831.0,1186.4 Z" fill="url(#g_m_o)" stroke="none"/>
<path d="M1831.0,916.8 L1835.0,900.6 L1839.0,889.5 L1843.0,884.6 L1847.0,882.6 L1851.0,881.2 L1855.0,879.5 L1859.0,877.8 L1863.0,876.7 L1867.0,875.0 L1871.0,873.8 L1875.0,872.1 L1879.0,870.8 L1883.0,868.7 L1887.0,866.5 L1891.0,849.5 L1895.0,849.7 L1899.0,848.4 L1903.0,848.5 L1907.0,847.9 L1911.0,846.5 L1915.0,847.0 L1919.0,845.3 L1923.0,845.9 L1927.0,845.3 L1931.0,844.0 L1935.0,844.2 L1939.0,843.7 L1943.0,842.3 L1947.0,842.5 L1951.0,841.3 L1955.0,841.9 L1959.0,841.0 L1963.0,840.9 L1967.0,838.8 L1971.0,838.0 L1975.0,837.2 L1979.0,836.0 L1983.0,834.2 L1987.0,834.0 L1991.0,832.8 L1995.0,830.9 L1999.0,829.5 L2003.0,829.0 L2007.0,827.5 L2011.0,826.9 L2015.0,825.9 L2019.0,825.0 L2023.0,823.7 L2027.0,823.1 L2031.0,822.8 L2035.0,822.5 L2039.0,821.3 L2043.0,821.0 L2047.0,820.0 L2051.0,819.7 L2055.0,818.6 L2059.0,817.4 L2063.0,816.4 L2067.0,815.6 L2071.0,814.8 L2075.0,815.2 L2079.0,814.5 L2083.0,813.8 L2087.0,812.3 L2091.0,812.5 L2095.0,811.2 L2099.0,811.7 L2103.0,810.9 L2107.0,810.4 L2111.0,809.7 L2115.0,808.9 L2119.0,808.9 L2123.0,808.9 L2127.0,808.8 L2131.0,810.0 L2135.0,811.3 L2139.0,812.1 L2143.0,812.6 L2147.0,813.6 L2151.0,814.5 L2155.0,813.3 L2159.0,812.9 L2163.0,813.3 L2167.0,812.5 L2171.0,813.1 L2175.0,812.0 L2179.0,812.6 L2183.0,811.6 L2187.0,812.0 L2191.0,811.6 L2195.0,811.3 L2199.0,810.3 L2203.0,810.0 L2207.0,809.5 L2211.0,809.5 L2215.0,810.1 L2219.0,809.2 L2223.0,809.3 L2227.0,809.7 L2231.0,809.0 L2235.0,809.2 L2239.0,808.9 L2243.0,809.5 L2247.0,808.6 L2251.0,809.7 L2255.0,809.1 L2259.0,809.2 L2263.0,808.8 L2267.0,808.7 L2271.0,809.2 L2275.0,809.0 L2279.0,808.9 L2283.0,807.7 L2287.0,808.3 L2291.0,808.7 L2295.0,808.2 L2299.0,807.9 L2303.0,807.8 L2307.0,806.9 L2311.0,807.4 L2315.0,807.3 L2319.0,806.0 L2323.0,806.4 L2327.0,806.3 L2331.0,805.7 L2335.0,805.9 L2339.0,806.0 L2343.0,805.7 L2347.0,804.6 L2351.0,804.2 L2355.0,804.9 L2359.0,804.3 L2363.0,804.4 L2367.0,804.2 L2371.0,803.1 L2375.0,803.3 L2379.0,802.7 L2383.0,803.2 L2387.0,802.8 L2391.0,801.9 L2395.0,802.0 L2399.0,801.9 L2403.0,801.2 L2407.0,800.9 L2411.0,801.1 L2415.0,800.3 L2419.0,800.6 L2423.0,801.0 L2427.0,800.6 L2431.0,799.3 L2435.0,800.1 L2439.0,799.7 L2443.0,799.4 L2447.0,798.2 L2451.0,798.9 L2455.0,797.9 L2459.0,798.4 L2463.0,797.5 L2467.0,797.3 L2471.0,796.7 L2475.0,797.4 L2479.0,796.3 L2483.0,796.9 L2487.0,796.1 L2491.0,795.3 L2495.0,795.8 L2499.0,795.3 L2503.0,794.3 L2507.0,795.5 L2511.0,794.7 L2515.0,794.3 L2519.0,795.4 L2523.0,796.3 L2527.0,797.8 L2531.0,799.4 L2535.0,801.8 L2539.0,803.9 L2543.0,804.5 L2547.0,804.4 L2551.0,804.7 L2555.0,805.2 L2559.0,804.6 L2563.0,804.8 L2567.0,805.5 L2571.0,806.1 L2575.0,806.4 L2579.0,806.0 L2583.0,804.7 L2587.0,804.3 L2591.0,802.8 L2595.0,802.5 L2599.0,801.3 L2603.0,801.7 L2607.0,801.2 L2611.0,800.0 L2615.0,799.4 L2619.0,798.2 L2623.0,798.0 L2627.0,796.3 L2631.0,796.0 L2635.0,795.3 L2639.0,795.3 L2643.0,793.6 L2647.0,792.9 L2651.0,793.6 L2655.0,797.1 L2659.0,798.7 L2663.0,802.0 L2667.0,801.4 L2671.0,801.6 L2675.0,800.2 L2679.0,800.8 L2683.0,800.4 L2687.0,799.8 L2691.0,799.0 L2695.0,798.8 L2699.0,798.4 L2703.0,797.9 L2707.0,796.5 L2711.0,796.8 L2715.0,796.2 L2719.0,795.1 L2723.0,795.5 L2727.0,800.6 L2731.0,804.0 L2735.0,805.9 L2739.0,806.0 L2743.0,805.0 L2747.0,804.3 L2751.0,804.5 L2755.0,803.9 L2759.0,803.2 L2763.0,803.4 L2767.0,803.3 L2771.0,802.0 L2775.0,802.4 L2779.0,801.9 L2783.0,801.2 L2787.0,800.4 L2791.0,800.7 L2795.0,799.7 L2799.0,799.6 L2803.0,800.3 L2807.0,799.4 L2811.0,799.0 L2815.0,800.0 L2819.0,800.1 L2823.0,799.0 L2827.0,799.0 L2831.0,799.1 L2835.0,799.3 L2839.0,798.2 L2843.0,799.0 L2847.0,798.3 L2851.0,799.1 L2855.0,798.3 L2859.0,798.9 L2863.0,798.1 L2867.0,798.3 L2871.0,797.4 L2875.0,797.5 L2879.0,797.5 L2883.0,797.5 L2887.0,797.1 L2891.0,797.4 L2895.0,796.8 L2899.0,797.4 L2903.0,797.8 L2907.0,797.6 L2911.0,797.1 L2915.0,797.5 L2919.0,797.1" fill="none" stroke="#ebab62" stroke-width="5" stroke-linejoin="round" stroke-linecap="round"/>
<text transform="translate(1751.0,695.4) scale(1,1.06)" class="t">Memory Usage</text>
<text transform="translate(1817.5,780.5) scale(1,1.13)" class="ax" text-anchor="end">12%</text>
<text transform="translate(1817.5,899.2) scale(1,1.13)" class="ax" text-anchor="end">10%</text>
<text transform="translate(1817.5,1019.0) scale(1,1.13)" class="ax" text-anchor="end">8%</text>
<text transform="translate(1817.5,1139.2) scale(1,1.13)" class="ax" text-anchor="end">6%</text>
<text transform="translate(1894.3,1234.5) scale(1,1.13)" class="ax" text-anchor="middle">01:00</text>
<text transform="translate(2110.5,1234.5) scale(1,1.13)" class="ax" text-anchor="middle">01:30</text>
<text transform="translate(2326.7,1234.5) scale(1,1.13)" class="ax" text-anchor="middle">02:00</text>
<text transform="translate(2542.9,1234.5) scale(1,1.13)" class="ax" text-anchor="middle">02:30</text>
<text transform="translate(2759.1,1234.5) scale(1,1.13)" class="ax" text-anchor="middle">03:00</text>
<text transform="translate(3013.0,777.0) scale(1,1.14)" class="lh">Name</text>
<text transform="translate(3269.0,777.0) scale(1,1.14)" class="lh">Last</text>
<text x="3338.0" y="775.5" class="lh" style="font-size:27px">*</text>
<path d="M3360,767.5 L3366,773.5 L3372,767.5" fill="none" stroke="#95a8e2" stroke-width="2.6" stroke-linecap="round" stroke-linejoin="round"/>
<line x1="2941" y1="796.0" x2="3389" y2="796.0" stroke="#24252a" stroke-width="2.5"/>
<line x1="2941" y1="852.0" x2="3389" y2="852.0" stroke="#24252a" stroke-width="2.5"/>
<line x1="2941" y1="908.5" x2="3389" y2="908.5" stroke="#24252a" stroke-width="2.5"/>
<rect x="2960" y="818.5" width="35" height="12" rx="6" fill="#ebab62"/>
<text transform="translate(3013.0,833.5) scale(1,1.14)" class="lg">MySQL</text>
<text transform="translate(3367.0,833.5) scale(1,1.14)" class="lg" text-anchor="end">11.6%</text>
<rect x="2960" y="875.0" width="35" height="12" rx="6" fill="#7ba1e6"/>
<text transform="translate(3013.0,890.0) scale(1,1.14)" class="lg">PostgreSQL</text>
<text transform="translate(3367.0,890.0) scale(1,1.14)" class="lg" text-anchor="end">7.90%</text>
<line x1="111" y1="1476" x2="1221" y2="1476" stroke="#232429" stroke-width="2"/>
<line x1="111" y1="1562.2" x2="1221" y2="1562.2" stroke="#232429" stroke-width="2"/>
<line x1="111" y1="1649.8" x2="1221" y2="1649.8" stroke="#232429" stroke-width="2"/>
<line x1="111" y1="1735.8" x2="1221" y2="1735.8" stroke="#232429" stroke-width="2"/>
<line x1="111" y1="1822.6" x2="1221" y2="1822.6" stroke="#232429" stroke-width="2"/>
<line x1="175.7" y1="1395.5" x2="175.7" y2="1822.6" stroke="#232429" stroke-width="2"/>
<line x1="396.5" y1="1395.5" x2="396.5" y2="1822.6" stroke="#232429" stroke-width="2"/>
<line x1="617.3" y1="1395.5" x2="617.3" y2="1822.6" stroke="#232429" stroke-width="2"/>
<line x1="838.1" y1="1395.5" x2="838.1" y2="1822.6" stroke="#232429" stroke-width="2"/>
<line x1="1058.9" y1="1395.5" x2="1058.9" y2="1822.6" stroke="#232429" stroke-width="2"/>
<path d="M111.0,1813.0 L113.0,1810.0 L116.0,1807.3 L119.0,1800.1 L122.0,1799.9 L125.0,1796.6 L128.0,1791.9 L131.0,1790.4 L134.0,1789.5 L137.0,1784.3 L140.0,1784.6 L143.0,1781.2 L146.0,1783.3 L149.0,1780.6 L152.0,1776.9 L155.0,1777.2 L158.0,1777.3 L161.0,1774.7 L164.0,1771.1 L167.0,1773.7 L170.0,1767.8 L173.0,1770.3 L176.0,1769.5 L179.0,1766.9 L182.0,1766.4 L185.0,1763.3 L188.0,1760.7 L191.0,1761.0 L194.0,1761.3 L197.0,1760.5 L200.0,1757.6 L203.0,1759.4 L206.0,1753.9 L209.0,1755.2 L212.0,1750.5 L215.0,1749.3 L218.0,1749.6 L221.0,1742.4 L224.0,1742.4 L227.0,1731.7 L231.6,1714.0 L239.9,1632.0 L250.9,1605.0 L264.6,1583.0 L271.4,1572.0 L278.3,1594.0 L281.0,1489.0 L289.2,1476.5 L291.0,1476.5 L293.0,1476.5 L295.0,1476.5 L297.0,1476.5 L299.0,1476.5 L301.0,1476.5 L303.0,1476.5 L305.0,1476.5 L307.0,1476.5 L309.0,1476.5 L311.0,1476.5 L313.0,1476.5 L315.0,1476.5 L317.0,1476.5 L319.0,1476.5 L321.0,1476.5 L323.0,1476.5 L325.0,1476.5 L327.0,1476.5 L329.0,1476.5 L331.0,1476.5 L333.0,1476.5 L335.0,1476.5 L337.0,1476.5 L339.0,1476.5 L341.0,1476.5 L343.0,1476.5 L345.0,1476.5 L347.0,1476.5 L349.0,1476.5 L351.0,1476.5 L353.0,1476.5 L355.0,1476.5 L357.0,1476.5 L359.0,1476.5 L361.0,1476.5 L363.0,1476.5 L365.0,1476.5 L367.0,1476.5 L369.0,1476.5 L371.0,1476.5 L373.0,1476.5 L375.0,1476.5 L377.0,1476.5 L379.0,1476.5 L381.0,1476.5 L383.0,1476.5 L385.0,1476.5 L387.0,1476.5 L389.0,1476.5 L391.0,1476.5 L393.0,1476.5 L395.0,1476.5 L397.0,1506.5 L399.0,1519.2 L401.0,1604.5 L403.0,1519.2 L405.0,1509.8 L407.0,1476.5 L409.0,1476.5 L411.0,1476.5 L413.0,1476.5 L415.0,1476.5 L417.0,1492.8 L419.0,1488.2 L421.0,1476.5 L423.0,1488.9 L425.0,1476.5 L427.0,1486.7 L429.0,1476.5 L431.0,1476.5 L433.0,1476.5 L435.0,1484.9 L437.0,1488.3 L439.0,1476.5 L441.0,1476.5 L443.0,1476.5 L445.0,1476.5 L447.0,1476.5 L449.0,1485.6 L451.0,1476.5 L453.0,1476.5 L455.0,1476.5 L457.0,1485.3 L459.0,1516.1 L461.0,1531.2 L463.0,1493.5 L465.0,1476.5 L467.0,1486.7 L469.0,1476.5 L471.0,1487.3 L473.0,1476.5 L475.0,1489.4 L477.0,1489.2 L479.0,1476.5 L481.0,1482.0 L483.0,1488.7 L485.0,1483.0 L487.0,1476.5 L489.0,1476.5 L491.0,1476.5 L493.0,1476.5 L495.0,1476.5 L497.0,1489.2 L499.0,1489.6 L501.0,1476.5 L503.0,1488.9 L505.0,1476.5 L507.0,1485.3 L509.0,1476.5 L511.0,1476.5 L513.0,1476.5 L515.0,1476.5 L517.0,1476.5 L519.0,1476.5 L521.0,1476.5 L523.0,1476.5 L525.0,1484.5 L527.0,1507.4 L529.0,1502.8 L531.0,1479.9 L533.0,1476.5 L535.0,1476.5 L537.0,1476.5 L539.0,1476.5 L541.0,1476.5 L543.0,1476.5 L545.0,1476.5 L547.0,1485.5 L549.0,1505.5 L551.0,1497.5 L553.0,1477.5 L555.0,1476.5 L557.0,1476.5 L559.0,1476.5 L561.0,1476.5 L563.0,1476.5 L565.0,1476.5 L567.0,1476.5 L569.0,1476.5 L571.0,1476.5 L573.0,1476.5 L575.0,1476.5 L577.0,1476.5 L579.0,1476.5 L581.0,1476.5 L583.0,1476.5 L585.0,1476.5 L587.0,1476.5 L589.0,1476.5 L591.0,1476.5 L593.0,1476.5 L595.0,1476.5 L597.0,1476.5 L599.0,1476.5 L601.0,1476.5 L603.0,1476.5 L605.0,1476.5 L607.0,1476.5 L609.0,1476.5 L611.0,1476.5 L613.0,1476.5 L615.0,1476.5 L617.0,1476.5 L619.0,1476.5 L621.0,1476.5 L623.0,1476.5 L625.0,1476.5 L627.0,1476.5 L629.0,1476.5 L631.0,1476.5 L633.0,1476.5 L635.0,1480.5 L637.0,1483.2 L639.0,1477.8 L641.0,1476.5 L643.0,1476.5 L645.0,1476.5 L647.0,1476.5 L649.0,1476.5 L651.0,1476.5 L653.0,1476.5 L655.0,1476.5 L657.0,1476.5 L659.0,1476.5 L661.0,1481.2 L663.0,1485.2 L665.0,1478.5 L667.0,1476.5 L669.0,1476.5 L671.0,1476.5 L673.0,1476.5 L675.0,1476.5 L677.0,1476.5 L679.0,1476.5 L681.0,1476.5 L683.0,1476.5 L685.0,1476.5 L687.0,1476.5 L689.0,1476.5 L691.0,1476.5 L693.0,1476.5 L695.0,1476.5 L697.0,1476.5 L699.0,1476.5 L701.0,1476.5 L703.0,1484.4 L705.0,1476.5 L707.0,1483.8 L709.0,1488.2 L711.0,1494.1 L713.0,1479.4 L715.0,1476.5 L717.0,1481.9 L719.0,1490.5 L721.0,1481.2 L723.0,1476.5 L725.0,1476.5 L727.0,1480.5 L729.0,1488.5 L731.0,1485.1 L733.0,1482.5 L735.0,1482.6 L737.0,1489.5 L739.0,1503.5 L741.0,1485.0 L743.0,1485.0 L745.0,1476.5 L747.0,1478.9 L749.0,1490.9 L751.0,1486.1 L753.0,1476.5 L755.0,1486.2 L757.0,1476.5 L759.0,1476.5 L761.0,1476.5 L763.0,1476.5 L765.0,1476.5 L767.0,1476.5 L769.0,1476.5 L771.0,1476.5 L773.0,1476.5 L775.0,1476.5 L777.0,1476.5 L779.0,1476.5 L781.0,1476.5 L783.0,1476.5 L785.0,1476.5 L787.0,1476.5 L789.0,1476.5 L791.0,1478.5 L793.0,1482.5 L795.0,1478.5 L797.0,1476.5 L799.0,1476.5 L801.0,1476.5 L803.0,1476.5 L805.0,1476.5 L807.0,1476.5 L809.0,1476.5 L811.0,1476.5 L813.0,1476.5 L815.0,1476.5 L817.0,1476.5 L819.0,1476.5 L821.0,1476.5 L823.0,1476.5 L825.0,1476.5 L827.0,1476.5 L829.0,1476.5 L831.0,1476.5 L833.0,1476.5 L835.0,1476.5 L837.0,1476.5 L839.0,1476.5 L841.0,1476.5 L843.0,1476.5 L845.0,1476.5 L847.0,1476.5 L849.0,1476.5 L851.0,1476.5 L853.0,1476.5 L855.0,1476.5 L857.0,1476.5 L859.0,1476.5 L861.0,1476.5 L863.0,1476.5 L865.0,1476.5 L867.0,1476.5 L869.0,1476.5 L871.0,1476.5 L873.0,1476.5 L875.0,1476.5 L877.0,1476.5 L879.0,1476.5 L881.0,1476.5 L883.0,1476.5 L885.0,1476.5 L887.0,1484.3 L889.0,1492.7 L891.0,1480.7 L893.0,1476.5 L895.0,1476.5 L897.0,1476.5 L899.0,1476.5 L901.0,1476.5 L903.0,1476.5 L905.0,1476.5 L912.0,1462.0 L918.0,1452.0 L922.0,1446.0 L929.0,1432.5 L931.0,1432.5 L933.0,1432.5 L935.0,1432.5 L937.0,1438.6 L939.0,1432.5 L941.0,1432.5 L943.0,1437.2 L945.0,1435.8 L947.0,1432.5 L949.0,1432.5 L951.0,1438.8 L953.0,1432.5 L955.0,1432.5 L957.0,1437.9 L959.0,1432.5 L961.0,1432.5 L963.0,1432.5 L965.0,1432.5 L967.0,1432.5 L969.0,1432.5 L971.0,1432.5 L973.0,1432.5 L975.0,1432.5 L977.0,1432.5 L979.0,1432.5 L981.0,1432.5 L983.0,1432.5 L985.0,1432.5 L987.0,1432.5 L989.0,1432.5 L991.0,1432.5 L993.0,1432.5 L995.0,1432.5 L997.0,1432.5 L999.0,1432.5 L1001.0,1432.5 L1003.0,1432.5 L1005.0,1432.5 L1007.0,1432.5 L1009.0,1432.5 L1011.0,1432.5 L1013.0,1432.5 L1015.0,1432.5 L1017.0,1432.5 L1019.0,1432.5 L1021.0,1432.5 L1023.0,1432.5 L1025.0,1432.5 L1027.0,1432.5 L1029.0,1432.5 L1031.0,1432.5 L1033.0,1437.5 L1035.0,1432.5 L1037.0,1432.5 L1039.0,1432.5 L1041.0,1434.3 L1043.0,1438.3 L1045.0,1435.8 L1047.0,1432.5 L1049.0,1436.6 L1051.0,1432.5 L1053.0,1432.5 L1055.0,1432.5 L1057.0,1432.5 L1059.0,1432.5 L1061.0,1432.5 L1063.0,1432.5 L1065.0,1432.5 L1067.0,1432.5 L1069.0,1432.5 L1071.0,1432.5 L1073.0,1432.5 L1075.0,1432.5 L1077.0,1432.5 L1079.0,1432.5 L1081.0,1432.5 L1083.0,1432.5 L1085.0,1432.5 L1087.0,1432.5 L1089.0,1432.5 L1091.0,1432.5 L1093.0,1432.5 L1095.0,1432.5 L1097.0,1432.5 L1099.0,1432.5 L1101.0,1432.5 L1103.0,1432.5 L1105.0,1432.5 L1107.0,1432.5 L1109.0,1432.5 L1111.0,1432.5 L1113.0,1432.5 L1115.0,1432.5 L1117.0,1432.5 L1119.0,1432.5 L1121.0,1432.5 L1123.0,1432.5 L1125.0,1432.5 L1127.0,1432.5 L1129.0,1432.5 L1131.0,1432.5 L1133.0,1438.2 L1135.0,1432.5 L1137.0,1436.2 L1139.0,1432.5 L1141.0,1437.7 L1143.0,1432.5 L1145.0,1432.5 L1147.0,1432.5 L1149.0,1432.5 L1151.0,1438.1 L1153.0,1432.5 L1155.0,1432.5 L1157.0,1439.2 L1159.0,1435.8 L1161.0,1432.5 L1163.0,1432.5 L1165.0,1432.5 L1167.0,1432.5 L1169.0,1436.4 L1171.0,1432.5 L1173.0,1435.6 L1175.0,1432.5 L1177.0,1438.5 L1179.0,1432.5 L1181.0,1432.5 L1183.0,1432.5 L1185.0,1437.3 L1187.0,1438.9 L1189.0,1436.7 L1191.0,1437.4 L1193.0,1432.5 L1195.0,1432.5 L1197.0,1432.5 L1199.0,1432.5 L1201.0,1437.8 L1203.0,1432.5 L1205.0,1432.5 L1207.0,1432.5 L1209.0,1432.5 L1211.0,1432.5 L1213.0,1432.5 L1215.0,1432.5 L1217.0,1432.5 L1219.0,1432.5 L1221.0,1432.5 L1221.0,1822.6 L111.0,1822.6 Z" fill="url(#g_p_b)" stroke="none"/>
<path d="M111.0,1813.0 L113.0,1810.0 L116.0,1807.3 L119.0,1800.1 L122.0,1799.9 L125.0,1796.6 L128.0,1791.9 L131.0,1790.4 L134.0,1789.5 L137.0,1784.3 L140.0,1784.6 L143.0,1781.2 L146.0,1783.3 L149.0,1780.6 L152.0,1776.9 L155.0,1777.2 L158.0,1777.3 L161.0,1774.7 L164.0,1771.1 L167.0,1773.7 L170.0,1767.8 L173.0,1770.3 L176.0,1769.5 L179.0,1766.9 L182.0,1766.4 L185.0,1763.3 L188.0,1760.7 L191.0,1761.0 L194.0,1761.3 L197.0,1760.5 L200.0,1757.6 L203.0,1759.4 L206.0,1753.9 L209.0,1755.2 L212.0,1750.5 L215.0,1749.3 L218.0,1749.6 L221.0,1742.4 L224.0,1742.4 L227.0,1731.7 L231.6,1714.0 L239.9,1632.0 L250.9,1605.0 L264.6,1583.0 L271.4,1572.0 L278.3,1594.0 L281.0,1489.0 L289.2,1476.5 L291.0,1476.5 L293.0,1476.5 L295.0,1476.5 L297.0,1476.5 L299.0,1476.5 L301.0,1476.5 L303.0,1476.5 L305.0,1476.5 L307.0,1476.5 L309.0,1476.5 L311.0,1476.5 L313.0,1476.5 L315.0,1476.5 L317.0,1476.5 L319.0,1476.5 L321.0,1476.5 L323.0,1476.5 L325.0,1476.5 L327.0,1476.5 L329.0,1476.5 L331.0,1476.5 L333.0,1476.5 L335.0,1476.5 L337.0,1476.5 L339.0,1476.5 L341.0,1476.5 L343.0,1476.5 L345.0,1476.5 L347.0,1476.5 L349.0,1476.5 L351.0,1476.5 L353.0,1476.5 L355.0,1476.5 L357.0,1476.5 L359.0,1476.5 L361.0,1476.5 L363.0,1476.5 L365.0,1476.5 L367.0,1476.5 L369.0,1476.5 L371.0,1476.5 L373.0,1476.5 L375.0,1476.5 L377.0,1476.5 L379.0,1476.5 L381.0,1476.5 L383.0,1476.5 L385.0,1476.5 L387.0,1476.5 L389.0,1476.5 L391.0,1476.5 L393.0,1476.5 L395.0,1476.5 L397.0,1506.5 L399.0,1519.2 L401.0,1604.5 L403.0,1519.2 L405.0,1509.8 L407.0,1476.5 L409.0,1476.5 L411.0,1476.5 L413.0,1476.5 L415.0,1476.5 L417.0,1492.8 L419.0,1488.2 L421.0,1476.5 L423.0,1488.9 L425.0,1476.5 L427.0,1486.7 L429.0,1476.5 L431.0,1476.5 L433.0,1476.5 L435.0,1484.9 L437.0,1488.3 L439.0,1476.5 L441.0,1476.5 L443.0,1476.5 L445.0,1476.5 L447.0,1476.5 L449.0,1485.6 L451.0,1476.5 L453.0,1476.5 L455.0,1476.5 L457.0,1485.3 L459.0,1516.1 L461.0,1531.2 L463.0,1493.5 L465.0,1476.5 L467.0,1486.7 L469.0,1476.5 L471.0,1487.3 L473.0,1476.5 L475.0,1489.4 L477.0,1489.2 L479.0,1476.5 L481.0,1482.0 L483.0,1488.7 L485.0,1483.0 L487.0,1476.5 L489.0,1476.5 L491.0,1476.5 L493.0,1476.5 L495.0,1476.5 L497.0,1489.2 L499.0,1489.6 L501.0,1476.5 L503.0,1488.9 L505.0,1476.5 L507.0,1485.3 L509.0,1476.5 L511.0,1476.5 L513.0,1476.5 L515.0,1476.5 L517.0,1476.5 L519.0,1476.5 L521.0,1476.5 L523.0,1476.5 L525.0,1484.5 L527.0,1507.4 L529.0,1502.8 L531.0,1479.9 L533.0,1476.5 L535.0,1476.5 L537.0,1476.5 L539.0,1476.5 L541.0,1476.5 L543.0,1476.5 L545.0,1476.5 L547.0,1485.5 L549.0,1505.5 L551.0,1497.5 L553.0,1477.5 L555.0,1476.5 L557.0,1476.5 L559.0,1476.5 L561.0,1476.5 L563.0,1476.5 L565.0,1476.5 L567.0,1476.5 L569.0,1476.5 L571.0,1476.5 L573.0,1476.5 L575.0,1476.5 L577.0,1476.5 L579.0,1476.5 L581.0,1476.5 L583.0,1476.5 L585.0,1476.5 L587.0,1476.5 L589.0,1476.5 L591.0,1476.5 L593.0,1476.5 L595.0,1476.5 L597.0,1476.5 L599.0,1476.5 L601.0,1476.5 L603.0,1476.5 L605.0,1476.5 L607.0,1476.5 L609.0,1476.5 L611.0,1476.5 L613.0,1476.5 L615.0,1476.5 L617.0,1476.5 L619.0,1476.5 L621.0,1476.5 L623.0,1476.5 L625.0,1476.5 L627.0,1476.5 L629.0,1476.5 L631.0,1476.5 L633.0,1476.5 L635.0,1480.5 L637.0,1483.2 L639.0,1477.8 L641.0,1476.5 L643.0,1476.5 L645.0,1476.5 L647.0,1476.5 L649.0,1476.5 L651.0,1476.5 L653.0,1476.5 L655.0,1476.5 L657.0,1476.5 L659.0,1476.5 L661.0,1481.2 L663.0,1485.2 L665.0,1478.5 L667.0,1476.5 L669.0,1476.5 L671.0,1476.5 L673.0,1476.5 L675.0,1476.5 L677.0,1476.5 L679.0,1476.5 L681.0,1476.5 L683.0,1476.5 L685.0,1476.5 L687.0,1476.5 L689.0,1476.5 L691.0,1476.5 L693.0,1476.5 L695.0,1476.5 L697.0,1476.5 L699.0,1476.5 L701.0,1476.5 L703.0,1484.4 L705.0,1476.5 L707.0,1483.8 L709.0,1488.2 L711.0,1494.1 L713.0,1479.4 L715.0,1476.5 L717.0,1481.9 L719.0,1490.5 L721.0,1481.2 L723.0,1476.5 L725.0,1476.5 L727.0,1480.5 L729.0,1488.5 L731.0,1485.1 L733.0,1482.5 L735.0,1482.6 L737.0,1489.5 L739.0,1503.5 L741.0,1485.0 L743.0,1485.0 L745.0,1476.5 L747.0,1478.9 L749.0,1490.9 L751.0,1486.1 L753.0,1476.5 L755.0,1486.2 L757.0,1476.5 L759.0,1476.5 L761.0,1476.5 L763.0,1476.5 L765.0,1476.5 L767.0,1476.5 L769.0,1476.5 L771.0,1476.5 L773.0,1476.5 L775.0,1476.5 L777.0,1476.5 L779.0,1476.5 L781.0,1476.5 L783.0,1476.5 L785.0,1476.5 L787.0,1476.5 L789.0,1476.5 L791.0,1478.5 L793.0,1482.5 L795.0,1478.5 L797.0,1476.5 L799.0,1476.5 L801.0,1476.5 L803.0,1476.5 L805.0,1476.5 L807.0,1476.5 L809.0,1476.5 L811.0,1476.5 L813.0,1476.5 L815.0,1476.5 L817.0,1476.5 L819.0,1476.5 L821.0,1476.5 L823.0,1476.5 L825.0,1476.5 L827.0,1476.5 L829.0,1476.5 L831.0,1476.5 L833.0,1476.5 L835.0,1476.5 L837.0,1476.5 L839.0,1476.5 L841.0,1476.5 L843.0,1476.5 L845.0,1476.5 L847.0,1476.5 L849.0,1476.5 L851.0,1476.5 L853.0,1476.5 L855.0,1476.5 L857.0,1476.5 L859.0,1476.5 L861.0,1476.5 L863.0,1476.5 L865.0,1476.5 L867.0,1476.5 L869.0,1476.5 L871.0,1476.5 L873.0,1476.5 L875.0,1476.5 L877.0,1476.5 L879.0,1476.5 L881.0,1476.5 L883.0,1476.5 L885.0,1476.5 L887.0,1484.3 L889.0,1492.7 L891.0,1480.7 L893.0,1476.5 L895.0,1476.5 L897.0,1476.5 L899.0,1476.5 L901.0,1476.5 L903.0,1476.5 L905.0,1476.5 L912.0,1462.0 L918.0,1452.0 L922.0,1446.0 L929.0,1432.5 L931.0,1432.5 L933.0,1432.5 L935.0,1432.5 L937.0,1438.6 L939.0,1432.5 L941.0,1432.5 L943.0,1437.2 L945.0,1435.8 L947.0,1432.5 L949.0,1432.5 L951.0,1438.8 L953.0,1432.5 L955.0,1432.5 L957.0,1437.9 L959.0,1432.5 L961.0,1432.5 L963.0,1432.5 L965.0,1432.5 L967.0,1432.5 L969.0,1432.5 L971.0,1432.5 L973.0,1432.5 L975.0,1432.5 L977.0,1432.5 L979.0,1432.5 L981.0,1432.5 L983.0,1432.5 L985.0,1432.5 L987.0,1432.5 L989.0,1432.5 L991.0,1432.5 L993.0,1432.5 L995.0,1432.5 L997.0,1432.5 L999.0,1432.5 L1001.0,1432.5 L1003.0,1432.5 L1005.0,1432.5 L1007.0,1432.5 L1009.0,1432.5 L1011.0,1432.5 L1013.0,1432.5 L1015.0,1432.5 L1017.0,1432.5 L1019.0,1432.5 L1021.0,1432.5 L1023.0,1432.5 L1025.0,1432.5 L1027.0,1432.5 L1029.0,1432.5 L1031.0,1432.5 L1033.0,1437.5 L1035.0,1432.5 L1037.0,1432.5 L1039.0,1432.5 L1041.0,1434.3 L1043.0,1438.3 L1045.0,1435.8 L1047.0,1432.5 L1049.0,1436.6 L1051.0,1432.5 L1053.0,1432.5 L1055.0,1432.5 L1057.0,1432.5 L1059.0,1432.5 L1061.0,1432.5 L1063.0,1432.5 L1065.0,1432.5 L1067.0,1432.5 L1069.0,1432.5 L1071.0,1432.5 L1073.0,1432.5 L1075.0,1432.5 L1077.0,1432.5 L1079.0,1432.5 L1081.0,1432.5 L1083.0,1432.5 L1085.0,1432.5 L1087.0,1432.5 L1089.0,1432.5 L1091.0,1432.5 L1093.0,1432.5 L1095.0,1432.5 L1097.0,1432.5 L1099.0,1432.5 L1101.0,1432.5 L1103.0,1432.5 L1105.0,1432.5 L1107.0,1432.5 L1109.0,1432.5 L1111.0,1432.5 L1113.0,1432.5 L1115.0,1432.5 L1117.0,1432.5 L1119.0,1432.5 L1121.0,1432.5 L1123.0,1432.5 L1125.0,1432.5 L1127.0,1432.5 L1129.0,1432.5 L1131.0,1432.5 L1133.0,1438.2 L1135.0,1432.5 L1137.0,1436.2 L1139.0,1432.5 L1141.0,1437.7 L1143.0,1432.5 L1145.0,1432.5 L1147.0,1432.5 L1149.0,1432.5 L1151.0,1438.1 L1153.0,1432.5 L1155.0,1432.5 L1157.0,1439.2 L1159.0,1435.8 L1161.0,1432.5 L1163.0,1432.5 L1165.0,1432.5 L1167.0,1432.5 L1169.0,1436.4 L1171.0,1432.5 L1173.0,1435.6 L1175.0,1432.5 L1177.0,1438.5 L1179.0,1432.5 L1181.0,1432.5 L1183.0,1432.5 L1185.0,1437.3 L1187.0,1438.9 L1189.0,1436.7 L1191.0,1437.4 L1193.0,1432.5 L1195.0,1432.5 L1197.0,1432.5 L1199.0,1432.5 L1201.0,1437.8 L1203.0,1432.5 L1205.0,1432.5 L1207.0,1432.5 L1209.0,1432.5 L1211.0,1432.5 L1213.0,1432.5 L1215.0,1432.5 L1217.0,1432.5 L1219.0,1432.5 L1221.0,1432.5" fill="none" stroke="#7ba1e6" stroke-width="5" stroke-linejoin="round" stroke-linecap="round"/><path d="M111.0,1813.0 L113.0,1807.9 L116.0,1794.7 L119.0,1789.9 L122.0,1790.4 L125.0,1783.1 L128.0,1782.6 L131.0,1781.9 L134.0,1781.0 L137.0,1777.0 L140.0,1778.7 L143.0,1776.8 L146.0,1777.7 L149.0,1771.5 L152.0,1775.9 L155.0,1770.0 L158.0,1772.0 L161.0,1768.3 L164.0,1768.4 L167.0,1762.6 L170.0,1761.6 L173.0,1758.3 L176.0,1760.6 L179.0,1757.3 L182.0,1753.4 L185.0,1751.0 L188.0,1747.9 L191.0,1746.2 L194.0,1746.0 L196.0,1744.0 L200.0,1683.0 L202.8,1714.0 L209.7,1720.0 L215.2,1731.0 L220.7,1618.0 L224.8,1703.0 L237.0,1701.0 L245.4,1654.0 L249.5,1687.0 L256.3,1517.0 L260.4,1632.0 L264.6,1687.0 L270.0,1703.0 L281.0,1681.0 L283.8,1530.0 L289.2,1550.0 L294.7,1596.0 L305.7,1594.0 L311.2,1555.0 L316.7,1539.0 L322.2,1618.0 L324.9,1492.0 L330.4,1605.0 L335.9,1648.0 L341.4,1517.0 L346.8,1610.0 L352.3,1555.0 L360.6,1470.0 L363.3,1632.0 L371.5,1509.0 L377.0,1651.0 L382.5,1470.0 L388.0,1632.0 L393.5,1530.0 L396.2,1473.0 L402.0,1530.0 L406.0,1475.0 L410.0,1536.0 L418.0,1536.0 L421.0,1471.5 L423.0,1471.5 L425.0,1471.5 L427.0,1471.5 L429.0,1471.5 L431.0,1471.5 L433.0,1471.5 L435.0,1471.5 L437.0,1484.9 L439.0,1499.4 L441.0,1478.7 L443.0,1471.5 L445.0,1471.5 L447.0,1471.5 L449.0,1471.5 L451.0,1471.5 L453.0,1471.5 L455.0,1471.5 L457.0,1471.5 L459.0,1471.5 L461.0,1471.5 L463.0,1471.5 L465.0,1471.5 L467.0,1471.5 L469.0,1471.5 L471.0,1473.0 L473.0,1479.0 L475.0,1476.0 L477.0,1471.5 L479.0,1471.5 L481.0,1471.5 L483.0,1471.5 L485.0,1471.5 L487.0,1471.5 L489.0,1471.5 L491.0,1471.5 L493.0,1471.5 L495.0,1471.5 L497.0,1471.5 L499.0,1471.5 L501.0,1471.5 L503.0,1471.5 L505.0,1471.5 L507.0,1471.5 L509.0,1471.5 L511.0,1471.5 L513.0,1471.5 L515.0,1471.5 L517.0,1471.5 L519.0,1471.5 L521.0,1472.7 L523.0,1477.3 L525.0,1475.0 L527.0,1471.5 L529.0,1471.5 L531.0,1471.5 L533.0,1471.5 L535.0,1471.5 L537.0,1471.5 L539.0,1471.5 L541.0,1471.5 L543.0,1471.5 L545.0,1471.5 L547.0,1471.5 L549.0,1471.5 L551.0,1471.5 L553.0,1471.5 L555.0,1488.2 L557.0,1488.2 L559.0,1507.5 L561.0,1507.5 L563.0,1626.5 L565.0,1564.5 L567.0,1511.5 L569.0,1484.8 L571.0,1484.7 L573.0,1482.3 L575.0,1471.5 L577.0,1471.5 L579.0,1471.5 L581.0,1471.5 L583.0,1471.5 L585.0,1471.5 L587.0,1471.5 L589.0,1471.5 L591.0,1471.5 L593.0,1471.5 L595.0,1471.5 L597.0,1471.5 L599.0,1471.5 L601.0,1471.5 L603.0,1471.5 L605.0,1471.5 L607.0,1471.5 L609.0,1471.5 L611.0,1471.5 L613.0,1471.5 L615.0,1471.5 L617.0,1471.5 L619.0,1471.5 L621.0,1471.5 L623.0,1475.1 L625.0,1493.1 L627.0,1485.9 L629.0,1471.5 L631.0,1471.5 L633.0,1471.5 L635.0,1471.5 L637.0,1471.5 L639.0,1471.5 L641.0,1471.5 L643.0,1471.5 L645.0,1471.5 L647.0,1471.5 L649.0,1471.5 L651.0,1471.5 L653.0,1471.5 L655.0,1471.5 L657.0,1471.5 L659.0,1471.5 L661.0,1471.5 L663.0,1471.5 L665.0,1471.5 L667.0,1471.5 L669.0,1475.5 L671.0,1483.5 L673.0,1475.5 L675.0,1471.5 L677.0,1471.5 L679.0,1471.5 L681.0,1471.5 L683.0,1471.5 L685.0,1471.5 L687.0,1471.5 L689.0,1471.5 L691.0,1471.5 L693.0,1471.5 L695.0,1471.5 L697.0,1471.5 L699.0,1471.5 L701.0,1471.5 L703.0,1471.5 L705.0,1471.5 L707.0,1471.5 L709.0,1471.5 L711.0,1471.5 L713.0,1471.5 L715.0,1471.5 L717.0,1471.5 L719.0,1471.5 L721.0,1471.5 L723.0,1471.5 L725.0,1471.5 L727.0,1471.5 L729.0,1471.5 L731.0,1471.5 L733.0,1471.5 L735.0,1471.5 L737.0,1471.5 L739.0,1471.5 L741.0,1471.5 L743.0,1471.5 L745.0,1471.5 L747.0,1471.5 L749.0,1471.5 L751.0,1471.5 L753.0,1471.5 L755.0,1471.5 L757.0,1471.5 L759.0,1471.5 L761.0,1471.5 L763.0,1471.5 L765.0,1471.5 L767.0,1471.5 L769.0,1471.5 L771.0,1471.5 L773.0,1471.5 L775.0,1471.5 L777.0,1471.5 L779.0,1471.5 L781.0,1471.5 L783.0,1471.5 L785.0,1471.5 L787.0,1471.5 L789.0,1471.5 L791.0,1471.5 L793.0,1471.5 L795.0,1471.5 L797.0,1471.5 L799.0,1471.5 L801.0,1471.5 L803.0,1471.5 L805.0,1471.5 L807.0,1471.5 L809.0,1471.5 L811.0,1471.5 L813.0,1471.5 L815.0,1471.5 L817.0,1471.5 L819.0,1471.5 L821.0,1471.5 L823.0,1471.5 L825.0,1471.5 L827.0,1471.5 L829.0,1471.5 L831.0,1471.5 L833.0,1471.5 L835.0,1471.5 L837.0,1471.5 L839.0,1471.5 L841.0,1471.5 L843.0,1471.5 L845.0,1471.5 L847.0,1471.5 L849.0,1471.5 L851.0,1471.5 L853.0,1471.5 L855.0,1471.5 L857.0,1471.5 L859.0,1471.5 L861.0,1471.5 L863.0,1471.5 L865.0,1471.5 L867.0,1471.5 L869.0,1471.5 L871.0,1471.5 L873.0,1471.5 L875.0,1471.5 L877.0,1471.5 L879.0,1471.5 L881.0,1471.5 L883.0,1471.5 L885.0,1471.5 L887.0,1471.5 L889.0,1471.5 L891.0,1471.5 L893.0,1471.5 L895.0,1471.5 L897.0,1471.5 L899.0,1471.5 L901.0,1471.5 L903.0,1471.5 L905.0,1471.5 L907.0,1471.5 L909.0,1471.5 L911.0,1471.5 L913.0,1471.5 L915.0,1471.5 L917.0,1471.5 L919.0,1471.5 L921.0,1471.5 L923.0,1471.5 L925.0,1471.5 L927.0,1471.5 L929.0,1471.5 L931.0,1471.5 L933.0,1471.5 L935.0,1471.5 L937.0,1471.5 L939.0,1471.5 L941.0,1471.5 L943.0,1471.5 L945.0,1471.5 L947.0,1471.5 L949.0,1471.5 L951.0,1471.5 L953.0,1471.5 L955.0,1471.5 L957.0,1471.5 L959.0,1471.5 L961.0,1471.5 L963.0,1471.5 L965.0,1471.5 L967.0,1471.5 L969.0,1471.5 L971.0,1471.5 L973.0,1471.5 L975.0,1471.5 L977.0,1471.5 L979.0,1471.5 L981.0,1471.5 L983.0,1471.5 L985.0,1471.5 L987.0,1471.5 L989.0,1471.5 L991.0,1471.5 L993.0,1471.5 L995.0,1471.5 L997.0,1471.5 L999.0,1471.5 L1001.0,1471.5 L1003.0,1471.5 L1005.0,1471.5 L1007.0,1471.5 L1009.0,1471.5 L1011.0,1471.5 L1013.0,1471.5 L1015.0,1471.5 L1017.0,1471.5 L1019.0,1471.5 L1021.0,1471.5 L1023.0,1471.5 L1025.0,1471.5 L1027.0,1471.5 L1029.0,1471.5 L1031.0,1471.5 L1033.0,1471.5 L1035.0,1471.5 L1037.0,1471.5 L1039.0,1471.5 L1041.0,1471.5 L1043.0,1471.5 L1045.0,1471.5 L1047.0,1471.5 L1049.0,1471.5 L1051.0,1471.5 L1053.0,1471.5 L1055.0,1471.5 L1057.0,1471.5 L1059.0,1471.5 L1061.0,1471.5 L1063.0,1471.5 L1065.0,1471.5 L1067.0,1471.5 L1069.0,1471.5 L1071.0,1471.5 L1073.0,1471.5 L1075.0,1471.5 L1077.0,1471.5 L1079.0,1471.5 L1081.0,1471.5 L1083.0,1471.5 L1085.0,1471.5 L1087.0,1471.5 L1089.0,1471.5 L1091.0,1471.5 L1093.0,1471.5 L1095.0,1471.5 L1097.0,1471.5 L1099.0,1471.5 L1101.0,1471.5 L1103.0,1471.5 L1105.0,1471.5 L1107.0,1471.5 L1109.0,1471.5 L1111.0,1471.5 L1113.0,1471.5 L1115.0,1471.5 L1117.0,1471.5 L1119.0,1471.5 L1121.0,1471.5 L1123.0,1471.5 L1125.0,1471.5 L1127.0,1471.5 L1129.0,1471.5 L1131.0,1471.5 L1133.0,1471.5 L1135.0,1471.5 L1137.0,1471.5 L1139.0,1471.5 L1141.0,1471.5 L1143.0,1471.5 L1145.0,1471.5 L1147.0,1471.5 L1149.0,1471.5 L1151.0,1471.5 L1153.0,1471.5 L1155.0,1471.5 L1157.0,1471.5 L1159.0,1471.5 L1161.0,1471.5 L1163.0,1471.5 L1165.0,1471.5 L1167.0,1471.5 L1169.0,1471.5 L1171.0,1471.5 L1173.0,1471.5 L1175.0,1471.5 L1177.0,1471.5 L1179.0,1471.5 L1181.0,1471.5 L1183.0,1471.5 L1185.0,1471.5 L1187.0,1471.5 L1189.0,1471.5 L1191.0,1471.5 L1193.0,1471.5 L1195.0,1471.5 L1197.0,1471.5 L1199.0,1471.5 L1201.0,1471.5 L1203.0,1471.5 L1205.0,1471.5 L1207.0,1471.5 L1209.0,1471.5 L1211.0,1471.5 L1213.0,1471.5 L1215.0,1471.5 L1217.0,1471.5 L1219.0,1471.5 L1221.0,1471.5 L1221.0,1822.6 L111.0,1822.6 Z" fill="url(#g_p_o)" stroke="none"/>
<path d="M111.0,1813.0 L113.0,1807.9 L116.0,1794.7 L119.0,1789.9 L122.0,1790.4 L125.0,1783.1 L128.0,1782.6 L131.0,1781.9 L134.0,1781.0 L137.0,1777.0 L140.0,1778.7 L143.0,1776.8 L146.0,1777.7 L149.0,1771.5 L152.0,1775.9 L155.0,1770.0 L158.0,1772.0 L161.0,1768.3 L164.0,1768.4 L167.0,1762.6 L170.0,1761.6 L173.0,1758.3 L176.0,1760.6 L179.0,1757.3 L182.0,1753.4 L185.0,1751.0 L188.0,1747.9 L191.0,1746.2 L194.0,1746.0 L196.0,1744.0 L200.0,1683.0 L202.8,1714.0 L209.7,1720.0 L215.2,1731.0 L220.7,1618.0 L224.8,1703.0 L237.0,1701.0 L245.4,1654.0 L249.5,1687.0 L256.3,1517.0 L260.4,1632.0 L264.6,1687.0 L270.0,1703.0 L281.0,1681.0 L283.8,1530.0 L289.2,1550.0 L294.7,1596.0 L305.7,1594.0 L311.2,1555.0 L316.7,1539.0 L322.2,1618.0 L324.9,1492.0 L330.4,1605.0 L335.9,1648.0 L341.4,1517.0 L346.8,1610.0 L352.3,1555.0 L360.6,1470.0 L363.3,1632.0 L371.5,1509.0 L377.0,1651.0 L382.5,1470.0 L388.0,1632.0 L393.5,1530.0 L396.2,1473.0 L402.0,1530.0 L406.0,1475.0 L410.0,1536.0 L418.0,1536.0 L421.0,1471.5 L423.0,1471.5 L425.0,1471.5 L427.0,1471.5 L429.0,1471.5 L431.0,1471.5 L433.0,1471.5 L435.0,1471.5 L437.0,1484.9 L439.0,1499.4 L441.0,1478.7 L443.0,1471.5 L445.0,1471.5 L447.0,1471.5 L449.0,1471.5 L451.0,1471.5 L453.0,1471.5 L455.0,1471.5 L457.0,1471.5 L459.0,1471.5 L461.0,1471.5 L463.0,1471.5 L465.0,1471.5 L467.0,1471.5 L469.0,1471.5 L471.0,1473.0 L473.0,1479.0 L475.0,1476.0 L477.0,1471.5 L479.0,1471.5 L481.0,1471.5 L483.0,1471.5 L485.0,1471.5 L487.0,1471.5 L489.0,1471.5 L491.0,1471.5 L493.0,1471.5 L495.0,1471.5 L497.0,1471.5 L499.0,1471.5 L501.0,1471.5 L503.0,1471.5 L505.0,1471.5 L507.0,1471.5 L509.0,1471.5 L511.0,1471.5 L513.0,1471.5 L515.0,1471.5 L517.0,1471.5 L519.0,1471.5 L521.0,1472.7 L523.0,1477.3 L525.0,1475.0 L527.0,1471.5 L529.0,1471.5 L531.0,1471.5 L533.0,1471.5 L535.0,1471.5 L537.0,1471.5 L539.0,1471.5 L541.0,1471.5 L543.0,1471.5 L545.0,1471.5 L547.0,1471.5 L549.0,1471.5 L551.0,1471.5 L553.0,1471.5 L555.0,1488.2 L557.0,1488.2 L559.0,1507.5 L561.0,1507.5 L563.0,1626.5 L565.0,1564.5 L567.0,1511.5 L569.0,1484.8 L571.0,1484.7 L573.0,1482.3 L575.0,1471.5 L577.0,1471.5 L579.0,1471.5 L581.0,1471.5 L583.0,1471.5 L585.0,1471.5 L587.0,1471.5 L589.0,1471.5 L591.0,1471.5 L593.0,1471.5 L595.0,1471.5 L597.0,1471.5 L599.0,1471.5 L601.0,1471.5 L603.0,1471.5 L605.0,1471.5 L607.0,1471.5 L609.0,1471.5 L611.0,1471.5 L613.0,1471.5 L615.0,1471.5 L617.0,1471.5 L619.0,1471.5 L621.0,1471.5 L623.0,1475.1 L625.0,1493.1 L627.0,1485.9 L629.0,1471.5 L631.0,1471.5 L633.0,1471.5 L635.0,1471.5 L637.0,1471.5 L639.0,1471.5 L641.0,1471.5 L643.0,1471.5 L645.0,1471.5 L647.0,1471.5 L649.0,1471.5 L651.0,1471.5 L653.0,1471.5 L655.0,1471.5 L657.0,1471.5 L659.0,1471.5 L661.0,1471.5 L663.0,1471.5 L665.0,1471.5 L667.0,1471.5 L669.0,1475.5 L671.0,1483.5 L673.0,1475.5 L675.0,1471.5 L677.0,1471.5 L679.0,1471.5 L681.0,1471.5 L683.0,1471.5 L685.0,1471.5 L687.0,1471.5 L689.0,1471.5 L691.0,1471.5 L693.0,1471.5 L695.0,1471.5 L697.0,1471.5 L699.0,1471.5 L701.0,1471.5 L703.0,1471.5 L705.0,1471.5 L707.0,1471.5 L709.0,1471.5 L711.0,1471.5 L713.0,1471.5 L715.0,1471.5 L717.0,1471.5 L719.0,1471.5 L721.0,1471.5 L723.0,1471.5 L725.0,1471.5 L727.0,1471.5 L729.0,1471.5 L731.0,1471.5 L733.0,1471.5 L735.0,1471.5 L737.0,1471.5 L739.0,1471.5 L741.0,1471.5 L743.0,1471.5 L745.0,1471.5 L747.0,1471.5 L749.0,1471.5 L751.0,1471.5 L753.0,1471.5 L755.0,1471.5 L757.0,1471.5 L759.0,1471.5 L761.0,1471.5 L763.0,1471.5 L765.0,1471.5 L767.0,1471.5 L769.0,1471.5 L771.0,1471.5 L773.0,1471.5 L775.0,1471.5 L777.0,1471.5 L779.0,1471.5 L781.0,1471.5 L783.0,1471.5 L785.0,1471.5 L787.0,1471.5 L789.0,1471.5 L791.0,1471.5 L793.0,1471.5 L795.0,1471.5 L797.0,1471.5 L799.0,1471.5 L801.0,1471.5 L803.0,1471.5 L805.0,1471.5 L807.0,1471.5 L809.0,1471.5 L811.0,1471.5 L813.0,1471.5 L815.0,1471.5 L817.0,1471.5 L819.0,1471.5 L821.0,1471.5 L823.0,1471.5 L825.0,1471.5 L827.0,1471.5 L829.0,1471.5 L831.0,1471.5 L833.0,1471.5 L835.0,1471.5 L837.0,1471.5 L839.0,1471.5 L841.0,1471.5 L843.0,1471.5 L845.0,1471.5 L847.0,1471.5 L849.0,1471.5 L851.0,1471.5 L853.0,1471.5 L855.0,1471.5 L857.0,1471.5 L859.0,1471.5 L861.0,1471.5 L863.0,1471.5 L865.0,1471.5 L867.0,1471.5 L869.0,1471.5 L871.0,1471.5 L873.0,1471.5 L875.0,1471.5 L877.0,1471.5 L879.0,1471.5 L881.0,1471.5 L883.0,1471.5 L885.0,1471.5 L887.0,1471.5 L889.0,1471.5 L891.0,1471.5 L893.0,1471.5 L895.0,1471.5 L897.0,1471.5 L899.0,1471.5 L901.0,1471.5 L903.0,1471.5 L905.0,1471.5 L907.0,1471.5 L909.0,1471.5 L911.0,1471.5 L913.0,1471.5 L915.0,1471.5 L917.0,1471.5 L919.0,1471.5 L921.0,1471.5 L923.0,1471.5 L925.0,1471.5 L927.0,1471.5 L929.0,1471.5 L931.0,1471.5 L933.0,1471.5 L935.0,1471.5 L937.0,1471.5 L939.0,1471.5 L941.0,1471.5 L943.0,1471.5 L945.0,1471.5 L947.0,1471.5 L949.0,1471.5 L951.0,1471.5 L953.0,1471.5 L955.0,1471.5 L957.0,1471.5 L959.0,1471.5 L961.0,1471.5 L963.0,1471.5 L965.0,1471.5 L967.0,1471.5 L969.0,1471.5 L971.0,1471.5 L973.0,1471.5 L975.0,1471.5 L977.0,1471.5 L979.0,1471.5 L981.0,1471.5 L983.0,1471.5 L985.0,1471.5 L987.0,1471.5 L989.0,1471.5 L991.0,1471.5 L993.0,1471.5 L995.0,1471.5 L997.0,1471.5 L999.0,1471.5 L1001.0,1471.5 L1003.0,1471.5 L1005.0,1471.5 L1007.0,1471.5 L1009.0,1471.5 L1011.0,1471.5 L1013.0,1471.5 L1015.0,1471.5 L1017.0,1471.5 L1019.0,1471.5 L1021.0,1471.5 L1023.0,1471.5 L1025.0,1471.5 L1027.0,1471.5 L1029.0,1471.5 L1031.0,1471.5 L1033.0,1471.5 L1035.0,1471.5 L1037.0,1471.5 L1039.0,1471.5 L1041.0,1471.5 L1043.0,1471.5 L1045.0,1471.5 L1047.0,1471.5 L1049.0,1471.5 L1051.0,1471.5 L1053.0,1471.5 L1055.0,1471.5 L1057.0,1471.5 L1059.0,1471.5 L1061.0,1471.5 L1063.0,1471.5 L1065.0,1471.5 L1067.0,1471.5 L1069.0,1471.5 L1071.0,1471.5 L1073.0,1471.5 L1075.0,1471.5 L1077.0,1471.5 L1079.0,1471.5 L1081.0,1471.5 L1083.0,1471.5 L1085.0,1471.5 L1087.0,1471.5 L1089.0,1471.5 L1091.0,1471.5 L1093.0,1471.5 L1095.0,1471.5 L1097.0,1471.5 L1099.0,1471.5 L1101.0,1471.5 L1103.0,1471.5 L1105.0,1471.5 L1107.0,1471.5 L1109.0,1471.5 L1111.0,1471.5 L1113.0,1471.5 L1115.0,1471.5 L1117.0,1471.5 L1119.0,1471.5 L1121.0,1471.5 L1123.0,1471.5 L1125.0,1471.5 L1127.0,1471.5 L1129.0,1471.5 L1131.0,1471.5 L1133.0,1471.5 L1135.0,1471.5 L1137.0,1471.5 L1139.0,1471.5 L1141.0,1471.5 L1143.0,1471.5 L1145.0,1471.5 L1147.0,1471.5 L1149.0,1471.5 L1151.0,1471.5 L1153.0,1471.5 L1155.0,1471.5 L1157.0,1471.5 L1159.0,1471.5 L1161.0,1471.5 L1163.0,1471.5 L1165.0,1471.5 L1167.0,1471.5 L1169.0,1471.5 L1171.0,1471.5 L1173.0,1471.5 L1175.0,1471.5 L1177.0,1471.5 L1179.0,1471.5 L1181.0,1471.5 L1183.0,1471.5 L1185.0,1471.5 L1187.0,1471.5 L1189.0,1471.5 L1191.0,1471.5 L1193.0,1471.5 L1195.0,1471.5 L1197.0,1471.5 L1199.0,1471.5 L1201.0,1471.5 L1203.0,1471.5 L1205.0,1471.5 L1207.0,1471.5 L1209.0,1471.5 L1211.0,1471.5 L1213.0,1471.5 L1215.0,1471.5 L1217.0,1471.5 L1219.0,1471.5 L1221.0,1471.5" fill="none" stroke="#ebab62" stroke-width="5" stroke-linejoin="round" stroke-linecap="round"/>
<text transform="translate(51.0,1329.0) scale(1,1.06)" class="t">Connection Pool Size</text>
<text transform="translate(98.3,1486.0) scale(1,1.13)" class="ax" text-anchor="end">80</text>
<text transform="translate(98.3,1572.2) scale(1,1.13)" class="ax" text-anchor="end">60</text>
<text transform="translate(98.3,1659.8) scale(1,1.13)" class="ax" text-anchor="end">40</text>
<text transform="translate(98.3,1745.8) scale(1,1.13)" class="ax" text-anchor="end">20</text>
<text transform="translate(98.3,1832.6) scale(1,1.13)" class="ax" text-anchor="end">0</text>
<text transform="translate(175.7,1869.0) scale(1,1.13)" class="ax" text-anchor="middle">01:00</text>
<text transform="translate(396.5,1869.0) scale(1,1.13)" class="ax" text-anchor="middle">01:30</text>
<text transform="translate(617.3,1869.0) scale(1,1.13)" class="ax" text-anchor="middle">02:00</text>
<text transform="translate(838.1,1869.0) scale(1,1.13)" class="ax" text-anchor="middle">02:30</text>
<text transform="translate(1058.9,1869.0) scale(1,1.13)" class="ax" text-anchor="middle">03:00</text>
<text transform="translate(1314.0,1411.5) scale(1,1.14)" class="lh">Name</text>
<text transform="translate(1567.0,1411.5) scale(1,1.14)" class="lh">Last</text>
<text x="1636.0" y="1410.0" class="lh" style="font-size:27px">*</text>
<path d="M1658,1402 L1664,1408 L1670,1402" fill="none" stroke="#95a8e2" stroke-width="2.6" stroke-linecap="round" stroke-linejoin="round"/>
<line x1="1242" y1="1430.5" x2="1690" y2="1430.5" stroke="#24252a" stroke-width="2.5"/>
<line x1="1242" y1="1486.5" x2="1690" y2="1486.5" stroke="#24252a" stroke-width="2.5"/>
<line x1="1242" y1="1543" x2="1690" y2="1543" stroke="#24252a" stroke-width="2.5"/>
<rect x="1261" y="1453.0" width="35" height="12" rx="6" fill="#7ba1e6"/>
<text transform="translate(1314.0,1468.0) scale(1,1.14)" class="lg">PostgreSQL</text>
<text transform="translate(1668.0,1468.0) scale(1,1.14)" class="lg" text-anchor="end">90</text>
<rect x="1261" y="1509.5" width="35" height="12" rx="6" fill="#ebab62"/>
<text transform="translate(1314.0,1524.5) scale(1,1.14)" class="lg">MySQL</text>
<text transform="translate(1668.0,1524.5) scale(1,1.14)" class="lg" text-anchor="end">81</text>
<line x1="1885" y1="1464.6" x2="2920.6" y2="1464.6" stroke="#232429" stroke-width="2"/>
<line x1="1885" y1="1554.7" x2="2920.6" y2="1554.7" stroke="#232429" stroke-width="2"/>
<line x1="1885" y1="1644" x2="2920.6" y2="1644" stroke="#232429" stroke-width="2"/>
<line x1="1885" y1="1732.8" x2="2920.6" y2="1732.8" stroke="#232429" stroke-width="2"/>
<line x1="1885" y1="1822" x2="2920.6" y2="1822" stroke="#232429" stroke-width="2"/>
<line x1="1945.8" y1="1394" x2="1945.8" y2="1822" stroke="#232429" stroke-width="2"/>
<line x1="2151.4" y1="1394" x2="2151.4" y2="1822" stroke="#232429" stroke-width="2"/>
<line x1="2357.0" y1="1394" x2="2357.0" y2="1822" stroke="#232429" stroke-width="2"/>
<line x1="2562.6" y1="1394" x2="2562.6" y2="1822" stroke="#232429" stroke-width="2"/>
<line x1="2768.2" y1="1394" x2="2768.2" y2="1822" stroke="#232429" stroke-width="2"/>
<path d="M1885.0,1821.0 L1887.5,1819.9 L1890.0,1819.2 L1892.5,1817.0 L1895.0,1815.8 L1897.5,1815.3 L1900.0,1813.7 L1902.5,1812.2 L1905.0,1811.1 L1907.5,1809.7 L1910.0,1808.1 L1912.5,1807.9 L1915.0,1807.3 L1917.5,1805.6 L1920.0,1804.3 L1922.5,1802.4 L1925.0,1801.4 L1927.5,1799.4 L1930.0,1799.6 L1932.5,1797.4 L1935.0,1796.1 L1937.5,1796.6 L1940.0,1793.8 L1942.5,1794.2 L1945.0,1792.1 L1947.5,1791.2 L1950.0,1789.7 L1952.5,1787.3 L1955.0,1787.5 L1957.5,1785.0 L1960.0,1784.2 L1962.5,1782.2 L1965.0,1780.8 L1967.5,1780.5 L1970.0,1778.2 L1972.5,1778.1 L1975.0,1778.2 L1977.5,1777.4 L1980.0,1774.5 L1982.5,1772.4 L1985.0,1771.8 L1987.5,1769.8 L1990.0,1769.0 L1992.5,1769.0 L1995.0,1767.8 L1997.5,1764.8 L2000.0,1765.0 L2002.5,1763.5 L2005.0,1762.3 L2007.5,1760.2 L2010.0,1759.8 L2012.5,1757.7 L2015.0,1758.3 L2017.5,1757.0 L2020.0,1755.7 L2022.5,1753.8 L2025.0,1754.4 L2027.5,1751.2 L2030.0,1749.4 L2032.5,1748.8 L2035.0,1749.4 L2037.5,1745.6 L2040.0,1746.5 L2042.5,1745.9 L2045.0,1744.4 L2047.5,1741.8 L2050.0,1740.6 L2052.5,1740.9 L2055.0,1739.1 L2057.5,1738.2 L2060.0,1734.7 L2062.5,1735.1 L2065.0,1734.4 L2067.5,1731.3 L2070.0,1729.9 L2072.5,1731.1 L2075.0,1728.9 L2077.5,1727.1 L2080.0,1726.1 L2082.5,1724.0 L2085.0,1722.8 L2087.5,1721.0 L2090.0,1721.0 L2092.5,1718.7 L2095.0,1720.5 L2097.5,1719.6 L2100.0,1716.9 L2102.5,1713.6 L2105.0,1714.5 L2107.5,1711.4 L2110.0,1711.1 L2112.5,1708.9 L2115.0,1709.2 L2117.5,1706.2 L2120.0,1705.9 L2122.5,1704.4 L2125.0,1704.2 L2127.5,1705.0 L2130.0,1702.3 L2132.5,1702.0 L2135.0,1700.5 L2137.5,1698.5 L2140.0,1695.2 L2142.5,1693.9 L2145.0,1693.0 L2147.5,1693.5 L2150.0,1691.5 L2152.5,1693.0 L2155.0,1688.4 L2157.5,1686.9 L2160.0,1688.1 L2162.5,1686.7 L2165.0,1682.9 L2167.5,1683.0 L2170.0,1682.3 L2172.5,1682.9 L2175.0,1681.5 L2177.5,1680.7 L2180.0,1677.9 L2182.5,1678.6 L2185.0,1675.1 L2187.5,1673.0 L2190.0,1671.1 L2192.5,1673.3 L2195.0,1671.2 L2197.5,1669.8 L2200.0,1670.4 L2202.5,1667.4 L2205.0,1664.6 L2207.5,1665.3 L2210.0,1665.3 L2212.5,1660.2 L2215.0,1662.9 L2217.5,1659.0 L2220.0,1656.1 L2222.5,1657.0 L2225.0,1657.2 L2227.5,1654.4 L2230.0,1652.0 L2232.5,1653.5 L2235.0,1648.7 L2237.5,1650.5 L2240.0,1647.6 L2242.5,1647.7 L2245.0,1645.9 L2247.5,1643.4 L2250.0,1641.8 L2252.5,1644.0 L2255.0,1640.7 L2257.5,1638.5 L2260.0,1639.0 L2262.5,1638.8 L2265.0,1633.7 L2267.5,1634.6 L2270.0,1631.6 L2272.5,1633.9 L2275.0,1628.5 L2277.5,1631.8 L2280.0,1629.0 L2282.5,1627.5 L2285.0,1626.4 L2287.5,1623.7 L2290.0,1623.5 L2292.5,1620.6 L2295.0,1620.4 L2297.5,1620.6 L2300.0,1619.5 L2302.5,1616.5 L2305.0,1617.1 L2307.5,1616.9 L2310.0,1615.6 L2312.5,1609.6 L2315.0,1611.5 L2317.5,1608.2 L2320.0,1611.0 L2322.5,1608.4 L2325.0,1606.4 L2327.5,1606.3 L2330.0,1604.5 L2332.5,1601.5 L2335.0,1604.9 L2337.5,1598.2 L2340.0,1596.9 L2342.5,1597.5 L2345.0,1595.3 L2347.5,1595.7 L2350.0,1596.2 L2352.5,1593.6 L2355.0,1596.3 L2357.5,1590.9 L2360.0,1593.9 L2362.5,1593.1 L2365.0,1589.0 L2367.5,1589.6 L2370.0,1583.5 L2372.5,1588.3 L2375.0,1583.7 L2377.5,1581.9 L2380.0,1584.9 L2382.5,1580.0 L2385.0,1576.7 L2387.5,1575.1 L2390.0,1579.5 L2392.5,1573.9 L2395.0,1576.1 L2397.5,1571.0 L2400.0,1575.2 L2402.5,1575.3 L2405.0,1569.8 L2407.5,1571.8 L2410.0,1571.5 L2412.5,1565.5 L2415.0,1566.2 L2417.5,1569.0 L2420.0,1567.6 L2422.5,1563.6 L2425.0,1562.3 L2427.5,1557.2 L2430.0,1562.3 L2432.5,1562.2 L2435.0,1558.1 L2437.5,1554.4 L2440.0,1552.5 L2442.5,1555.4 L2445.0,1554.7 L2447.5,1552.9 L2450.0,1553.7 L2452.5,1546.2 L2455.0,1544.8 L2457.5,1544.5 L2460.0,1545.1 L2462.5,1541.9 L2465.0,1542.3 L2467.5,1541.1 L2470.0,1545.2 L2472.5,1541.9 L2475.0,1538.3 L2477.5,1540.0 L2480.0,1536.1 L2482.5,1542.3 L2485.0,1533.8 L2487.5,1534.2 L2490.0,1536.1 L2492.5,1538.0 L2495.0,1535.1 L2497.5,1529.7 L2500.0,1532.9 L2502.5,1533.2 L2505.0,1534.0 L2507.5,1530.5 L2510.0,1526.2 L2512.5,1530.4 L2515.0,1528.4 L2517.5,1529.3 L2520.0,1522.2 L2522.5,1527.0 L2525.0,1523.0 L2527.5,1519.7 L2530.0,1519.1 L2532.5,1516.8 L2535.0,1523.2 L2537.5,1515.4 L2540.0,1519.1 L2542.5,1514.7 L2545.0,1513.9 L2547.5,1514.0 L2550.0,1517.8 L2552.5,1509.7 L2555.0,1511.9 L2557.5,1510.5 L2560.0,1511.1 L2562.5,1511.6 L2565.0,1513.1 L2567.5,1510.1 L2570.0,1511.4 L2572.5,1510.8 L2575.0,1509.4 L2577.5,1500.9 L2580.0,1500.5 L2582.5,1504.1 L2585.0,1500.1 L2587.5,1500.9 L2590.0,1501.7 L2592.5,1500.9 L2595.0,1502.4 L2597.5,1501.7 L2600.0,1495.3 L2602.5,1498.1 L2605.0,1496.2 L2607.5,1495.1 L2610.0,1497.3 L2612.5,1496.4 L2615.0,1495.7 L2617.5,1491.4 L2620.0,1487.3 L2622.5,1492.4 L2625.0,1487.8 L2627.5,1487.8 L2630.0,1484.5 L2632.5,1483.5 L2635.0,1487.5 L2637.5,1493.5 L2640.0,1488.4 L2642.5,1482.9 L2645.0,1491.7 L2647.5,1480.7 L2650.0,1486.7 L2652.5,1477.6 L2655.0,1489.6 L2657.5,1488.3 L2660.0,1486.7 L2662.5,1479.3 L2665.0,1479.7 L2667.5,1479.7 L2670.0,1485.7 L2672.5,1479.7 L2675.0,1473.8 L2677.5,1483.7 L2680.0,1475.2 L2682.5,1479.7 L2685.0,1482.6 L2687.5,1479.5 L2690.0,1468.3 L2692.5,1480.1 L2695.0,1473.6 L2697.5,1483.1 L2700.0,1471.9 L2702.5,1467.7 L2705.0,1465.9 L2707.5,1484.7 L2710.0,1471.9 L2712.5,1461.3 L2715.0,1473.3 L2717.5,1485.7 L2720.0,1464.5 L2722.5,1485.8 L2725.0,1488.4 L2727.5,1462.7 L2730.0,1462.2 L2732.5,1459.4 L2735.0,1457.1 L2737.5,1454.0 L2740.0,1463.3 L2742.5,1489.3 L2745.0,1473.9 L2747.5,1473.7 L2750.0,1487.0 L2752.5,1458.0 L2755.0,1501.1 L2757.5,1465.5 L2760.0,1486.3 L2762.5,1463.1 L2765.0,1466.5 L2767.5,1456.6 L2770.0,1479.7 L2772.5,1483.7 L2775.0,1451.7 L2777.5,1522.0 L2780.0,1474.4 L2782.5,1506.9 L2785.0,1461.0 L2787.5,1447.0 L2790.0,1536.1 L2792.5,1466.0 L2795.0,1444.5 L2797.5,1531.5 L2800.0,1484.0 L2802.5,1444.4 L2805.0,1504.4 L2807.5,1476.0 L2810.0,1535.4 L2812.5,1521.3 L2815.0,1506.7 L2817.5,1510.5 L2820.0,1474.8 L2822.5,1530.8 L2825.0,1532.3 L2827.5,1468.2 L2830.0,1450.2 L2832.5,1451.0 L2835.0,1493.8 L2837.5,1502.0 L2840.0,1519.0 L2842.5,1527.9 L2845.0,1479.1 L2847.5,1484.3 L2850.0,1479.8 L2852.5,1526.3 L2855.0,1462.6 L2857.5,1454.0 L2860.0,1459.9 L2862.5,1526.3 L2865.0,1456.9 L2867.5,1532.0 L2870.0,1463.5 L2872.5,1474.4 L2875.0,1456.6 L2877.5,1528.5 L2880.0,1446.7 L2882.5,1453.7 L2885.0,1501.4 L2887.5,1482.2 L2890.0,1473.1 L2892.5,1478.5 L2895.0,1517.5 L2897.5,1449.9 L2900.0,1486.0 L2902.5,1456.8 L2905.0,1479.8 L2907.5,1472.3 L2910.0,1474.3 L2912.5,1470.0 L2915.0,1460.4 L2917.5,1467.2 L2920.0,1476.9 L2920.0,1822.0 L1885.0,1822.0 Z" fill="url(#g_d_o)" stroke="none"/>
<path d="M1885.0,1821.0 L1887.5,1819.9 L1890.0,1819.2 L1892.5,1817.0 L1895.0,1815.8 L1897.5,1815.3 L1900.0,1813.7 L1902.5,1812.2 L1905.0,1811.1 L1907.5,1809.7 L1910.0,1808.1 L1912.5,1807.9 L1915.0,1807.3 L1917.5,1805.6 L1920.0,1804.3 L1922.5,1802.4 L1925.0,1801.4 L1927.5,1799.4 L1930.0,1799.6 L1932.5,1797.4 L1935.0,1796.1 L1937.5,1796.6 L1940.0,1793.8 L1942.5,1794.2 L1945.0,1792.1 L1947.5,1791.2 L1950.0,1789.7 L1952.5,1787.3 L1955.0,1787.5 L1957.5,1785.0 L1960.0,1784.2 L1962.5,1782.2 L1965.0,1780.8 L1967.5,1780.5 L1970.0,1778.2 L1972.5,1778.1 L1975.0,1778.2 L1977.5,1777.4 L1980.0,1774.5 L1982.5,1772.4 L1985.0,1771.8 L1987.5,1769.8 L1990.0,1769.0 L1992.5,1769.0 L1995.0,1767.8 L1997.5,1764.8 L2000.0,1765.0 L2002.5,1763.5 L2005.0,1762.3 L2007.5,1760.2 L2010.0,1759.8 L2012.5,1757.7 L2015.0,1758.3 L2017.5,1757.0 L2020.0,1755.7 L2022.5,1753.8 L2025.0,1754.4 L2027.5,1751.2 L2030.0,1749.4 L2032.5,1748.8 L2035.0,1749.4 L2037.5,1745.6 L2040.0,1746.5 L2042.5,1745.9 L2045.0,1744.4 L2047.5,1741.8 L2050.0,1740.6 L2052.5,1740.9 L2055.0,1739.1 L2057.5,1738.2 L2060.0,1734.7 L2062.5,1735.1 L2065.0,1734.4 L2067.5,1731.3 L2070.0,1729.9 L2072.5,1731.1 L2075.0,1728.9 L2077.5,1727.1 L2080.0,1726.1 L2082.5,1724.0 L2085.0,1722.8 L2087.5,1721.0 L2090.0,1721.0 L2092.5,1718.7 L2095.0,1720.5 L2097.5,1719.6 L2100.0,1716.9 L2102.5,1713.6 L2105.0,1714.5 L2107.5,1711.4 L2110.0,1711.1 L2112.5,1708.9 L2115.0,1709.2 L2117.5,1706.2 L2120.0,1705.9 L2122.5,1704.4 L2125.0,1704.2 L2127.5,1705.0 L2130.0,1702.3 L2132.5,1702.0 L2135.0,1700.5 L2137.5,1698.5 L2140.0,1695.2 L2142.5,1693.9 L2145.0,1693.0 L2147.5,1693.5 L2150.0,1691.5 L2152.5,1693.0 L2155.0,1688.4 L2157.5,1686.9 L2160.0,1688.1 L2162.5,1686.7 L2165.0,1682.9 L2167.5,1683.0 L2170.0,1682.3 L2172.5,1682.9 L2175.0,1681.5 L2177.5,1680.7 L2180.0,1677.9 L2182.5,1678.6 L2185.0,1675.1 L2187.5,1673.0 L2190.0,1671.1 L2192.5,1673.3 L2195.0,1671.2 L2197.5,1669.8 L2200.0,1670.4 L2202.5,1667.4 L2205.0,1664.6 L2207.5,1665.3 L2210.0,1665.3 L2212.5,1660.2 L2215.0,1662.9 L2217.5,1659.0 L2220.0,1656.1 L2222.5,1657.0 L2225.0,1657.2 L2227.5,1654.4 L2230.0,1652.0 L2232.5,1653.5 L2235.0,1648.7 L2237.5,1650.5 L2240.0,1647.6 L2242.5,1647.7 L2245.0,1645.9 L2247.5,1643.4 L2250.0,1641.8 L2252.5,1644.0 L2255.0,1640.7 L2257.5,1638.5 L2260.0,1639.0 L2262.5,1638.8 L2265.0,1633.7 L2267.5,1634.6 L2270.0,1631.6 L2272.5,1633.9 L2275.0,1628.5 L2277.5,1631.8 L2280.0,1629.0 L2282.5,1627.5 L2285.0,1626.4 L2287.5,1623.7 L2290.0,1623.5 L2292.5,1620.6 L2295.0,1620.4 L2297.5,1620.6 L2300.0,1619.5 L2302.5,1616.5 L2305.0,1617.1 L2307.5,1616.9 L2310.0,1615.6 L2312.5,1609.6 L2315.0,1611.5 L2317.5,1608.2 L2320.0,1611.0 L2322.5,1608.4 L2325.0,1606.4 L2327.5,1606.3 L2330.0,1604.5 L2332.5,1601.5 L2335.0,1604.9 L2337.5,1598.2 L2340.0,1596.9 L2342.5,1597.5 L2345.0,1595.3 L2347.5,1595.7 L2350.0,1596.2 L2352.5,1593.6 L2355.0,1596.3 L2357.5,1590.9 L2360.0,1593.9 L2362.5,1593.1 L2365.0,1589.0 L2367.5,1589.6 L2370.0,1583.5 L2372.5,1588.3 L2375.0,1583.7 L2377.5,1581.9 L2380.0,1584.9 L2382.5,1580.0 L2385.0,1576.7 L2387.5,1575.1 L2390.0,1579.5 L2392.5,1573.9 L2395.0,1576.1 L2397.5,1571.0 L2400.0,1575.2 L2402.5,1575.3 L2405.0,1569.8 L2407.5,1571.8 L2410.0,1571.5 L2412.5,1565.5 L2415.0,1566.2 L2417.5,1569.0 L2420.0,1567.6 L2422.5,1563.6 L2425.0,1562.3 L2427.5,1557.2 L2430.0,1562.3 L2432.5,1562.2 L2435.0,1558.1 L2437.5,1554.4 L2440.0,1552.5 L2442.5,1555.4 L2445.0,1554.7 L2447.5,1552.9 L2450.0,1553.7 L2452.5,1546.2 L2455.0,1544.8 L2457.5,1544.5 L2460.0,1545.1 L2462.5,1541.9 L2465.0,1542.3 L2467.5,1541.1 L2470.0,1545.2 L2472.5,1541.9 L2475.0,1538.3 L2477.5,1540.0 L2480.0,1536.1 L2482.5,1542.3 L2485.0,1533.8 L2487.5,1534.2 L2490.0,1536.1 L2492.5,1538.0 L2495.0,1535.1 L2497.5,1529.7 L2500.0,1532.9 L2502.5,1533.2 L2505.0,1534.0 L2507.5,1530.5 L2510.0,1526.2 L2512.5,1530.4 L2515.0,1528.4 L2517.5,1529.3 L2520.0,1522.2 L2522.5,1527.0 L2525.0,1523.0 L2527.5,1519.7 L2530.0,1519.1 L2532.5,1516.8 L2535.0,1523.2 L2537.5,1515.4 L2540.0,1519.1 L2542.5,1514.7 L2545.0,1513.9 L2547.5,1514.0 L2550.0,1517.8 L2552.5,1509.7 L2555.0,1511.9 L2557.5,1510.5 L2560.0,1511.1 L2562.5,1511.6 L2565.0,1513.1 L2567.5,1510.1 L2570.0,1511.4 L2572.5,1510.8 L2575.0,1509.4 L2577.5,1500.9 L2580.0,1500.5 L2582.5,1504.1 L2585.0,1500.1 L2587.5,1500.9 L2590.0,1501.7 L2592.5,1500.9 L2595.0,1502.4 L2597.5,1501.7 L2600.0,1495.3 L2602.5,1498.1 L2605.0,1496.2 L2607.5,1495.1 L2610.0,1497.3 L2612.5,1496.4 L2615.0,1495.7 L2617.5,1491.4 L2620.0,1487.3 L2622.5,1492.4 L2625.0,1487.8 L2627.5,1487.8 L2630.0,1484.5 L2632.5,1483.5 L2635.0,1487.5 L2637.5,1493.5 L2640.0,1488.4 L2642.5,1482.9 L2645.0,1491.7 L2647.5,1480.7 L2650.0,1486.7 L2652.5,1477.6 L2655.0,1489.6 L2657.5,1488.3 L2660.0,1486.7 L2662.5,1479.3 L2665.0,1479.7 L2667.5,1479.7 L2670.0,1485.7 L2672.5,1479.7 L2675.0,1473.8 L2677.5,1483.7 L2680.0,1475.2 L2682.5,1479.7 L2685.0,1482.6 L2687.5,1479.5 L2690.0,1468.3 L2692.5,1480.1 L2695.0,1473.6 L2697.5,1483.1 L2700.0,1471.9 L2702.5,1467.7 L2705.0,1465.9 L2707.5,1484.7 L2710.0,1471.9 L2712.5,1461.3 L2715.0,1473.3 L2717.5,1485.7 L2720.0,1464.5 L2722.5,1485.8 L2725.0,1488.4 L2727.5,1462.7 L2730.0,1462.2 L2732.5,1459.4 L2735.0,1457.1 L2737.5,1454.0 L2740.0,1463.3 L2742.5,1489.3 L2745.0,1473.9 L2747.5,1473.7 L2750.0,1487.0 L2752.5,1458.0 L2755.0,1501.1 L2757.5,1465.5 L2760.0,1486.3 L2762.5,1463.1 L2765.0,1466.5 L2767.5,1456.6 L2770.0,1479.7 L2772.5,1483.7 L2775.0,1451.7 L2777.5,1522.0 L2780.0,1474.4 L2782.5,1506.9 L2785.0,1461.0 L2787.5,1447.0 L2790.0,1536.1 L2792.5,1466.0 L2795.0,1444.5 L2797.5,1531.5 L2800.0,1484.0 L2802.5,1444.4 L2805.0,1504.4 L2807.5,1476.0 L2810.0,1535.4 L2812.5,1521.3 L2815.0,1506.7 L2817.5,1510.5 L2820.0,1474.8 L2822.5,1530.8 L2825.0,1532.3 L2827.5,1468.2 L2830.0,1450.2 L2832.5,1451.0 L2835.0,1493.8 L2837.5,1502.0 L2840.0,1519.0 L2842.5,1527.9 L2845.0,1479.1 L2847.5,1484.3 L2850.0,1479.8 L2852.5,1526.3 L2855.0,1462.6 L2857.5,1454.0 L2860.0,1459.9 L2862.5,1526.3 L2865.0,1456.9 L2867.5,1532.0 L2870.0,1463.5 L2872.5,1474.4 L2875.0,1456.6 L2877.5,1528.5 L2880.0,1446.7 L2882.5,1453.7 L2885.0,1501.4 L2887.5,1482.2 L2890.0,1473.1 L2892.5,1478.5 L2895.0,1517.5 L2897.5,1449.9 L2900.0,1486.0 L2902.5,1456.8 L2905.0,1479.8 L2907.5,1472.3 L2910.0,1474.3 L2912.5,1470.0 L2915.0,1460.4 L2917.5,1467.2 L2920.0,1476.9" fill="none" stroke="#ebab62" stroke-width="5" stroke-linejoin="round" stroke-linecap="round"/>
<line x1="1885" y1="1821.5" x2="2920.6" y2="1821.5" stroke="#7ba1e6" stroke-width="6"/>
<text transform="translate(1751.0,1329.0) scale(1,1.06)" class="t">Disk Reads IOps</text>
<text transform="translate(1874.5,1474.6) scale(1,1.13)" class="ax" text-anchor="end">20K io/s</text>
<text transform="translate(1874.5,1564.7) scale(1,1.13)" class="ax" text-anchor="end">15K io/s</text>
<text transform="translate(1874.5,1654.0) scale(1,1.13)" class="ax" text-anchor="end">10K io/s</text>
<text transform="translate(1874.5,1742.8) scale(1,1.13)" class="ax" text-anchor="end">5K io/s</text>
<text transform="translate(1874.5,1832.0) scale(1,1.13)" class="ax" text-anchor="end">0 io/s</text>
<text transform="translate(1945.8,1869.0) scale(1,1.13)" class="ax" text-anchor="middle">01:00</text>
<text transform="translate(2151.4,1869.0) scale(1,1.13)" class="ax" text-anchor="middle">01:30</text>
<text transform="translate(2357.0,1869.0) scale(1,1.13)" class="ax" text-anchor="middle">02:00</text>
<text transform="translate(2562.6,1869.0) scale(1,1.13)" class="ax" text-anchor="middle">02:30</text>
<text transform="translate(2768.2,1869.0) scale(1,1.13)" class="ax" text-anchor="middle">03:00</text>
<text transform="translate(3013.0,1411.5) scale(1,1.14)" class="lh">Name</text>
<text transform="translate(3269.0,1411.5) scale(1,1.14)" class="lh">Last</text>
<text x="3338.0" y="1410.0" class="lh" style="font-size:27px">*</text>
<path d="M3360,1402 L3366,1408 L3372,1402" fill="none" stroke="#95a8e2" stroke-width="2.6" stroke-linecap="round" stroke-linejoin="round"/>
<line x1="2941" y1="1430.5" x2="3389" y2="1430.5" stroke="#24252a" stroke-width="2.5"/>
<line x1="2941" y1="1486.5" x2="3389" y2="1486.5" stroke="#24252a" stroke-width="2.5"/>
<line x1="2941" y1="1543" x2="3389" y2="1543" stroke="#24252a" stroke-width="2.5"/>
<rect x="2960" y="1453.0" width="35" height="12" rx="6" fill="#ebab62"/>
<text transform="translate(3013.0,1468.0) scale(1,1.14)" class="lg">MySQL</text>
<text transform="translate(3367.0,1468.0) scale(1,1.14)" class="lg" text-anchor="end">19.5K io/s</text>
<rect x="2960" y="1509.5" width="35" height="12" rx="6" fill="#7ba1e6"/>
<text transform="translate(3013.0,1524.5) scale(1,1.14)" class="lg">PostgreSQL</text>
<text transform="translate(3367.0,1524.5) scale(1,1.14)" class="lg" text-anchor="end">0 io/s</text>
<g transform="translate(3396,129.5) scale(0.96)"><path d="M0,0 L0,58 L13,46 L22,66 L31,62 L22,42 L40,42 Z" fill="#000" stroke="#fff" stroke-width="4" stroke-linejoin="round"/></g>
</svg>
<div style="position:absolute;left:0;top:0;width:3448px;height:4px;background:#08090b"></div>
<div style="position:absolute;left:3440px;top:0;width:2px;height:1904px;background:#0d0e10"></div>
<div style="position:absolute;left:3442px;top:0;width:6px;height:1904px;background:#3c3d41"></div>
</body></html>
